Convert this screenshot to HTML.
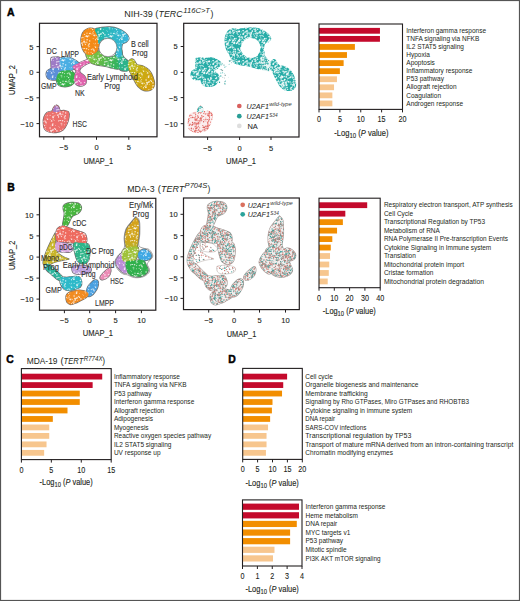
<!DOCTYPE html>
<html><head><meta charset="utf-8"><style>
html,body{margin:0;padding:0;background:#fff;width:520px;height:601px;overflow:hidden;font-family:"Liberation Sans",sans-serif;}
</style></head><body>
<svg width="520" height="601" viewBox="0 0 520 601" style="position:absolute;left:0;top:0" font-family='"Liberation Sans", sans-serif'>
<rect x="0" y="0" width="520" height="601" fill="#fff"/>
<text x="6.90" y="15.80" font-size="10.4" text-anchor="start" fill="#000" font-weight="bold" stroke="#000" stroke-width="0.45">A</text>
<text x="7.20" y="191.20" font-size="10.4" text-anchor="start" fill="#000" font-weight="bold" stroke="#000" stroke-width="0.45">B</text>
<text x="6.30" y="363.10" font-size="10.4" text-anchor="start" fill="#000" font-weight="bold" stroke="#000" stroke-width="0.45">C</text>
<text x="228.20" y="362.80" font-size="10.4" text-anchor="start" fill="#000" font-weight="bold" stroke="#000" stroke-width="0.45">D</text>
<text x="124.20" y="16.80" font-size="9.4" text-anchor="start" fill="#231f20" textLength="28.5" lengthAdjust="spacingAndGlyphs">NIH-39</text>
<text x="155.20" y="16.80" font-size="9.4" text-anchor="start" fill="#231f20" textLength="3.1" lengthAdjust="spacingAndGlyphs">(</text>
<text x="158.60" y="16.80" font-size="9.4" text-anchor="start" fill="#231f20" font-style="italic" textLength="23.9" lengthAdjust="spacingAndGlyphs">TERC</text>
<text x="183.30" y="12.80" font-size="6.8" text-anchor="start" fill="#231f20" font-style="italic" textLength="26.7" lengthAdjust="spacingAndGlyphs">116C&gt;T</text>
<text x="210.40" y="16.80" font-size="9.4" text-anchor="start" fill="#231f20" textLength="2.9" lengthAdjust="spacingAndGlyphs">)</text>
<text x="127.30" y="191.80" font-size="9.4" text-anchor="start" fill="#231f20" textLength="27.3" lengthAdjust="spacingAndGlyphs">MDA-3</text>
<text x="157.70" y="191.80" font-size="9.4" text-anchor="start" fill="#231f20" textLength="3.1" lengthAdjust="spacingAndGlyphs">(</text>
<text x="161.00" y="191.80" font-size="9.4" text-anchor="start" fill="#231f20" font-style="italic" textLength="23.2" lengthAdjust="spacingAndGlyphs">TERT</text>
<text x="184.60" y="188.40" font-size="6.7" text-anchor="start" fill="#231f20" font-style="italic" textLength="22.7" lengthAdjust="spacingAndGlyphs">P704S</text>
<text x="207.60" y="191.80" font-size="9.4" text-anchor="start" fill="#231f20" textLength="2.8" lengthAdjust="spacingAndGlyphs">)</text>
<text x="26.70" y="363.60" font-size="9.4" text-anchor="start" fill="#231f20" textLength="30.8" lengthAdjust="spacingAndGlyphs">MDA-19</text>
<text x="60.40" y="363.60" font-size="9.4" text-anchor="start" fill="#231f20" textLength="3.1" lengthAdjust="spacingAndGlyphs">(</text>
<text x="63.60" y="363.60" font-size="9.4" text-anchor="start" fill="#231f20" font-style="italic" textLength="19.7" lengthAdjust="spacingAndGlyphs">TERT</text>
<text x="83.70" y="360.60" font-size="6.5" text-anchor="start" fill="#231f20" font-style="italic" textLength="18.8" lengthAdjust="spacingAndGlyphs">R774X</text>
<text x="102.20" y="363.60" font-size="9.4" text-anchor="start" fill="#231f20" textLength="2.8" lengthAdjust="spacingAndGlyphs">)</text>
<rect x="319.00" y="27.90" width="60.95" height="5.8" fill="#c40a2c"/>
<rect x="319.00" y="35.97" width="60.95" height="5.8" fill="#c40a2c"/>
<rect x="319.00" y="44.04" width="35.90" height="5.8" fill="#f28e00"/>
<rect x="319.00" y="52.11" width="27.97" height="5.8" fill="#f28e00"/>
<rect x="319.00" y="60.18" width="24.63" height="5.8" fill="#f28e00"/>
<rect x="319.00" y="68.25" width="20.88" height="5.8" fill="#f28e00"/>
<rect x="319.00" y="76.32" width="17.95" height="5.8" fill="#f7c68e"/>
<rect x="319.00" y="84.39" width="15.03" height="5.8" fill="#f7c68e"/>
<rect x="319.00" y="92.46" width="13.36" height="5.8" fill="#f7c68e"/>
<rect x="319.00" y="100.53" width="13.36" height="5.8" fill="#f7c68e"/>
<rect x="319.00" y="24.00" width="83.50" height="85.40" fill="none" stroke="#231f20" stroke-width="1.1"/>
<line x1="319.00" y1="109.40" x2="319.00" y2="112.40" stroke="#231f20" stroke-width="1"/>
<text x="319.00" y="122.30" font-size="8.3" text-anchor="middle" fill="#231f20" textLength="4.0" lengthAdjust="spacingAndGlyphs" stroke="#231f20" stroke-width="0.1">0</text>
<line x1="339.88" y1="109.40" x2="339.88" y2="112.40" stroke="#231f20" stroke-width="1"/>
<text x="339.88" y="122.30" font-size="8.3" text-anchor="middle" fill="#231f20" textLength="4.0" lengthAdjust="spacingAndGlyphs" stroke="#231f20" stroke-width="0.1">5</text>
<line x1="360.75" y1="109.40" x2="360.75" y2="112.40" stroke="#231f20" stroke-width="1"/>
<text x="360.75" y="122.30" font-size="8.3" text-anchor="middle" fill="#231f20" textLength="8.0" lengthAdjust="spacingAndGlyphs" stroke="#231f20" stroke-width="0.1">10</text>
<line x1="381.62" y1="109.40" x2="381.62" y2="112.40" stroke="#231f20" stroke-width="1"/>
<text x="381.62" y="122.30" font-size="8.3" text-anchor="middle" fill="#231f20" textLength="8.0" lengthAdjust="spacingAndGlyphs" stroke="#231f20" stroke-width="0.1">15</text>
<line x1="402.50" y1="109.40" x2="402.50" y2="112.40" stroke="#231f20" stroke-width="1"/>
<text x="402.50" y="122.30" font-size="8.3" text-anchor="middle" fill="#231f20" textLength="8.0" lengthAdjust="spacingAndGlyphs" stroke="#231f20" stroke-width="0.1">20</text>
<text x="406.30" y="33.00" font-size="6.5" text-anchor="start" fill="#231f20" textLength="79.7" lengthAdjust="spacingAndGlyphs">Interferon gamma response</text>
<text x="406.30" y="41.07" font-size="6.5" text-anchor="start" fill="#231f20">TNFA signaling via NFKB</text>
<text x="406.30" y="49.14" font-size="6.5" text-anchor="start" fill="#231f20">IL2 STAT5 signaling</text>
<text x="406.30" y="57.21" font-size="6.5" text-anchor="start" fill="#231f20">Hypoxia</text>
<text x="406.30" y="65.28" font-size="6.5" text-anchor="start" fill="#231f20">Apoptosis</text>
<text x="406.30" y="73.35" font-size="6.5" text-anchor="start" fill="#231f20">Inflammatory response</text>
<text x="406.30" y="81.42" font-size="6.5" text-anchor="start" fill="#231f20">P53 pathway</text>
<text x="406.30" y="89.49" font-size="6.5" text-anchor="start" fill="#231f20">Allograft rejection</text>
<text x="406.30" y="97.56" font-size="6.5" text-anchor="start" fill="#231f20">Coagulation</text>
<text x="406.30" y="105.63" font-size="6.5" text-anchor="start" fill="#231f20">Androgen response</text>
<text x="334.30" y="135.80" font-size="9.6" fill="#231f20" stroke="#231f20" stroke-width="0.14" textLength="54.2" lengthAdjust="spacingAndGlyphs">-Log<tspan font-size="7.6" dy="2.4">10</tspan><tspan dy="-2.4"> (</tspan><tspan font-style="italic">P</tspan> value)</text>
<rect x="319.00" y="202.30" width="48.19" height="5.8" fill="#c40a2c"/>
<rect x="319.00" y="210.77" width="26.32" height="5.8" fill="#c40a2c"/>
<rect x="319.00" y="219.24" width="23.87" height="5.8" fill="#f28e00"/>
<rect x="319.00" y="227.71" width="18.05" height="5.8" fill="#f28e00"/>
<rect x="319.00" y="236.18" width="13.31" height="5.8" fill="#f28e00"/>
<rect x="319.00" y="244.65" width="11.78" height="5.8" fill="#f28e00"/>
<rect x="319.00" y="253.12" width="11.02" height="5.8" fill="#f7c68e"/>
<rect x="319.00" y="261.59" width="10.25" height="5.8" fill="#f7c68e"/>
<rect x="319.00" y="270.06" width="9.79" height="5.8" fill="#f7c68e"/>
<rect x="319.00" y="278.53" width="8.72" height="5.8" fill="#f7c68e"/>
<rect x="319.00" y="198.20" width="61.20" height="89.50" fill="none" stroke="#231f20" stroke-width="1.1"/>
<line x1="319.00" y1="287.70" x2="319.00" y2="290.70" stroke="#231f20" stroke-width="1"/>
<text x="319.00" y="300.80" font-size="8.3" text-anchor="middle" fill="#231f20" textLength="4.0" lengthAdjust="spacingAndGlyphs" stroke="#231f20" stroke-width="0.1">0</text>
<line x1="334.30" y1="287.70" x2="334.30" y2="290.70" stroke="#231f20" stroke-width="1"/>
<text x="334.30" y="300.80" font-size="8.3" text-anchor="middle" fill="#231f20" textLength="8.0" lengthAdjust="spacingAndGlyphs" stroke="#231f20" stroke-width="0.1">10</text>
<line x1="349.60" y1="287.70" x2="349.60" y2="290.70" stroke="#231f20" stroke-width="1"/>
<text x="349.60" y="300.80" font-size="8.3" text-anchor="middle" fill="#231f20" textLength="8.0" lengthAdjust="spacingAndGlyphs" stroke="#231f20" stroke-width="0.1">20</text>
<line x1="364.90" y1="287.70" x2="364.90" y2="290.70" stroke="#231f20" stroke-width="1"/>
<text x="364.90" y="300.80" font-size="8.3" text-anchor="middle" fill="#231f20" textLength="8.0" lengthAdjust="spacingAndGlyphs" stroke="#231f20" stroke-width="0.1">30</text>
<line x1="380.20" y1="287.70" x2="380.20" y2="290.70" stroke="#231f20" stroke-width="1"/>
<text x="380.20" y="300.80" font-size="8.3" text-anchor="middle" fill="#231f20" textLength="8.0" lengthAdjust="spacingAndGlyphs" stroke="#231f20" stroke-width="0.1">40</text>
<text x="383.90" y="207.40" font-size="6.5" text-anchor="start" fill="#231f20" textLength="128.9" lengthAdjust="spacingAndGlyphs">Respiratory electron transport, ATP synthesis</text>
<text x="383.90" y="215.87" font-size="6.5" text-anchor="start" fill="#231f20">Cell Cycle</text>
<text x="383.90" y="224.34" font-size="6.5" text-anchor="start" fill="#231f20">Transcriptional Regulation by TP53</text>
<text x="383.90" y="232.81" font-size="6.5" text-anchor="start" fill="#231f20">Metabolism of RNA</text>
<text x="383.90" y="241.28" font-size="6.5" text-anchor="start" fill="#231f20" textLength="124.1" lengthAdjust="spacingAndGlyphs">RNA Polymerase II Pre-transcription Events</text>
<text x="383.90" y="249.75" font-size="6.5" text-anchor="start" fill="#231f20" textLength="107.3" lengthAdjust="spacingAndGlyphs">Cytokine Signaling in Immune system</text>
<text x="383.90" y="258.22" font-size="6.5" text-anchor="start" fill="#231f20">Translation</text>
<text x="383.90" y="266.69" font-size="6.5" text-anchor="start" fill="#231f20">Mitochondrial protein import</text>
<text x="383.90" y="275.16" font-size="6.5" text-anchor="start" fill="#231f20">Cristae formation</text>
<text x="383.90" y="283.63" font-size="6.5" text-anchor="start" fill="#231f20" textLength="100.1" lengthAdjust="spacingAndGlyphs">Mitochondrial protein degradation</text>
<text x="322.80" y="313.80" font-size="9.6" fill="#231f20" stroke="#231f20" stroke-width="0.14" textLength="53.0" lengthAdjust="spacingAndGlyphs">-Log<tspan font-size="7.6" dy="2.4">10</tspan><tspan dy="-2.4"> (</tspan><tspan font-style="italic">P</tspan> value)</text>
<rect x="21.40" y="373.70" width="80.82" height="5.8" fill="#c40a2c"/>
<rect x="21.40" y="382.17" width="71.24" height="5.8" fill="#c40a2c"/>
<rect x="21.40" y="390.64" width="58.37" height="5.8" fill="#f28e00"/>
<rect x="21.40" y="399.11" width="58.37" height="5.8" fill="#f28e00"/>
<rect x="21.40" y="407.58" width="46.10" height="5.8" fill="#f28e00"/>
<rect x="21.40" y="416.05" width="31.43" height="5.8" fill="#f28e00"/>
<rect x="21.40" y="424.52" width="27.84" height="5.8" fill="#f7c68e"/>
<rect x="21.40" y="432.99" width="27.84" height="5.8" fill="#f7c68e"/>
<rect x="21.40" y="441.46" width="25.14" height="5.8" fill="#f7c68e"/>
<rect x="21.40" y="449.93" width="22.75" height="5.8" fill="#f7c68e"/>
<rect x="21.40" y="368.60" width="89.80" height="91.00" fill="none" stroke="#231f20" stroke-width="1.1"/>
<line x1="21.40" y1="459.60" x2="21.40" y2="462.60" stroke="#231f20" stroke-width="1"/>
<text x="21.40" y="472.60" font-size="8.3" text-anchor="middle" fill="#231f20" textLength="4.0" lengthAdjust="spacingAndGlyphs" stroke="#231f20" stroke-width="0.1">0</text>
<line x1="51.33" y1="459.60" x2="51.33" y2="462.60" stroke="#231f20" stroke-width="1"/>
<text x="51.33" y="472.60" font-size="8.3" text-anchor="middle" fill="#231f20" textLength="4.0" lengthAdjust="spacingAndGlyphs" stroke="#231f20" stroke-width="0.1">5</text>
<line x1="81.27" y1="459.60" x2="81.27" y2="462.60" stroke="#231f20" stroke-width="1"/>
<text x="81.27" y="472.60" font-size="8.3" text-anchor="middle" fill="#231f20" textLength="8.0" lengthAdjust="spacingAndGlyphs" stroke="#231f20" stroke-width="0.1">10</text>
<line x1="111.20" y1="459.60" x2="111.20" y2="462.60" stroke="#231f20" stroke-width="1"/>
<text x="111.20" y="472.60" font-size="8.3" text-anchor="middle" fill="#231f20" textLength="8.0" lengthAdjust="spacingAndGlyphs" stroke="#231f20" stroke-width="0.1">15</text>
<text x="113.90" y="378.80" font-size="6.5" text-anchor="start" fill="#231f20" textLength="66" lengthAdjust="spacingAndGlyphs">Inflammatory response</text>
<text x="113.90" y="387.27" font-size="6.5" text-anchor="start" fill="#231f20" textLength="72.7" lengthAdjust="spacingAndGlyphs">TNFA signaling via NFKB</text>
<text x="113.90" y="395.74" font-size="6.5" text-anchor="start" fill="#231f20">P53 pathway</text>
<text x="113.90" y="404.21" font-size="6.5" text-anchor="start" fill="#231f20" textLength="80.4" lengthAdjust="spacingAndGlyphs">Interferon gamma response</text>
<text x="113.90" y="412.68" font-size="6.5" text-anchor="start" fill="#231f20">Allograft rejection</text>
<text x="113.90" y="421.15" font-size="6.5" text-anchor="start" fill="#231f20">Adipogenesis</text>
<text x="113.90" y="429.62" font-size="6.5" text-anchor="start" fill="#231f20">Myogenesis</text>
<text x="113.90" y="438.09" font-size="6.5" text-anchor="start" fill="#231f20" textLength="97.3" lengthAdjust="spacingAndGlyphs">Reactive oxygen species pathway</text>
<text x="113.90" y="446.56" font-size="6.5" text-anchor="start" fill="#231f20">IL2 STAT5 signaling</text>
<text x="113.90" y="455.03" font-size="6.5" text-anchor="start" fill="#231f20">UV response up</text>
<text x="39.60" y="484.60" font-size="9.6" fill="#231f20" stroke="#231f20" stroke-width="0.14" textLength="53.1" lengthAdjust="spacingAndGlyphs">-Log<tspan font-size="7.6" dy="2.4">10</tspan><tspan dy="-2.4"> (</tspan><tspan font-style="italic">P</tspan> value)</text>
<rect x="242.70" y="373.70" width="44.40" height="5.8" fill="#c40a2c"/>
<rect x="242.70" y="382.17" width="40.53" height="5.8" fill="#c40a2c"/>
<rect x="242.70" y="390.64" width="39.34" height="5.8" fill="#f28e00"/>
<rect x="242.70" y="399.11" width="29.80" height="5.8" fill="#f28e00"/>
<rect x="242.70" y="407.58" width="29.20" height="5.8" fill="#f28e00"/>
<rect x="242.70" y="416.05" width="27.42" height="5.8" fill="#f28e00"/>
<rect x="242.70" y="424.52" width="25.33" height="5.8" fill="#f7c68e"/>
<rect x="242.70" y="432.99" width="23.84" height="5.8" fill="#f7c68e"/>
<rect x="242.70" y="441.46" width="23.84" height="5.8" fill="#f7c68e"/>
<rect x="242.70" y="449.93" width="23.24" height="5.8" fill="#f7c68e"/>
<rect x="242.70" y="368.40" width="59.60" height="91.00" fill="none" stroke="#231f20" stroke-width="1.1"/>
<line x1="242.70" y1="459.40" x2="242.70" y2="462.40" stroke="#231f20" stroke-width="1"/>
<text x="242.70" y="472.40" font-size="8.3" text-anchor="middle" fill="#231f20" textLength="4.0" lengthAdjust="spacingAndGlyphs" stroke="#231f20" stroke-width="0.1">0</text>
<line x1="257.60" y1="459.40" x2="257.60" y2="462.40" stroke="#231f20" stroke-width="1"/>
<text x="257.60" y="472.40" font-size="8.3" text-anchor="middle" fill="#231f20" textLength="4.0" lengthAdjust="spacingAndGlyphs" stroke="#231f20" stroke-width="0.1">5</text>
<line x1="272.50" y1="459.40" x2="272.50" y2="462.40" stroke="#231f20" stroke-width="1"/>
<text x="272.50" y="472.40" font-size="8.3" text-anchor="middle" fill="#231f20" textLength="8.0" lengthAdjust="spacingAndGlyphs" stroke="#231f20" stroke-width="0.1">10</text>
<line x1="287.40" y1="459.40" x2="287.40" y2="462.40" stroke="#231f20" stroke-width="1"/>
<text x="287.40" y="472.40" font-size="8.3" text-anchor="middle" fill="#231f20" textLength="8.0" lengthAdjust="spacingAndGlyphs" stroke="#231f20" stroke-width="0.1">15</text>
<line x1="302.30" y1="459.40" x2="302.30" y2="462.40" stroke="#231f20" stroke-width="1"/>
<text x="302.30" y="472.40" font-size="8.3" text-anchor="middle" fill="#231f20" textLength="8.0" lengthAdjust="spacingAndGlyphs" stroke="#231f20" stroke-width="0.1">20</text>
<text x="305.30" y="378.80" font-size="6.5" text-anchor="start" fill="#231f20" textLength="27.5" lengthAdjust="spacingAndGlyphs">Cell cycle</text>
<text x="305.30" y="387.27" font-size="6.5" text-anchor="start" fill="#231f20" textLength="113.2" lengthAdjust="spacingAndGlyphs">Organelle biogenesis and maintenance</text>
<text x="305.30" y="395.74" font-size="6.5" text-anchor="start" fill="#231f20" textLength="62.4" lengthAdjust="spacingAndGlyphs">Membrane trafficking</text>
<text x="305.30" y="404.21" font-size="6.5" text-anchor="start" fill="#231f20" textLength="163.7" lengthAdjust="spacingAndGlyphs">Signaling by Rho GTPases, Miro GTPases and RHOBTB3</text>
<text x="305.30" y="412.68" font-size="6.5" text-anchor="start" fill="#231f20" textLength="107" lengthAdjust="spacingAndGlyphs">Cytokine signaling in immune system</text>
<text x="305.30" y="421.15" font-size="6.5" text-anchor="start" fill="#231f20" textLength="29.8" lengthAdjust="spacingAndGlyphs">DNA repair</text>
<text x="305.30" y="429.62" font-size="6.5" text-anchor="start" fill="#231f20" textLength="61.1" lengthAdjust="spacingAndGlyphs">SARS-COV infections</text>
<text x="305.30" y="438.09" font-size="6.5" text-anchor="start" fill="#231f20" textLength="106" lengthAdjust="spacingAndGlyphs">Transcriptional regulation by TP53</text>
<text x="305.30" y="446.56" font-size="6.5" text-anchor="start" fill="#231f20" textLength="208" lengthAdjust="spacingAndGlyphs">Transport of mature mRNA derived from an intron-containing transcript</text>
<text x="305.30" y="455.03" font-size="6.5" text-anchor="start" fill="#231f20" textLength="87.7" lengthAdjust="spacingAndGlyphs">Chromatin modifying enzymes</text>
<text x="245.50" y="485.80" font-size="9.6" fill="#231f20" stroke="#231f20" stroke-width="0.14" textLength="53.3" lengthAdjust="spacingAndGlyphs">-Log<tspan font-size="7.6" dy="2.4">10</tspan><tspan dy="-2.4"> (</tspan><tspan font-style="italic">P</tspan> value)</text>
<rect x="242.50" y="503.60" width="56.52" height="6.2" fill="#c40a2c"/>
<rect x="242.50" y="512.22" width="56.52" height="6.2" fill="#c40a2c"/>
<rect x="242.50" y="520.84" width="54.29" height="6.2" fill="#f28e00"/>
<rect x="242.50" y="529.46" width="47.60" height="6.2" fill="#f28e00"/>
<rect x="242.50" y="538.08" width="47.60" height="6.2" fill="#f28e00"/>
<rect x="242.50" y="546.70" width="31.98" height="6.2" fill="#f7c68e"/>
<rect x="242.50" y="555.32" width="30.49" height="6.2" fill="#f7c68e"/>
<rect x="242.50" y="499.90" width="59.50" height="66.10" fill="none" stroke="#231f20" stroke-width="1.1"/>
<line x1="242.50" y1="566.00" x2="242.50" y2="569.00" stroke="#231f20" stroke-width="1"/>
<text x="242.50" y="578.50" font-size="8.3" text-anchor="middle" fill="#231f20" textLength="4.0" lengthAdjust="spacingAndGlyphs" stroke="#231f20" stroke-width="0.1">0</text>
<line x1="257.38" y1="566.00" x2="257.38" y2="569.00" stroke="#231f20" stroke-width="1"/>
<text x="257.38" y="578.50" font-size="8.3" text-anchor="middle" fill="#231f20" textLength="4.0" lengthAdjust="spacingAndGlyphs" stroke="#231f20" stroke-width="0.1">1</text>
<line x1="272.25" y1="566.00" x2="272.25" y2="569.00" stroke="#231f20" stroke-width="1"/>
<text x="272.25" y="578.50" font-size="8.3" text-anchor="middle" fill="#231f20" textLength="4.0" lengthAdjust="spacingAndGlyphs" stroke="#231f20" stroke-width="0.1">2</text>
<line x1="287.12" y1="566.00" x2="287.12" y2="569.00" stroke="#231f20" stroke-width="1"/>
<text x="287.12" y="578.50" font-size="8.3" text-anchor="middle" fill="#231f20" textLength="4.0" lengthAdjust="spacingAndGlyphs" stroke="#231f20" stroke-width="0.1">3</text>
<line x1="302.00" y1="566.00" x2="302.00" y2="569.00" stroke="#231f20" stroke-width="1"/>
<text x="302.00" y="578.50" font-size="8.3" text-anchor="middle" fill="#231f20" textLength="4.0" lengthAdjust="spacingAndGlyphs" stroke="#231f20" stroke-width="0.1">4</text>
<text x="305.50" y="508.90" font-size="6.5" text-anchor="start" fill="#231f20" textLength="79.9" lengthAdjust="spacingAndGlyphs">Interferon gamma response</text>
<text x="305.50" y="517.52" font-size="6.5" text-anchor="start" fill="#231f20">Heme metabolism</text>
<text x="305.50" y="526.14" font-size="6.5" text-anchor="start" fill="#231f20">DNA repair</text>
<text x="305.50" y="534.76" font-size="6.5" text-anchor="start" fill="#231f20">MYC targets v1</text>
<text x="305.50" y="543.38" font-size="6.5" text-anchor="start" fill="#231f20">P53 pathway</text>
<text x="305.50" y="552.00" font-size="6.5" text-anchor="start" fill="#231f20">Mitotic spindle</text>
<text x="305.50" y="560.62" font-size="6.5" text-anchor="start" fill="#231f20" textLength="75" lengthAdjust="spacingAndGlyphs">PI3K AKT mTOR signaling</text>
<text x="245.50" y="591.50" font-size="9.6" fill="#231f20" stroke="#231f20" stroke-width="0.14" textLength="53.3" lengthAdjust="spacingAndGlyphs">-Log<tspan font-size="7.6" dy="2.4">10</tspan><tspan dy="-2.4"> (</tspan><tspan font-style="italic">P</tspan> value)</text>
<rect x="39.5" y="23.3" width="117.50" height="113.50" fill="none" stroke="#231f20" stroke-width="1.2"/>
<line x1="63.8" y1="136.8" x2="63.8" y2="139.80" stroke="#231f20" stroke-width="1"/>
<text x="63.80" y="150.40" font-size="8.1" text-anchor="middle" fill="#231f20" textLength="8.6" lengthAdjust="spacingAndGlyphs" stroke="#231f20" stroke-width="0.12">&#8722;5</text>
<line x1="96.5" y1="136.8" x2="96.5" y2="139.80" stroke="#231f20" stroke-width="1"/>
<text x="96.50" y="150.40" font-size="8.1" text-anchor="middle" fill="#231f20" textLength="4.2" lengthAdjust="spacingAndGlyphs" stroke="#231f20" stroke-width="0.12">0</text>
<line x1="128.8" y1="136.8" x2="128.8" y2="139.80" stroke="#231f20" stroke-width="1"/>
<text x="128.80" y="150.40" font-size="8.1" text-anchor="middle" fill="#231f20" textLength="4.2" lengthAdjust="spacingAndGlyphs" stroke="#231f20" stroke-width="0.12">5</text>
<line x1="36.50" y1="46.6" x2="39.5" y2="46.6" stroke="#231f20" stroke-width="1"/>
<text x="33.40" y="49.50" font-size="8.1" text-anchor="end" fill="#231f20" textLength="4.2" lengthAdjust="spacingAndGlyphs" stroke="#231f20" stroke-width="0.12">5</text>
<line x1="36.50" y1="72.3" x2="39.5" y2="72.3" stroke="#231f20" stroke-width="1"/>
<text x="33.40" y="75.20" font-size="8.1" text-anchor="end" fill="#231f20" textLength="4.2" lengthAdjust="spacingAndGlyphs" stroke="#231f20" stroke-width="0.12">0</text>
<line x1="36.50" y1="97.8" x2="39.5" y2="97.8" stroke="#231f20" stroke-width="1"/>
<text x="33.40" y="100.70" font-size="8.1" text-anchor="end" fill="#231f20" textLength="8.6" lengthAdjust="spacingAndGlyphs" stroke="#231f20" stroke-width="0.12">&#8722;5</text>
<line x1="36.50" y1="123.6" x2="39.5" y2="123.6" stroke="#231f20" stroke-width="1"/>
<text x="33.40" y="126.50" font-size="8.1" text-anchor="end" fill="#231f20" textLength="12.8" lengthAdjust="spacingAndGlyphs" stroke="#231f20" stroke-width="0.12">&#8722;10</text>
<text x="83.40" y="163.50" font-size="8.8" text-anchor="start" fill="#231f20" textLength="29.6" lengthAdjust="spacingAndGlyphs" stroke="#231f20" stroke-width="0.12">UMAP_1</text>
<text x="0" y="0" font-size="8.8" fill="#231f20" stroke="#231f20" stroke-width="0.12" textLength="30.0" lengthAdjust="spacingAndGlyphs" transform="translate(15.0,95) rotate(-90)">UMAP_2</text>
<rect x="183.7" y="23.3" width="115.30" height="113.70" fill="none" stroke="#231f20" stroke-width="1.2"/>
<line x1="207.6" y1="137" x2="207.6" y2="140.00" stroke="#231f20" stroke-width="1"/>
<text x="207.60" y="150.60" font-size="8.1" text-anchor="middle" fill="#231f20" textLength="8.6" lengthAdjust="spacingAndGlyphs" stroke="#231f20" stroke-width="0.12">&#8722;5</text>
<line x1="239.6" y1="137" x2="239.6" y2="140.00" stroke="#231f20" stroke-width="1"/>
<text x="239.60" y="150.60" font-size="8.1" text-anchor="middle" fill="#231f20" textLength="4.2" lengthAdjust="spacingAndGlyphs" stroke="#231f20" stroke-width="0.12">0</text>
<line x1="271" y1="137" x2="271" y2="140.00" stroke="#231f20" stroke-width="1"/>
<text x="271.00" y="150.60" font-size="8.1" text-anchor="middle" fill="#231f20" textLength="4.2" lengthAdjust="spacingAndGlyphs" stroke="#231f20" stroke-width="0.12">5</text>
<line x1="180.70" y1="46.5" x2="183.7" y2="46.5" stroke="#231f20" stroke-width="1"/>
<text x="177.60" y="49.40" font-size="8.1" text-anchor="end" fill="#231f20" textLength="4.2" lengthAdjust="spacingAndGlyphs" stroke="#231f20" stroke-width="0.12">5</text>
<line x1="180.70" y1="72.4" x2="183.7" y2="72.4" stroke="#231f20" stroke-width="1"/>
<text x="177.60" y="75.30" font-size="8.1" text-anchor="end" fill="#231f20" textLength="4.2" lengthAdjust="spacingAndGlyphs" stroke="#231f20" stroke-width="0.12">0</text>
<line x1="180.70" y1="97.6" x2="183.7" y2="97.6" stroke="#231f20" stroke-width="1"/>
<text x="177.60" y="100.50" font-size="8.1" text-anchor="end" fill="#231f20" textLength="8.6" lengthAdjust="spacingAndGlyphs" stroke="#231f20" stroke-width="0.12">&#8722;5</text>
<line x1="180.70" y1="123.7" x2="183.7" y2="123.7" stroke="#231f20" stroke-width="1"/>
<text x="177.60" y="126.60" font-size="8.1" text-anchor="end" fill="#231f20" textLength="12.8" lengthAdjust="spacingAndGlyphs" stroke="#231f20" stroke-width="0.12">&#8722;10</text>
<text x="226.00" y="163.70" font-size="8.8" text-anchor="start" fill="#231f20" textLength="30.0" lengthAdjust="spacingAndGlyphs" stroke="#231f20" stroke-width="0.12">UMAP_1</text>
<rect x="39.5" y="198.3" width="116.30" height="111.90" fill="none" stroke="#231f20" stroke-width="1.2"/>
<line x1="64.4" y1="310.2" x2="64.4" y2="313.20" stroke="#231f20" stroke-width="1"/>
<text x="64.40" y="323.30" font-size="8.1" text-anchor="middle" fill="#231f20" textLength="8.6" lengthAdjust="spacingAndGlyphs" stroke="#231f20" stroke-width="0.12">&#8722;5</text>
<line x1="89.7" y1="310.2" x2="89.7" y2="313.20" stroke="#231f20" stroke-width="1"/>
<text x="89.70" y="323.30" font-size="8.1" text-anchor="middle" fill="#231f20" textLength="4.2" lengthAdjust="spacingAndGlyphs" stroke="#231f20" stroke-width="0.12">0</text>
<line x1="115.6" y1="310.2" x2="115.6" y2="313.20" stroke="#231f20" stroke-width="1"/>
<text x="115.60" y="323.30" font-size="8.1" text-anchor="middle" fill="#231f20" textLength="4.2" lengthAdjust="spacingAndGlyphs" stroke="#231f20" stroke-width="0.12">5</text>
<line x1="141.4" y1="310.2" x2="141.4" y2="313.20" stroke="#231f20" stroke-width="1"/>
<text x="141.40" y="323.30" font-size="8.1" text-anchor="middle" fill="#231f20" textLength="8.4" lengthAdjust="spacingAndGlyphs" stroke="#231f20" stroke-width="0.12">10</text>
<line x1="36.50" y1="214.8" x2="39.5" y2="214.8" stroke="#231f20" stroke-width="1"/>
<text x="33.40" y="217.70" font-size="8.1" text-anchor="end" fill="#231f20" textLength="8.4" lengthAdjust="spacingAndGlyphs" stroke="#231f20" stroke-width="0.12">10</text>
<line x1="36.50" y1="235.9" x2="39.5" y2="235.9" stroke="#231f20" stroke-width="1"/>
<text x="33.40" y="238.80" font-size="8.1" text-anchor="end" fill="#231f20" textLength="4.2" lengthAdjust="spacingAndGlyphs" stroke="#231f20" stroke-width="0.12">5</text>
<line x1="36.50" y1="257.1" x2="39.5" y2="257.1" stroke="#231f20" stroke-width="1"/>
<text x="33.40" y="260.00" font-size="8.1" text-anchor="end" fill="#231f20" textLength="4.2" lengthAdjust="spacingAndGlyphs" stroke="#231f20" stroke-width="0.12">0</text>
<line x1="36.50" y1="278.1" x2="39.5" y2="278.1" stroke="#231f20" stroke-width="1"/>
<text x="33.40" y="281.00" font-size="8.1" text-anchor="end" fill="#231f20" textLength="8.6" lengthAdjust="spacingAndGlyphs" stroke="#231f20" stroke-width="0.12">&#8722;5</text>
<line x1="36.50" y1="299.1" x2="39.5" y2="299.1" stroke="#231f20" stroke-width="1"/>
<text x="33.40" y="302.00" font-size="8.1" text-anchor="end" fill="#231f20" textLength="12.8" lengthAdjust="spacingAndGlyphs" stroke="#231f20" stroke-width="0.12">&#8722;10</text>
<text x="82.80" y="336.30" font-size="8.8" text-anchor="start" fill="#231f20" textLength="30.2" lengthAdjust="spacingAndGlyphs" stroke="#231f20" stroke-width="0.12">UMAP_1</text>
<text x="0" y="0" font-size="8.8" fill="#231f20" stroke="#231f20" stroke-width="0.12" textLength="29.2" lengthAdjust="spacingAndGlyphs" transform="translate(15.0,270) rotate(-90)">UMAP_2</text>
<rect x="183.5" y="198.0" width="115.80" height="111.60" fill="none" stroke="#231f20" stroke-width="1.2"/>
<line x1="208.7" y1="309.6" x2="208.7" y2="312.60" stroke="#231f20" stroke-width="1"/>
<text x="208.70" y="323.10" font-size="8.1" text-anchor="middle" fill="#231f20" textLength="8.6" lengthAdjust="spacingAndGlyphs" stroke="#231f20" stroke-width="0.12">&#8722;5</text>
<line x1="234.2" y1="309.6" x2="234.2" y2="312.60" stroke="#231f20" stroke-width="1"/>
<text x="234.20" y="323.10" font-size="8.1" text-anchor="middle" fill="#231f20" textLength="4.2" lengthAdjust="spacingAndGlyphs" stroke="#231f20" stroke-width="0.12">0</text>
<line x1="259.5" y1="309.6" x2="259.5" y2="312.60" stroke="#231f20" stroke-width="1"/>
<text x="259.50" y="323.10" font-size="8.1" text-anchor="middle" fill="#231f20" textLength="4.2" lengthAdjust="spacingAndGlyphs" stroke="#231f20" stroke-width="0.12">5</text>
<line x1="285.5" y1="309.6" x2="285.5" y2="312.60" stroke="#231f20" stroke-width="1"/>
<text x="285.50" y="323.10" font-size="8.1" text-anchor="middle" fill="#231f20" textLength="8.4" lengthAdjust="spacingAndGlyphs" stroke="#231f20" stroke-width="0.12">10</text>
<line x1="180.50" y1="214.3" x2="183.5" y2="214.3" stroke="#231f20" stroke-width="1"/>
<text x="177.60" y="217.20" font-size="8.1" text-anchor="end" fill="#231f20" textLength="8.4" lengthAdjust="spacingAndGlyphs" stroke="#231f20" stroke-width="0.12">10</text>
<line x1="180.50" y1="235.6" x2="183.5" y2="235.6" stroke="#231f20" stroke-width="1"/>
<text x="177.60" y="238.50" font-size="8.1" text-anchor="end" fill="#231f20" textLength="4.2" lengthAdjust="spacingAndGlyphs" stroke="#231f20" stroke-width="0.12">5</text>
<line x1="180.50" y1="256.8" x2="183.5" y2="256.8" stroke="#231f20" stroke-width="1"/>
<text x="177.60" y="259.70" font-size="8.1" text-anchor="end" fill="#231f20" textLength="4.2" lengthAdjust="spacingAndGlyphs" stroke="#231f20" stroke-width="0.12">0</text>
<line x1="180.50" y1="277.8" x2="183.5" y2="277.8" stroke="#231f20" stroke-width="1"/>
<text x="177.60" y="280.70" font-size="8.1" text-anchor="end" fill="#231f20" textLength="8.6" lengthAdjust="spacingAndGlyphs" stroke="#231f20" stroke-width="0.12">&#8722;5</text>
<line x1="180.50" y1="298.4" x2="183.5" y2="298.4" stroke="#231f20" stroke-width="1"/>
<text x="177.60" y="301.30" font-size="8.1" text-anchor="end" fill="#231f20" textLength="12.8" lengthAdjust="spacingAndGlyphs" stroke="#231f20" stroke-width="0.12">&#8722;10</text>
<text x="226.70" y="337.00" font-size="8.8" text-anchor="start" fill="#231f20" textLength="29.6" lengthAdjust="spacingAndGlyphs" stroke="#231f20" stroke-width="0.12">UMAP_1</text>
<defs>
<linearGradient id="gBcell" x1="0" y1="0" x2="1" y2="1"><stop offset="0" stop-color="#b5c21e"/><stop offset="0.45" stop-color="#c9ad12"/><stop offset="1" stop-color="#d89a0e"/></linearGradient>
<linearGradient id="gGrn" x1="0" y1="0" x2="1" y2="0.3"><stop offset="0" stop-color="#8cc63f"/><stop offset="0.55" stop-color="#62bb47"/><stop offset="1" stop-color="#35b45e"/></linearGradient>
<linearGradient id="gTeal" x1="0" y1="0" x2="1" y2="0.2"><stop offset="0" stop-color="#1fb59a"/><stop offset="0.45" stop-color="#2bb7bf"/><stop offset="1" stop-color="#3ab5dc"/></linearGradient>
<linearGradient id="gGold" x1="0" y1="0" x2="0" y2="1"><stop offset="0" stop-color="#d6a21a"/><stop offset="0.7" stop-color="#cfa51c"/><stop offset="1" stop-color="#b4b52a"/></linearGradient>
<pattern id="speck" width="24" height="24" patternUnits="userSpaceOnUse"><circle cx="10.86" cy="13.43" r="0.77" fill="#fff" fill-opacity="0.69"/><circle cx="12.19" cy="14.10" r="0.43" fill="#fff" fill-opacity="0.70"/><circle cx="15.12" cy="19.03" r="0.39" fill="#fff" fill-opacity="0.62"/><circle cx="2.18" cy="19.43" r="0.66" fill="#fff" fill-opacity="0.52"/><circle cx="23.57" cy="23.15" r="0.64" fill="#fff" fill-opacity="0.75"/><circle cx="3.78" cy="0.36" r="0.59" fill="#fff" fill-opacity="0.52"/><circle cx="4.56" cy="5.81" r="0.36" fill="#fff" fill-opacity="0.69"/><circle cx="10.57" cy="20.22" r="0.58" fill="#fff" fill-opacity="0.76"/><circle cx="11.99" cy="15.90" r="0.56" fill="#fff" fill-opacity="0.61"/><circle cx="23.94" cy="23.90" r="0.73" fill="#fff" fill-opacity="0.78"/><circle cx="7.57" cy="5.51" r="0.48" fill="#fff" fill-opacity="0.53"/><circle cx="18.39" cy="9.61" r="0.73" fill="#fff" fill-opacity="0.65"/><circle cx="22.99" cy="20.34" r="0.35" fill="#fff" fill-opacity="0.58"/><circle cx="21.85" cy="11.28" r="0.79" fill="#fff" fill-opacity="0.66"/><circle cx="1.75" cy="15.11" r="0.70" fill="#fff" fill-opacity="0.61"/><circle cx="2.09" cy="7.98" r="0.78" fill="#fff" fill-opacity="0.80"/><circle cx="2.83" cy="5.91" r="0.40" fill="#fff" fill-opacity="0.52"/><circle cx="19.13" cy="4.26" r="0.60" fill="#fff" fill-opacity="0.68"/><circle cx="4.58" cy="17.57" r="0.41" fill="#fff" fill-opacity="0.76"/><circle cx="2.80" cy="10.10" r="0.45" fill="#fff" fill-opacity="0.61"/><circle cx="23.30" cy="19.28" r="0.49" fill="#fff" fill-opacity="0.85"/><circle cx="5.06" cy="9.46" r="0.73" fill="#fff" fill-opacity="0.76"/><circle cx="2.41" cy="23.74" r="0.45" fill="#fff" fill-opacity="0.60"/><circle cx="18.54" cy="7.89" r="0.48" fill="#fff" fill-opacity="0.53"/><circle cx="2.16" cy="13.99" r="0.46" fill="#fff" fill-opacity="0.74"/><circle cx="8.92" cy="10.88" r="0.78" fill="#fff" fill-opacity="0.69"/><circle cx="13.79" cy="20.80" r="0.43" fill="#fff" fill-opacity="0.56"/><circle cx="21.80" cy="19.63" r="0.46" fill="#fff" fill-opacity="0.58"/><circle cx="17.75" cy="22.57" r="0.44" fill="#fff" fill-opacity="0.88"/><circle cx="21.17" cy="14.48" r="0.54" fill="#fff" fill-opacity="0.54"/><circle cx="0.93" cy="23.10" r="0.46" fill="#fff" fill-opacity="0.78"/><circle cx="6.17" cy="19.77" r="0.62" fill="#fff" fill-opacity="0.62"/><circle cx="4.21" cy="17.29" r="0.38" fill="#fff" fill-opacity="0.59"/><circle cx="13.42" cy="20.46" r="0.63" fill="#fff" fill-opacity="0.61"/><circle cx="22.02" cy="4.90" r="0.36" fill="#fff" fill-opacity="0.61"/><circle cx="10.70" cy="1.45" r="0.43" fill="#fff" fill-opacity="0.65"/><circle cx="13.73" cy="3.16" r="0.51" fill="#fff" fill-opacity="0.86"/><circle cx="23.53" cy="15.77" r="0.66" fill="#fff" fill-opacity="0.73"/><circle cx="3.37" cy="0.84" r="0.36" fill="#fff" fill-opacity="0.86"/><circle cx="16.82" cy="23.11" r="0.36" fill="#fff" fill-opacity="0.75"/><circle cx="11.57" cy="17.53" r="0.49" fill="#fff" fill-opacity="0.90"/><circle cx="1.81" cy="13.11" r="0.68" fill="#fff" fill-opacity="0.86"/><circle cx="17.69" cy="16.89" r="0.71" fill="#fff" fill-opacity="0.87"/><circle cx="8.44" cy="16.44" r="0.76" fill="#fff" fill-opacity="0.85"/><circle cx="10.01" cy="18.97" r="0.74" fill="#fff" fill-opacity="0.73"/><circle cx="15.00" cy="9.18" r="0.61" fill="#fff" fill-opacity="0.74"/><circle cx="1.92" cy="15.35" r="0.80" fill="#fff" fill-opacity="0.85"/><circle cx="17.48" cy="9.32" r="0.68" fill="#fff" fill-opacity="0.73"/><circle cx="10.57" cy="20.12" r="0.39" fill="#fff" fill-opacity="0.80"/><circle cx="0.71" cy="14.43" r="0.57" fill="#fff" fill-opacity="0.59"/><circle cx="16.76" cy="11.93" r="0.63" fill="#fff" fill-opacity="0.87"/><circle cx="6.14" cy="0.27" r="0.49" fill="#fff" fill-opacity="0.77"/><circle cx="4.86" cy="4.07" r="0.76" fill="#fff" fill-opacity="0.76"/><circle cx="10.61" cy="21.40" r="0.50" fill="#fff" fill-opacity="0.77"/><circle cx="4.76" cy="10.34" r="0.71" fill="#fff" fill-opacity="0.87"/><circle cx="21.13" cy="9.23" r="0.61" fill="#fff" fill-opacity="0.63"/><circle cx="3.27" cy="11.92" r="0.73" fill="#fff" fill-opacity="0.84"/><circle cx="17.07" cy="22.80" r="0.47" fill="#fff" fill-opacity="0.57"/><circle cx="10.82" cy="6.60" r="0.45" fill="#fff" fill-opacity="0.67"/><circle cx="15.02" cy="11.85" r="0.49" fill="#fff" fill-opacity="0.84"/><circle cx="23.57" cy="10.86" r="0.38" fill="#fff" fill-opacity="0.51"/><circle cx="20.95" cy="1.00" r="0.67" fill="#fff" fill-opacity="0.73"/><circle cx="7.42" cy="19.00" r="0.36" fill="#fff" fill-opacity="0.55"/><circle cx="10.92" cy="0.59" r="0.72" fill="#fff" fill-opacity="0.59"/><circle cx="3.38" cy="1.13" r="0.63" fill="#fff" fill-opacity="0.68"/><circle cx="15.12" cy="15.72" r="0.71" fill="#fff" fill-opacity="0.88"/><circle cx="16.43" cy="4.78" r="0.56" fill="#fff" fill-opacity="0.57"/><circle cx="0.26" cy="11.33" r="0.67" fill="#fff" fill-opacity="0.57"/><circle cx="6.54" cy="8.30" r="0.66" fill="#fff" fill-opacity="0.71"/><circle cx="14.75" cy="18.15" r="0.53" fill="#fff" fill-opacity="0.82"/><circle cx="21.75" cy="2.09" r="0.77" fill="#fff" fill-opacity="0.79"/><circle cx="3.12" cy="10.88" r="0.63" fill="#fff" fill-opacity="0.86"/><circle cx="9.04" cy="13.65" r="0.75" fill="#fff" fill-opacity="0.82"/><circle cx="22.66" cy="11.13" r="0.64" fill="#fff" fill-opacity="0.58"/><circle cx="17.33" cy="19.64" r="0.64" fill="#fff" fill-opacity="0.79"/><circle cx="5.12" cy="21.60" r="0.79" fill="#fff" fill-opacity="0.89"/><circle cx="12.89" cy="18.98" r="0.49" fill="#fff" fill-opacity="0.86"/><circle cx="20.54" cy="8.36" r="0.39" fill="#fff" fill-opacity="0.68"/><circle cx="13.21" cy="18.44" r="0.57" fill="#fff" fill-opacity="0.51"/><circle cx="19.42" cy="1.54" r="0.71" fill="#fff" fill-opacity="0.57"/><circle cx="8.04" cy="18.91" r="0.41" fill="#fff" fill-opacity="0.56"/><circle cx="12.40" cy="17.37" r="0.73" fill="#fff" fill-opacity="0.78"/><circle cx="22.70" cy="11.82" r="0.78" fill="#fff" fill-opacity="0.53"/><circle cx="5.31" cy="12.64" r="0.48" fill="#fff" fill-opacity="0.79"/><circle cx="15.33" cy="12.55" r="0.73" fill="#fff" fill-opacity="0.72"/><circle cx="7.48" cy="9.15" r="0.73" fill="#fff" fill-opacity="0.86"/><circle cx="5.00" cy="20.42" r="0.79" fill="#fff" fill-opacity="0.71"/><circle cx="13.75" cy="4.82" r="0.59" fill="#fff" fill-opacity="0.70"/><circle cx="14.53" cy="0.67" r="0.79" fill="#fff" fill-opacity="0.71"/><circle cx="9.61" cy="19.23" r="0.60" fill="#fff" fill-opacity="0.70"/><circle cx="16.58" cy="1.58" r="0.59" fill="#fff" fill-opacity="0.67"/><circle cx="22.96" cy="22.16" r="0.47" fill="#fff" fill-opacity="0.69"/><circle cx="3.05" cy="10.41" r="0.72" fill="#fff" fill-opacity="0.86"/><circle cx="11.44" cy="7.61" r="0.44" fill="#fff" fill-opacity="0.75"/><circle cx="22.21" cy="3.11" r="0.70" fill="#fff" fill-opacity="0.51"/><circle cx="4.66" cy="5.45" r="0.66" fill="#fff" fill-opacity="0.63"/><circle cx="8.53" cy="14.87" r="0.40" fill="#fff" fill-opacity="0.79"/><circle cx="2.95" cy="12.25" r="0.46" fill="#fff" fill-opacity="0.58"/><circle cx="12.73" cy="10.48" r="0.52" fill="#fff" fill-opacity="0.67"/><circle cx="12.70" cy="3.83" r="0.44" fill="#fff" fill-opacity="0.75"/><circle cx="15.32" cy="12.71" r="0.73" fill="#fff" fill-opacity="0.74"/><circle cx="20.56" cy="5.58" r="0.68" fill="#fff" fill-opacity="0.82"/><circle cx="21.66" cy="7.58" r="0.49" fill="#fff" fill-opacity="0.87"/><circle cx="5.24" cy="23.96" r="0.75" fill="#fff" fill-opacity="0.55"/><circle cx="5.74" cy="17.44" r="0.47" fill="#fff" fill-opacity="0.54"/><circle cx="19.97" cy="10.12" r="0.71" fill="#fff" fill-opacity="0.55"/><circle cx="9.67" cy="16.45" r="0.36" fill="#fff" fill-opacity="0.58"/><circle cx="16.38" cy="21.87" r="0.79" fill="#fff" fill-opacity="0.55"/><circle cx="12.14" cy="18.20" r="0.58" fill="#fff" fill-opacity="0.77"/><circle cx="4.54" cy="1.69" r="0.40" fill="#fff" fill-opacity="0.51"/><circle cx="13.24" cy="12.36" r="0.61" fill="#fff" fill-opacity="0.56"/><circle cx="4.43" cy="4.89" r="0.73" fill="#fff" fill-opacity="0.90"/><circle cx="22.25" cy="2.29" r="0.38" fill="#fff" fill-opacity="0.88"/><circle cx="11.09" cy="18.35" r="0.50" fill="#fff" fill-opacity="0.69"/><circle cx="12.37" cy="10.32" r="0.62" fill="#fff" fill-opacity="0.51"/><circle cx="16.82" cy="20.26" r="0.43" fill="#fff" fill-opacity="0.68"/><circle cx="17.74" cy="9.73" r="0.44" fill="#fff" fill-opacity="0.57"/><circle cx="12.30" cy="0.37" r="0.75" fill="#fff" fill-opacity="0.82"/><circle cx="16.91" cy="20.66" r="0.63" fill="#fff" fill-opacity="0.66"/><circle cx="14.39" cy="12.10" r="0.79" fill="#fff" fill-opacity="0.82"/></pattern>
<pattern id="tealdots" width="30" height="30" patternUnits="userSpaceOnUse"><rect width="30" height="30" fill="#26aca7"/><circle cx="7.75" cy="27.34" r="0.78" fill="#ffffff" fill-opacity="0.94"/><circle cx="12.17" cy="26.90" r="0.85" fill="#e8f7f6" fill-opacity="0.93"/><circle cx="22.96" cy="12.17" r="0.78" fill="#ffffff" fill-opacity="0.94"/><circle cx="9.05" cy="3.03" r="0.85" fill="#ffffff" fill-opacity="0.77"/><circle cx="28.34" cy="19.98" r="0.60" fill="#c9ecea" fill-opacity="0.87"/><circle cx="15.99" cy="11.69" r="0.90" fill="#ffffff" fill-opacity="0.91"/><circle cx="22.85" cy="29.40" r="0.46" fill="#ffffff" fill-opacity="0.92"/><circle cx="7.70" cy="12.05" r="0.47" fill="#ffffff" fill-opacity="0.89"/><circle cx="0.32" cy="7.76" r="0.57" fill="#e8f7f6" fill-opacity="0.87"/><circle cx="15.23" cy="29.01" r="0.71" fill="#ffffff" fill-opacity="0.89"/><circle cx="24.29" cy="2.29" r="0.72" fill="#ffffff" fill-opacity="0.82"/><circle cx="28.16" cy="11.58" r="0.89" fill="#c9ecea" fill-opacity="0.86"/><circle cx="17.90" cy="12.89" r="0.67" fill="#e8f7f6" fill-opacity="0.86"/><circle cx="17.93" cy="10.97" r="0.58" fill="#e8f7f6" fill-opacity="0.87"/><circle cx="8.51" cy="21.50" r="0.58" fill="#ffffff" fill-opacity="0.93"/><circle cx="17.57" cy="18.99" r="0.63" fill="#c9ecea" fill-opacity="0.72"/><circle cx="9.45" cy="11.93" r="0.71" fill="#e8f7f6" fill-opacity="0.72"/><circle cx="27.17" cy="12.89" r="0.66" fill="#ffffff" fill-opacity="0.71"/><circle cx="2.95" cy="24.31" r="0.86" fill="#ffffff" fill-opacity="0.99"/><circle cx="24.50" cy="18.11" r="0.50" fill="#c9ecea" fill-opacity="0.84"/><circle cx="6.11" cy="1.56" r="0.69" fill="#ffffff" fill-opacity="0.81"/><circle cx="4.19" cy="12.51" r="0.72" fill="#c9ecea" fill-opacity="0.81"/><circle cx="22.32" cy="24.45" r="0.51" fill="#e8f7f6" fill-opacity="0.92"/><circle cx="7.15" cy="3.42" r="0.85" fill="#e8f7f6" fill-opacity="0.78"/><circle cx="18.29" cy="21.75" r="0.76" fill="#ffffff" fill-opacity="0.89"/><circle cx="22.60" cy="5.69" r="0.56" fill="#ffffff" fill-opacity="0.96"/><circle cx="1.19" cy="1.82" r="0.57" fill="#c9ecea" fill-opacity="0.71"/><circle cx="1.14" cy="6.68" r="0.58" fill="#ffffff" fill-opacity="0.97"/><circle cx="4.83" cy="7.04" r="0.89" fill="#c9ecea" fill-opacity="0.84"/><circle cx="6.32" cy="10.31" r="0.79" fill="#ffffff" fill-opacity="0.94"/><circle cx="13.42" cy="24.66" r="0.83" fill="#ffffff" fill-opacity="0.83"/><circle cx="22.42" cy="11.70" r="0.52" fill="#ffffff" fill-opacity="0.90"/><circle cx="29.68" cy="9.76" r="0.70" fill="#ffffff" fill-opacity="0.83"/><circle cx="11.08" cy="2.91" r="0.84" fill="#ffffff" fill-opacity="0.86"/><circle cx="12.96" cy="17.04" r="0.82" fill="#c9ecea" fill-opacity="0.79"/><circle cx="23.27" cy="2.28" r="0.55" fill="#ffffff" fill-opacity="0.91"/><circle cx="14.84" cy="22.92" r="0.60" fill="#ffffff" fill-opacity="0.77"/><circle cx="19.72" cy="9.81" r="0.86" fill="#e8f7f6" fill-opacity="0.91"/><circle cx="17.08" cy="27.56" r="0.87" fill="#e8f7f6" fill-opacity="0.83"/><circle cx="24.09" cy="9.14" r="0.59" fill="#c9ecea" fill-opacity="0.99"/><circle cx="21.89" cy="15.48" r="0.49" fill="#e8f7f6" fill-opacity="0.71"/><circle cx="20.31" cy="17.54" r="0.81" fill="#e8f7f6" fill-opacity="0.94"/><circle cx="16.22" cy="25.09" r="0.70" fill="#ffffff" fill-opacity="0.73"/><circle cx="13.63" cy="25.64" r="0.82" fill="#ffffff" fill-opacity="0.85"/><circle cx="16.32" cy="17.02" r="0.88" fill="#c9ecea" fill-opacity="0.72"/><circle cx="16.40" cy="23.64" r="0.49" fill="#ffffff" fill-opacity="0.78"/><circle cx="3.16" cy="9.41" r="0.46" fill="#ffffff" fill-opacity="0.73"/><circle cx="24.49" cy="12.66" r="0.77" fill="#c9ecea" fill-opacity="0.93"/><circle cx="15.65" cy="22.94" r="0.63" fill="#e8f7f6" fill-opacity="0.94"/><circle cx="9.99" cy="4.10" r="0.67" fill="#ffffff" fill-opacity="0.91"/><circle cx="27.45" cy="12.32" r="0.82" fill="#e8f7f6" fill-opacity="0.96"/><circle cx="24.18" cy="25.01" r="0.85" fill="#ffffff" fill-opacity="0.86"/><circle cx="21.30" cy="24.07" r="0.64" fill="#c9ecea" fill-opacity="0.97"/><circle cx="7.37" cy="4.87" r="0.74" fill="#ffffff" fill-opacity="0.80"/><circle cx="11.68" cy="15.87" r="0.57" fill="#ffffff" fill-opacity="0.84"/><circle cx="21.92" cy="9.10" r="0.52" fill="#ffffff" fill-opacity="0.97"/><circle cx="22.59" cy="0.52" r="0.67" fill="#ffffff" fill-opacity="0.79"/><circle cx="5.93" cy="10.78" r="0.71" fill="#c9ecea" fill-opacity="0.88"/><circle cx="6.72" cy="5.55" r="0.58" fill="#ffffff" fill-opacity="0.97"/><circle cx="28.12" cy="18.80" r="0.87" fill="#c9ecea" fill-opacity="0.96"/><circle cx="14.54" cy="12.08" r="0.88" fill="#ffffff" fill-opacity="0.84"/><circle cx="6.63" cy="1.49" r="0.88" fill="#c9ecea" fill-opacity="0.99"/><circle cx="23.84" cy="23.23" r="0.80" fill="#ffffff" fill-opacity="0.90"/><circle cx="7.13" cy="0.33" r="0.66" fill="#e8f7f6" fill-opacity="0.84"/><circle cx="7.40" cy="12.64" r="0.84" fill="#c9ecea" fill-opacity="0.75"/><circle cx="9.65" cy="7.78" r="0.84" fill="#ffffff" fill-opacity="0.89"/><circle cx="29.79" cy="8.00" r="0.69" fill="#ffffff" fill-opacity="0.87"/><circle cx="5.35" cy="6.13" r="0.86" fill="#ffffff" fill-opacity="0.95"/><circle cx="2.47" cy="8.10" r="0.77" fill="#ffffff" fill-opacity="0.97"/><circle cx="20.81" cy="2.49" r="0.79" fill="#e8f7f6" fill-opacity="0.71"/><circle cx="5.63" cy="5.79" r="0.76" fill="#c9ecea" fill-opacity="0.76"/><circle cx="16.30" cy="15.77" r="0.52" fill="#e8f7f6" fill-opacity="0.79"/><circle cx="12.16" cy="16.69" r="0.90" fill="#ffffff" fill-opacity="0.81"/><circle cx="20.61" cy="3.17" r="0.63" fill="#c9ecea" fill-opacity="0.92"/><circle cx="23.53" cy="3.66" r="0.65" fill="#c9ecea" fill-opacity="0.91"/><circle cx="14.26" cy="8.80" r="0.50" fill="#ffffff" fill-opacity="0.96"/><circle cx="25.34" cy="21.58" r="0.86" fill="#ffffff" fill-opacity="0.79"/><circle cx="11.28" cy="16.19" r="0.58" fill="#e8f7f6" fill-opacity="0.93"/><circle cx="16.67" cy="2.61" r="0.53" fill="#c9ecea" fill-opacity="0.92"/><circle cx="9.88" cy="28.35" r="0.70" fill="#e8f7f6" fill-opacity="0.83"/><circle cx="11.47" cy="3.06" r="0.73" fill="#ffffff" fill-opacity="0.90"/><circle cx="21.25" cy="5.40" r="0.63" fill="#c9ecea" fill-opacity="0.88"/><circle cx="2.70" cy="6.80" r="0.52" fill="#ffffff" fill-opacity="0.83"/><circle cx="23.14" cy="10.25" r="0.82" fill="#ffffff" fill-opacity="0.89"/><circle cx="23.01" cy="24.63" r="0.62" fill="#e8f7f6" fill-opacity="0.98"/><circle cx="18.69" cy="21.81" r="0.73" fill="#e8f7f6" fill-opacity="0.99"/><circle cx="23.69" cy="19.81" r="0.72" fill="#ffffff" fill-opacity="0.78"/><circle cx="5.66" cy="9.20" r="0.65" fill="#c9ecea" fill-opacity="0.76"/><circle cx="9.98" cy="8.80" r="0.50" fill="#ffffff" fill-opacity="0.78"/><circle cx="16.17" cy="8.95" r="0.56" fill="#ffffff" fill-opacity="0.87"/><circle cx="5.95" cy="28.01" r="0.90" fill="#ffffff" fill-opacity="0.87"/><circle cx="0.80" cy="19.78" r="0.80" fill="#ffffff" fill-opacity="0.77"/><circle cx="17.29" cy="20.91" r="0.60" fill="#e8f7f6" fill-opacity="0.78"/><circle cx="26.49" cy="13.57" r="0.78" fill="#ffffff" fill-opacity="0.97"/><circle cx="16.30" cy="16.82" r="0.70" fill="#e8f7f6" fill-opacity="0.75"/><circle cx="22.37" cy="26.91" r="0.60" fill="#ffffff" fill-opacity="0.74"/><circle cx="24.74" cy="8.66" r="0.85" fill="#ffffff" fill-opacity="0.93"/><circle cx="10.89" cy="4.98" r="0.72" fill="#ffffff" fill-opacity="0.84"/><circle cx="12.10" cy="23.48" r="0.87" fill="#ffffff" fill-opacity="0.79"/><circle cx="20.14" cy="22.13" r="0.62" fill="#ffffff" fill-opacity="0.75"/><circle cx="12.36" cy="0.99" r="0.69" fill="#ffffff" fill-opacity="0.87"/><circle cx="5.21" cy="15.59" r="0.57" fill="#e8f7f6" fill-opacity="0.72"/><circle cx="23.52" cy="21.65" r="0.80" fill="#c9ecea" fill-opacity="0.99"/><circle cx="18.00" cy="14.10" r="0.64" fill="#c9ecea" fill-opacity="0.93"/><circle cx="14.57" cy="29.84" r="0.83" fill="#c9ecea" fill-opacity="0.95"/><circle cx="3.52" cy="3.44" r="0.87" fill="#e8f7f6" fill-opacity="0.86"/><circle cx="12.97" cy="27.13" r="0.59" fill="#ffffff" fill-opacity="0.79"/><circle cx="18.49" cy="13.00" r="0.62" fill="#e8f7f6" fill-opacity="0.93"/><circle cx="9.14" cy="17.80" r="0.48" fill="#ffffff" fill-opacity="0.95"/><circle cx="7.27" cy="26.19" r="0.89" fill="#c9ecea" fill-opacity="0.91"/><circle cx="15.79" cy="7.17" r="0.59" fill="#c9ecea" fill-opacity="0.98"/><circle cx="26.39" cy="29.98" r="0.78" fill="#e8f7f6" fill-opacity="0.96"/><circle cx="12.64" cy="24.16" r="0.55" fill="#c9ecea" fill-opacity="0.87"/><circle cx="27.10" cy="2.96" r="0.81" fill="#ffffff" fill-opacity="0.96"/><circle cx="17.28" cy="13.60" r="0.58" fill="#e8f7f6" fill-opacity="0.71"/><circle cx="5.16" cy="13.22" r="0.65" fill="#c9ecea" fill-opacity="0.74"/><circle cx="20.77" cy="6.92" r="0.59" fill="#c9ecea" fill-opacity="0.97"/><circle cx="9.24" cy="14.95" r="0.87" fill="#c9ecea" fill-opacity="0.96"/><circle cx="6.08" cy="25.77" r="0.76" fill="#ffffff" fill-opacity="0.76"/><circle cx="25.14" cy="10.62" r="0.66" fill="#ffffff" fill-opacity="0.89"/><circle cx="20.94" cy="16.79" r="0.69" fill="#ffffff" fill-opacity="0.76"/><circle cx="26.41" cy="1.50" r="0.50" fill="#e8f7f6" fill-opacity="0.99"/><circle cx="8.22" cy="12.61" r="0.85" fill="#e8f7f6" fill-opacity="0.91"/><circle cx="28.13" cy="13.35" r="0.49" fill="#ffffff" fill-opacity="0.96"/><circle cx="3.62" cy="20.73" r="0.57" fill="#ffffff" fill-opacity="0.85"/><circle cx="8.86" cy="8.20" r="0.81" fill="#ffffff" fill-opacity="0.88"/><circle cx="6.87" cy="9.03" r="0.87" fill="#ffffff" fill-opacity="0.78"/><circle cx="19.20" cy="2.70" r="0.89" fill="#c9ecea" fill-opacity="0.98"/><circle cx="2.21" cy="27.22" r="0.45" fill="#e8f7f6" fill-opacity="0.86"/><circle cx="12.70" cy="17.06" r="0.52" fill="#ffffff" fill-opacity="0.77"/><circle cx="8.37" cy="16.44" r="0.53" fill="#ffffff" fill-opacity="1.00"/><circle cx="1.01" cy="13.85" r="0.79" fill="#c9ecea" fill-opacity="0.70"/><circle cx="26.75" cy="1.81" r="0.48" fill="#e8f7f6" fill-opacity="0.80"/><circle cx="14.50" cy="0.96" r="0.58" fill="#ffffff" fill-opacity="0.88"/><circle cx="23.14" cy="3.36" r="0.65" fill="#c9ecea" fill-opacity="0.86"/><circle cx="7.68" cy="21.48" r="0.77" fill="#e8f7f6" fill-opacity="0.85"/><circle cx="6.64" cy="17.40" r="0.67" fill="#ffffff" fill-opacity="0.76"/><circle cx="29.12" cy="1.58" r="0.65" fill="#ffffff" fill-opacity="0.80"/><circle cx="18.25" cy="18.26" r="0.81" fill="#c9ecea" fill-opacity="0.92"/><circle cx="25.70" cy="0.93" r="0.50" fill="#ffffff" fill-opacity="0.87"/><circle cx="16.30" cy="23.75" r="0.56" fill="#ffffff" fill-opacity="0.72"/><circle cx="12.76" cy="20.87" r="0.82" fill="#e8f7f6" fill-opacity="0.93"/><circle cx="14.95" cy="19.50" r="0.68" fill="#c9ecea" fill-opacity="0.78"/><circle cx="4.79" cy="20.72" r="0.82" fill="#c9ecea" fill-opacity="0.72"/><circle cx="12.32" cy="10.93" r="0.55" fill="#ffffff" fill-opacity="0.74"/><circle cx="22.66" cy="18.02" r="0.51" fill="#c9ecea" fill-opacity="0.86"/><circle cx="29.57" cy="0.10" r="0.63" fill="#ffffff" fill-opacity="0.73"/><circle cx="16.68" cy="14.16" r="0.87" fill="#ffffff" fill-opacity="0.90"/><circle cx="21.51" cy="29.28" r="0.73" fill="#e8f7f6" fill-opacity="0.78"/><circle cx="16.56" cy="7.25" r="0.66" fill="#ffffff" fill-opacity="0.81"/><circle cx="10.11" cy="29.44" r="0.72" fill="#ffffff" fill-opacity="0.75"/><circle cx="17.56" cy="29.84" r="0.78" fill="#ffffff" fill-opacity="0.84"/><circle cx="11.79" cy="25.29" r="0.62" fill="#ffffff" fill-opacity="0.76"/><circle cx="10.42" cy="5.51" r="0.70" fill="#ffffff" fill-opacity="0.84"/><circle cx="12.01" cy="17.82" r="0.79" fill="#c9ecea" fill-opacity="0.83"/><circle cx="29.80" cy="20.38" r="0.84" fill="#ffffff" fill-opacity="0.86"/><circle cx="12.58" cy="1.41" r="0.57" fill="#e8f7f6" fill-opacity="0.89"/><circle cx="15.57" cy="22.25" r="0.68" fill="#ffffff" fill-opacity="0.78"/><circle cx="10.83" cy="4.61" r="0.87" fill="#e8f7f6" fill-opacity="0.74"/><circle cx="7.23" cy="25.18" r="0.50" fill="#e8f7f6" fill-opacity="0.95"/><circle cx="13.50" cy="25.64" r="0.62" fill="#e8f7f6" fill-opacity="0.93"/><circle cx="15.58" cy="1.65" r="0.63" fill="#ffffff" fill-opacity="0.85"/><circle cx="5.63" cy="15.42" r="0.51" fill="#ffffff" fill-opacity="0.79"/><circle cx="12.72" cy="16.32" r="0.51" fill="#e8f7f6" fill-opacity="0.79"/><circle cx="13.55" cy="11.31" r="0.85" fill="#e8f7f6" fill-opacity="0.86"/><circle cx="13.48" cy="4.10" r="0.68" fill="#e8f7f6" fill-opacity="0.77"/><circle cx="8.76" cy="10.35" r="0.55" fill="#ffffff" fill-opacity="0.95"/><circle cx="22.41" cy="14.48" r="0.46" fill="#e8f7f6" fill-opacity="0.90"/><circle cx="2.01" cy="25.59" r="0.70" fill="#e8f7f6" fill-opacity="0.90"/><circle cx="28.65" cy="26.05" r="0.56" fill="#e8f7f6" fill-opacity="0.73"/><circle cx="12.83" cy="11.77" r="0.48" fill="#c9ecea" fill-opacity="0.98"/><circle cx="8.54" cy="21.10" r="0.55" fill="#c9ecea" fill-opacity="0.76"/><circle cx="23.05" cy="10.52" r="0.77" fill="#ffffff" fill-opacity="0.92"/><circle cx="27.23" cy="24.13" r="0.67" fill="#e8f7f6" fill-opacity="0.91"/><circle cx="16.60" cy="21.01" r="0.46" fill="#c9ecea" fill-opacity="0.74"/><circle cx="27.29" cy="27.37" r="0.57" fill="#c9ecea" fill-opacity="0.85"/><circle cx="17.58" cy="14.07" r="0.60" fill="#e8f7f6" fill-opacity="0.72"/><circle cx="1.06" cy="9.71" r="0.62" fill="#e8f7f6" fill-opacity="0.78"/><circle cx="20.04" cy="5.58" r="0.66" fill="#e8f7f6" fill-opacity="0.99"/><circle cx="10.88" cy="17.29" r="0.87" fill="#ffffff" fill-opacity="0.89"/><circle cx="18.62" cy="12.33" r="0.64" fill="#e8f7f6" fill-opacity="0.72"/><circle cx="13.92" cy="13.49" r="0.88" fill="#c9ecea" fill-opacity="0.71"/><circle cx="4.08" cy="15.21" r="0.59" fill="#e8f7f6" fill-opacity="0.84"/><circle cx="0.63" cy="18.16" r="0.57" fill="#e8f7f6" fill-opacity="0.90"/><circle cx="7.04" cy="0.03" r="0.69" fill="#c9ecea" fill-opacity="0.70"/><circle cx="16.41" cy="25.47" r="0.79" fill="#ffffff" fill-opacity="0.89"/><circle cx="16.82" cy="24.93" r="0.89" fill="#e8f7f6" fill-opacity="0.78"/><circle cx="3.12" cy="0.58" r="0.81" fill="#ffffff" fill-opacity="0.91"/><circle cx="20.60" cy="28.92" r="0.82" fill="#ffffff" fill-opacity="0.80"/><circle cx="20.68" cy="24.15" r="0.58" fill="#c9ecea" fill-opacity="0.79"/><circle cx="22.47" cy="16.02" r="0.56" fill="#ffffff" fill-opacity="0.81"/><circle cx="21.19" cy="27.52" r="0.78" fill="#ffffff" fill-opacity="1.00"/><circle cx="24.54" cy="26.57" r="0.59" fill="#c9ecea" fill-opacity="0.85"/><circle cx="20.38" cy="1.21" r="0.73" fill="#c9ecea" fill-opacity="0.96"/><circle cx="1.60" cy="7.62" r="0.68" fill="#c9ecea" fill-opacity="0.78"/><circle cx="19.04" cy="11.03" r="0.76" fill="#ffffff" fill-opacity="0.80"/><circle cx="22.78" cy="25.28" r="0.82" fill="#c9ecea" fill-opacity="0.89"/><circle cx="3.77" cy="22.21" r="0.57" fill="#ffffff" fill-opacity="0.74"/><circle cx="11.31" cy="20.08" r="0.55" fill="#ffffff" fill-opacity="0.99"/><circle cx="14.16" cy="20.81" r="0.81" fill="#ffffff" fill-opacity="0.78"/><circle cx="8.13" cy="7.56" r="0.75" fill="#c9ecea" fill-opacity="0.98"/><circle cx="29.66" cy="1.46" r="0.77" fill="#ffffff" fill-opacity="0.96"/><circle cx="5.81" cy="10.69" r="0.69" fill="#ffffff" fill-opacity="0.82"/><circle cx="27.14" cy="24.98" r="0.84" fill="#ffffff" fill-opacity="0.81"/><circle cx="9.28" cy="24.01" r="0.83" fill="#e8f7f6" fill-opacity="0.77"/><circle cx="21.66" cy="12.25" r="0.51" fill="#c9ecea" fill-opacity="0.90"/><circle cx="6.50" cy="8.48" r="0.84" fill="#c9ecea" fill-opacity="0.75"/><circle cx="3.21" cy="28.01" r="0.56" fill="#c9ecea" fill-opacity="0.83"/><circle cx="4.56" cy="26.53" r="0.57" fill="#ffffff" fill-opacity="0.78"/><circle cx="12.00" cy="9.66" r="0.49" fill="#ffffff" fill-opacity="0.81"/><circle cx="7.79" cy="1.54" r="0.48" fill="#e8f7f6" fill-opacity="0.90"/><circle cx="0.12" cy="10.09" r="0.51" fill="#ffffff" fill-opacity="1.00"/><circle cx="12.26" cy="0.96" r="0.61" fill="#c9ecea" fill-opacity="0.87"/><circle cx="6.45" cy="18.50" r="0.82" fill="#e8f7f6" fill-opacity="0.78"/><circle cx="28.17" cy="25.94" r="0.90" fill="#c9ecea" fill-opacity="0.87"/><circle cx="28.22" cy="1.41" r="0.84" fill="#ffffff" fill-opacity="0.86"/><circle cx="20.25" cy="8.13" r="0.46" fill="#e8f7f6" fill-opacity="0.72"/><circle cx="13.98" cy="26.59" r="0.48" fill="#e8f7f6" fill-opacity="0.70"/><circle cx="15.82" cy="24.30" r="0.81" fill="#c9ecea" fill-opacity="0.82"/><circle cx="24.09" cy="24.83" r="0.80" fill="#ffffff" fill-opacity="0.98"/><circle cx="14.46" cy="25.20" r="0.63" fill="#ffffff" fill-opacity="0.70"/><circle cx="4.22" cy="9.71" r="0.78" fill="#e8f7f6" fill-opacity="0.94"/><circle cx="10.94" cy="19.14" r="0.61" fill="#e8f7f6" fill-opacity="0.72"/><circle cx="19.60" cy="17.83" r="0.57" fill="#ffffff" fill-opacity="0.92"/><circle cx="6.34" cy="22.30" r="0.70" fill="#ffffff" fill-opacity="0.75"/><circle cx="3.17" cy="4.29" r="0.61" fill="#c9ecea" fill-opacity="0.71"/><circle cx="11.99" cy="1.57" r="0.49" fill="#ffffff" fill-opacity="0.71"/><circle cx="5.24" cy="2.00" r="0.72" fill="#e8f7f6" fill-opacity="0.83"/><circle cx="28.88" cy="6.59" r="0.63" fill="#ffffff" fill-opacity="0.94"/><circle cx="2.10" cy="11.70" r="0.86" fill="#ffffff" fill-opacity="0.93"/><circle cx="15.75" cy="0.30" r="0.78" fill="#c9ecea" fill-opacity="0.97"/><circle cx="1.66" cy="18.49" r="0.61" fill="#c9ecea" fill-opacity="0.96"/><circle cx="18.86" cy="15.15" r="0.71" fill="#ffffff" fill-opacity="0.74"/><circle cx="22.16" cy="22.32" r="0.65" fill="#c9ecea" fill-opacity="0.83"/><circle cx="11.54" cy="6.90" r="0.72" fill="#ffffff" fill-opacity="0.85"/><circle cx="0.97" cy="18.82" r="0.65" fill="#ffffff" fill-opacity="0.88"/><circle cx="27.95" cy="4.56" r="0.66" fill="#e8f7f6" fill-opacity="0.92"/><circle cx="9.39" cy="22.10" r="0.90" fill="#c9ecea" fill-opacity="0.72"/><circle cx="29.04" cy="22.59" r="0.85" fill="#ffffff" fill-opacity="0.77"/><circle cx="25.21" cy="19.48" r="0.87" fill="#ffffff" fill-opacity="0.94"/><circle cx="15.35" cy="29.81" r="0.48" fill="#ffffff" fill-opacity="0.91"/><circle cx="7.52" cy="24.22" r="0.65" fill="#ffffff" fill-opacity="0.96"/><circle cx="5.88" cy="8.39" r="0.74" fill="#ffffff" fill-opacity="0.73"/><circle cx="13.21" cy="22.71" r="0.84" fill="#ffffff" fill-opacity="0.94"/><circle cx="25.65" cy="23.12" r="0.70" fill="#ffffff" fill-opacity="0.94"/><circle cx="4.55" cy="10.98" r="0.50" fill="#ffffff" fill-opacity="0.98"/><circle cx="28.66" cy="6.59" r="0.58" fill="#c9ecea" fill-opacity="0.75"/><circle cx="11.66" cy="25.48" r="0.73" fill="#c9ecea" fill-opacity="0.72"/><circle cx="29.64" cy="6.20" r="0.73" fill="#ffffff" fill-opacity="0.87"/><circle cx="29.83" cy="11.35" r="0.82" fill="#e8f7f6" fill-opacity="0.95"/><circle cx="28.38" cy="19.75" r="0.54" fill="#ffffff" fill-opacity="0.75"/><circle cx="3.84" cy="20.81" r="0.66" fill="#ffffff" fill-opacity="0.78"/><circle cx="7.76" cy="10.32" r="0.73" fill="#e8f7f6" fill-opacity="0.76"/><circle cx="29.85" cy="20.75" r="0.78" fill="#e8f7f6" fill-opacity="0.96"/><circle cx="23.09" cy="6.01" r="0.48" fill="#e8f7f6" fill-opacity="0.83"/><circle cx="24.60" cy="12.27" r="0.66" fill="#ffffff" fill-opacity="0.98"/><circle cx="10.39" cy="21.11" r="0.56" fill="#ffffff" fill-opacity="0.79"/><circle cx="26.18" cy="8.59" r="0.83" fill="#c9ecea" fill-opacity="0.77"/><circle cx="14.32" cy="5.96" r="0.64" fill="#ffffff" fill-opacity="0.83"/><circle cx="1.93" cy="12.57" r="0.58" fill="#c9ecea" fill-opacity="0.90"/><circle cx="8.03" cy="19.85" r="0.46" fill="#ffffff" fill-opacity="0.70"/><circle cx="11.24" cy="17.80" r="0.84" fill="#c9ecea" fill-opacity="0.83"/><circle cx="10.25" cy="24.62" r="0.83" fill="#ffffff" fill-opacity="0.86"/><circle cx="2.98" cy="26.90" r="0.49" fill="#e8f7f6" fill-opacity="0.70"/><circle cx="0.91" cy="17.71" r="0.76" fill="#ffffff" fill-opacity="0.90"/><circle cx="4.67" cy="2.18" r="0.53" fill="#e8f7f6" fill-opacity="0.84"/><circle cx="19.56" cy="1.83" r="0.55" fill="#ffffff" fill-opacity="1.00"/><circle cx="11.85" cy="24.86" r="0.74" fill="#ffffff" fill-opacity="1.00"/><circle cx="2.00" cy="13.87" r="0.63" fill="#ffffff" fill-opacity="0.86"/><circle cx="17.53" cy="14.92" r="0.82" fill="#c9ecea" fill-opacity="0.73"/><circle cx="23.84" cy="0.11" r="0.88" fill="#e8f7f6" fill-opacity="0.90"/><circle cx="29.10" cy="14.21" r="0.85" fill="#c9ecea" fill-opacity="0.84"/><circle cx="0.47" cy="25.79" r="0.88" fill="#ffffff" fill-opacity="0.73"/><circle cx="12.39" cy="16.83" r="0.89" fill="#ffffff" fill-opacity="0.79"/><circle cx="15.22" cy="3.74" r="0.71" fill="#ffffff" fill-opacity="0.90"/><circle cx="15.29" cy="9.25" r="0.61" fill="#ffffff" fill-opacity="0.77"/><circle cx="12.42" cy="1.63" r="0.55" fill="#c9ecea" fill-opacity="0.75"/><circle cx="3.14" cy="4.13" r="0.85" fill="#ffffff" fill-opacity="0.74"/><circle cx="16.93" cy="5.21" r="0.73" fill="#ffffff" fill-opacity="0.82"/><circle cx="0.32" cy="4.61" r="0.82" fill="#c9ecea" fill-opacity="0.75"/><circle cx="15.93" cy="0.86" r="0.50" fill="#e8f7f6" fill-opacity="0.97"/><circle cx="16.30" cy="22.88" r="0.80" fill="#c9ecea" fill-opacity="0.82"/><circle cx="2.35" cy="7.82" r="0.50" fill="#c9ecea" fill-opacity="0.80"/><circle cx="14.67" cy="19.62" r="0.85" fill="#ffffff" fill-opacity="0.87"/><circle cx="15.03" cy="27.12" r="0.63" fill="#e8f7f6" fill-opacity="0.78"/><circle cx="17.99" cy="6.60" r="0.49" fill="#c9ecea" fill-opacity="0.82"/><circle cx="19.46" cy="10.02" r="0.50" fill="#e8f7f6" fill-opacity="0.95"/><circle cx="1.85" cy="15.84" r="0.70" fill="#c9ecea" fill-opacity="0.95"/><circle cx="20.25" cy="21.39" r="0.46" fill="#e8f7f6" fill-opacity="0.85"/><circle cx="6.91" cy="22.48" r="0.67" fill="#ffffff" fill-opacity="0.81"/><circle cx="17.80" cy="3.15" r="0.76" fill="#e8f7f6" fill-opacity="0.99"/><circle cx="10.97" cy="17.94" r="0.62" fill="#e8f7f6" fill-opacity="0.76"/><circle cx="22.88" cy="1.68" r="0.53" fill="#ffffff" fill-opacity="0.85"/><circle cx="22.61" cy="1.59" r="0.49" fill="#e8f7f6" fill-opacity="0.88"/><circle cx="24.23" cy="28.31" r="0.74" fill="#e8f7f6" fill-opacity="0.82"/><circle cx="8.57" cy="20.40" r="0.49" fill="#ffffff" fill-opacity="0.95"/><circle cx="9.85" cy="9.52" r="0.82" fill="#e8f7f6" fill-opacity="0.89"/><circle cx="1.70" cy="22.91" r="0.47" fill="#ffffff" fill-opacity="0.87"/><circle cx="27.82" cy="19.16" r="0.46" fill="#ffffff" fill-opacity="0.87"/><circle cx="0.17" cy="22.11" r="0.64" fill="#ffffff" fill-opacity="0.75"/><circle cx="2.50" cy="20.56" r="0.51" fill="#c9ecea" fill-opacity="0.90"/><circle cx="24.03" cy="13.35" r="0.85" fill="#ffffff" fill-opacity="0.95"/><circle cx="28.70" cy="10.68" r="0.82" fill="#ffffff" fill-opacity="0.91"/><circle cx="11.92" cy="20.73" r="0.74" fill="#ffffff" fill-opacity="0.98"/><circle cx="6.33" cy="12.44" r="0.69" fill="#ffffff" fill-opacity="0.75"/><circle cx="8.22" cy="12.23" r="0.85" fill="#c9ecea" fill-opacity="0.76"/><circle cx="21.09" cy="14.83" r="0.65" fill="#c9ecea" fill-opacity="0.85"/><circle cx="14.45" cy="16.49" r="0.83" fill="#e8f7f6" fill-opacity="0.76"/><circle cx="10.39" cy="4.92" r="0.61" fill="#c9ecea" fill-opacity="0.84"/><circle cx="17.66" cy="13.87" r="0.80" fill="#ffffff" fill-opacity="0.84"/><circle cx="29.42" cy="9.84" r="0.76" fill="#ffffff" fill-opacity="0.89"/><circle cx="10.53" cy="12.32" r="0.47" fill="#ffffff" fill-opacity="0.94"/><circle cx="7.64" cy="7.30" r="0.55" fill="#ffffff" fill-opacity="0.87"/><circle cx="29.27" cy="27.29" r="0.66" fill="#c9ecea" fill-opacity="0.74"/><circle cx="5.59" cy="18.60" r="0.76" fill="#ffffff" fill-opacity="0.71"/><circle cx="20.95" cy="17.04" r="0.70" fill="#e8f7f6" fill-opacity="0.85"/><circle cx="13.40" cy="29.12" r="0.61" fill="#e8f7f6" fill-opacity="0.73"/><circle cx="23.52" cy="6.55" r="0.54" fill="#e8f7f6" fill-opacity="0.74"/><circle cx="22.95" cy="17.47" r="0.85" fill="#e8f7f6" fill-opacity="0.91"/><circle cx="10.92" cy="28.53" r="0.77" fill="#e8f7f6" fill-opacity="0.88"/><circle cx="24.92" cy="29.46" r="0.50" fill="#e8f7f6" fill-opacity="0.71"/><circle cx="16.12" cy="7.61" r="0.58" fill="#e8f7f6" fill-opacity="0.87"/><circle cx="7.88" cy="2.27" r="0.46" fill="#e8f7f6" fill-opacity="0.98"/><circle cx="4.57" cy="11.69" r="0.82" fill="#ffffff" fill-opacity="0.88"/><circle cx="16.31" cy="22.02" r="0.69" fill="#e8f7f6" fill-opacity="0.79"/><circle cx="12.81" cy="23.40" r="0.74" fill="#ffffff" fill-opacity="0.84"/><circle cx="20.59" cy="10.37" r="0.55" fill="#e8f7f6" fill-opacity="0.87"/><circle cx="10.46" cy="6.97" r="0.88" fill="#ffffff" fill-opacity="0.87"/><circle cx="27.80" cy="22.28" r="0.59" fill="#ffffff" fill-opacity="0.73"/><circle cx="16.96" cy="3.59" r="0.89" fill="#e8f7f6" fill-opacity="0.81"/></pattern>
<pattern id="reddots" width="30" height="30" patternUnits="userSpaceOnUse"><rect width="30" height="30" fill="#fbeeee"/><circle cx="4.2" cy="28.5" r="0.68" fill="#e2645f"/><circle cx="0.9" cy="17.1" r="0.79" fill="#d9605b"/><circle cx="29.2" cy="29.2" r="0.77" fill="#d9605b"/><circle cx="2.3" cy="15.8" r="0.51" fill="#d9605b"/><circle cx="20.8" cy="18.4" r="0.77" fill="#d9605b"/><circle cx="3.1" cy="4.2" r="0.52" fill="#d9605b"/><circle cx="14.6" cy="16.7" r="0.79" fill="#d9605b"/><circle cx="2.7" cy="27.0" r="0.54" fill="#e2645f"/><circle cx="21.1" cy="28.2" r="0.79" fill="#e2645f"/><circle cx="25.8" cy="28.0" r="0.46" fill="#e97a74"/><circle cx="23.9" cy="29.9" r="0.65" fill="#d9605b"/><circle cx="9.5" cy="5.1" r="0.72" fill="#e2645f"/><circle cx="28.8" cy="1.0" r="0.49" fill="#e97a74"/><circle cx="28.7" cy="0.7" r="0.46" fill="#e2645f"/><circle cx="20.7" cy="15.6" r="0.65" fill="#d9605b"/><circle cx="24.2" cy="0.0" r="0.47" fill="#e2645f"/><circle cx="29.3" cy="25.0" r="0.59" fill="#e97a74"/><circle cx="6.6" cy="11.8" r="0.76" fill="#e2645f"/><circle cx="7.9" cy="17.6" r="0.63" fill="#e97a74"/><circle cx="15.6" cy="10.6" r="0.68" fill="#e97a74"/><circle cx="5.3" cy="4.5" r="0.54" fill="#e97a74"/><circle cx="6.6" cy="27.6" r="0.51" fill="#d9605b"/><circle cx="19.6" cy="7.8" r="0.63" fill="#e97a74"/><circle cx="17.2" cy="0.7" r="0.56" fill="#e2645f"/><circle cx="9.0" cy="9.9" r="0.70" fill="#d9605b"/><circle cx="1.0" cy="7.4" r="0.48" fill="#d9605b"/><circle cx="22.9" cy="7.3" r="0.53" fill="#e97a74"/><circle cx="16.7" cy="4.1" r="0.68" fill="#e2645f"/><circle cx="27.3" cy="29.7" r="0.59" fill="#e2645f"/><circle cx="12.6" cy="20.1" r="0.53" fill="#e2645f"/><circle cx="11.4" cy="8.6" r="0.66" fill="#d9605b"/><circle cx="2.0" cy="29.2" r="0.77" fill="#e2645f"/><circle cx="15.0" cy="11.4" r="0.47" fill="#e2645f"/><circle cx="4.3" cy="6.2" r="0.76" fill="#e2645f"/><circle cx="27.9" cy="10.3" r="0.78" fill="#e2645f"/><circle cx="24.1" cy="9.6" r="0.46" fill="#e2645f"/><circle cx="4.1" cy="20.3" r="0.76" fill="#d9605b"/><circle cx="26.6" cy="20.0" r="0.58" fill="#d9605b"/><circle cx="3.6" cy="8.2" r="0.78" fill="#e2645f"/><circle cx="29.5" cy="21.8" r="0.69" fill="#e2645f"/><circle cx="9.2" cy="5.5" r="0.49" fill="#d9605b"/><circle cx="15.7" cy="24.5" r="0.60" fill="#d9605b"/><circle cx="7.9" cy="2.8" r="0.68" fill="#e2645f"/><circle cx="2.3" cy="9.3" r="0.72" fill="#d9605b"/><circle cx="15.1" cy="4.8" r="0.57" fill="#d9605b"/><circle cx="3.1" cy="14.5" r="0.76" fill="#d9605b"/><circle cx="13.8" cy="18.1" r="0.75" fill="#e97a74"/><circle cx="1.2" cy="4.4" r="0.61" fill="#d9605b"/><circle cx="0.7" cy="22.9" r="0.59" fill="#e2645f"/><circle cx="8.5" cy="1.4" r="0.59" fill="#e2645f"/><circle cx="28.8" cy="0.7" r="0.60" fill="#e97a74"/><circle cx="18.4" cy="1.9" r="0.46" fill="#e97a74"/><circle cx="0.5" cy="9.1" r="0.46" fill="#e97a74"/><circle cx="25.4" cy="16.9" r="0.69" fill="#e97a74"/><circle cx="18.7" cy="9.5" r="0.57" fill="#d9605b"/><circle cx="17.4" cy="12.5" r="0.64" fill="#e97a74"/><circle cx="7.7" cy="28.5" r="0.62" fill="#d9605b"/><circle cx="28.1" cy="25.6" r="0.76" fill="#e2645f"/><circle cx="14.1" cy="16.8" r="0.77" fill="#e2645f"/><circle cx="28.0" cy="9.4" r="0.64" fill="#e97a74"/><circle cx="4.7" cy="28.4" r="0.55" fill="#e2645f"/><circle cx="19.0" cy="0.1" r="0.62" fill="#e2645f"/><circle cx="14.9" cy="27.7" r="0.63" fill="#e97a74"/><circle cx="20.6" cy="19.9" r="0.59" fill="#e97a74"/><circle cx="17.2" cy="19.0" r="0.61" fill="#e2645f"/><circle cx="9.6" cy="19.2" r="0.47" fill="#e2645f"/><circle cx="29.1" cy="8.4" r="0.60" fill="#e2645f"/><circle cx="8.4" cy="1.5" r="0.65" fill="#e97a74"/><circle cx="23.9" cy="7.6" r="0.77" fill="#d9605b"/><circle cx="3.1" cy="10.6" r="0.47" fill="#e2645f"/><circle cx="14.7" cy="14.5" r="0.55" fill="#d9605b"/><circle cx="15.1" cy="10.3" r="0.52" fill="#e2645f"/><circle cx="20.7" cy="13.4" r="0.55" fill="#d9605b"/><circle cx="27.5" cy="20.6" r="0.73" fill="#d9605b"/><circle cx="8.2" cy="8.9" r="0.76" fill="#e2645f"/><circle cx="24.4" cy="9.1" r="0.54" fill="#e2645f"/><circle cx="28.7" cy="19.7" r="0.61" fill="#d9605b"/><circle cx="18.3" cy="27.3" r="0.78" fill="#d9605b"/><circle cx="26.0" cy="29.3" r="0.51" fill="#e97a74"/><circle cx="29.5" cy="26.1" r="0.56" fill="#e2645f"/><circle cx="18.3" cy="23.2" r="0.54" fill="#d9605b"/><circle cx="18.7" cy="3.8" r="0.70" fill="#e2645f"/><circle cx="13.1" cy="12.2" r="0.59" fill="#e2645f"/><circle cx="17.1" cy="28.3" r="0.67" fill="#e97a74"/><circle cx="6.7" cy="21.3" r="0.46" fill="#e2645f"/><circle cx="15.0" cy="29.4" r="0.53" fill="#d9605b"/><circle cx="23.3" cy="20.8" r="0.63" fill="#e97a74"/><circle cx="14.0" cy="20.7" r="0.46" fill="#e97a74"/><circle cx="20.6" cy="28.3" r="0.57" fill="#e2645f"/><circle cx="27.3" cy="8.7" r="0.78" fill="#d9605b"/><circle cx="9.1" cy="13.9" r="0.47" fill="#e2645f"/><circle cx="8.4" cy="15.7" r="0.62" fill="#e2645f"/><circle cx="2.9" cy="21.2" r="0.47" fill="#d9605b"/><circle cx="15.8" cy="8.6" r="0.78" fill="#e97a74"/><circle cx="7.2" cy="9.8" r="0.47" fill="#e2645f"/><circle cx="28.8" cy="8.9" r="0.75" fill="#d9605b"/><circle cx="15.9" cy="6.5" r="0.77" fill="#e97a74"/><circle cx="27.5" cy="2.4" r="0.60" fill="#e97a74"/><circle cx="20.6" cy="22.9" r="0.64" fill="#d9605b"/><circle cx="27.7" cy="15.0" r="0.78" fill="#d9605b"/><circle cx="16.2" cy="29.9" r="0.63" fill="#e2645f"/><circle cx="5.5" cy="29.6" r="0.67" fill="#e2645f"/><circle cx="16.5" cy="8.2" r="0.70" fill="#d9605b"/><circle cx="28.0" cy="8.0" r="0.73" fill="#e2645f"/><circle cx="21.2" cy="13.7" r="0.60" fill="#e2645f"/><circle cx="28.6" cy="5.8" r="0.54" fill="#e2645f"/><circle cx="16.5" cy="0.1" r="0.61" fill="#d9605b"/><circle cx="13.1" cy="3.8" r="0.60" fill="#d9605b"/><circle cx="23.5" cy="7.3" r="0.74" fill="#e2645f"/><circle cx="20.4" cy="18.5" r="0.47" fill="#d9605b"/><circle cx="16.9" cy="7.4" r="0.65" fill="#e97a74"/><circle cx="0.5" cy="2.2" r="0.59" fill="#e97a74"/><circle cx="18.6" cy="6.2" r="0.54" fill="#d9605b"/><circle cx="14.6" cy="17.6" r="0.56" fill="#d9605b"/><circle cx="3.6" cy="9.1" r="0.53" fill="#d9605b"/><circle cx="15.3" cy="12.3" r="0.59" fill="#e2645f"/><circle cx="7.7" cy="23.7" r="0.70" fill="#e97a74"/><circle cx="6.2" cy="19.9" r="0.52" fill="#e97a74"/><circle cx="9.5" cy="18.7" r="0.59" fill="#e97a74"/><circle cx="18.7" cy="2.7" r="0.71" fill="#d9605b"/><circle cx="26.4" cy="13.6" r="0.58" fill="#d9605b"/><circle cx="29.3" cy="23.6" r="0.59" fill="#d9605b"/><circle cx="2.2" cy="6.8" r="0.53" fill="#d9605b"/><circle cx="28.5" cy="19.7" r="0.68" fill="#e97a74"/><circle cx="6.4" cy="9.0" r="0.66" fill="#e2645f"/><circle cx="16.2" cy="29.4" r="0.57" fill="#d9605b"/><circle cx="11.7" cy="25.2" r="0.57" fill="#e97a74"/><circle cx="7.8" cy="18.4" r="0.53" fill="#e97a74"/><circle cx="9.0" cy="28.7" r="0.71" fill="#e97a74"/><circle cx="1.8" cy="17.5" r="0.74" fill="#d9605b"/><circle cx="11.7" cy="17.7" r="0.70" fill="#e97a74"/><circle cx="22.4" cy="17.4" r="0.54" fill="#d9605b"/><circle cx="20.4" cy="12.2" r="0.50" fill="#e2645f"/><circle cx="4.1" cy="23.4" r="0.56" fill="#d9605b"/><circle cx="15.3" cy="0.6" r="0.71" fill="#e97a74"/><circle cx="15.8" cy="14.9" r="0.51" fill="#d9605b"/><circle cx="23.8" cy="14.8" r="0.62" fill="#e97a74"/><circle cx="20.3" cy="2.9" r="0.47" fill="#e97a74"/><circle cx="15.9" cy="29.7" r="0.65" fill="#e97a74"/><circle cx="10.6" cy="22.8" r="0.48" fill="#e97a74"/><circle cx="16.4" cy="5.0" r="0.58" fill="#e2645f"/><circle cx="11.4" cy="8.2" r="0.58" fill="#d9605b"/><circle cx="15.4" cy="16.2" r="0.59" fill="#e97a74"/><circle cx="4.5" cy="9.3" r="0.76" fill="#d9605b"/><circle cx="7.5" cy="5.3" r="0.49" fill="#e2645f"/><circle cx="19.1" cy="0.8" r="0.52" fill="#e2645f"/><circle cx="14.7" cy="20.9" r="0.46" fill="#e97a74"/><circle cx="25.8" cy="6.3" r="0.70" fill="#d9605b"/><circle cx="9.6" cy="24.3" r="0.77" fill="#e97a74"/><circle cx="21.0" cy="0.8" r="0.77" fill="#d9605b"/><circle cx="8.4" cy="15.2" r="0.58" fill="#d9605b"/><circle cx="6.7" cy="18.6" r="0.50" fill="#e97a74"/><circle cx="23.6" cy="26.6" r="0.51" fill="#e2645f"/><circle cx="27.5" cy="20.3" r="0.51" fill="#e97a74"/><circle cx="18.1" cy="10.4" r="0.72" fill="#e97a74"/><circle cx="26.2" cy="6.8" r="0.58" fill="#e2645f"/><circle cx="14.8" cy="20.1" r="0.75" fill="#d9605b"/><circle cx="1.9" cy="25.2" r="0.64" fill="#d9605b"/><circle cx="0.7" cy="9.7" r="0.66" fill="#e97a74"/><circle cx="18.0" cy="25.9" r="0.47" fill="#e2645f"/><circle cx="12.5" cy="27.3" r="0.67" fill="#d9605b"/><circle cx="8.2" cy="20.0" r="0.69" fill="#e97a74"/><circle cx="1.6" cy="23.4" r="0.53" fill="#e2645f"/><circle cx="10.7" cy="10.8" r="0.54" fill="#e97a74"/><circle cx="9.0" cy="0.4" r="0.58" fill="#e97a74"/><circle cx="17.8" cy="8.1" r="0.49" fill="#e2645f"/><circle cx="14.1" cy="15.4" r="0.56" fill="#d9605b"/><circle cx="24.0" cy="13.3" r="0.70" fill="#e2645f"/><circle cx="12.4" cy="11.7" r="0.63" fill="#e97a74"/><circle cx="13.3" cy="17.3" r="0.80" fill="#e2645f"/><circle cx="8.6" cy="8.9" r="0.59" fill="#d9605b"/><circle cx="23.9" cy="18.6" r="0.55" fill="#e2645f"/><circle cx="11.0" cy="27.7" r="0.64" fill="#e97a74"/><circle cx="20.8" cy="22.3" r="0.61" fill="#e97a74"/><circle cx="15.0" cy="6.8" r="0.65" fill="#d9605b"/><circle cx="27.5" cy="25.1" r="0.48" fill="#e2645f"/><circle cx="16.0" cy="10.1" r="0.60" fill="#d9605b"/><circle cx="9.3" cy="25.9" r="0.63" fill="#e2645f"/><circle cx="16.0" cy="3.4" r="0.75" fill="#e97a74"/><circle cx="21.4" cy="22.5" r="0.61" fill="#e97a74"/><circle cx="17.7" cy="16.4" r="0.47" fill="#d9605b"/><circle cx="5.2" cy="13.9" r="0.77" fill="#d9605b"/><circle cx="15.0" cy="28.1" r="0.68" fill="#e97a74"/><circle cx="29.7" cy="27.7" r="0.67" fill="#e2645f"/><circle cx="6.6" cy="19.7" r="0.53" fill="#e2645f"/><circle cx="7.3" cy="9.3" r="0.51" fill="#d9605b"/><circle cx="15.7" cy="29.3" r="0.51" fill="#e2645f"/><circle cx="24.4" cy="21.7" r="0.72" fill="#e2645f"/><circle cx="10.3" cy="21.8" r="0.70" fill="#e2645f"/><circle cx="19.0" cy="22.2" r="0.76" fill="#d9605b"/><circle cx="28.7" cy="9.6" r="0.54" fill="#d9605b"/><circle cx="5.5" cy="19.1" r="0.67" fill="#d9605b"/><circle cx="1.3" cy="16.9" r="0.58" fill="#d9605b"/><circle cx="7.6" cy="21.4" r="0.51" fill="#e97a74"/><circle cx="19.6" cy="1.1" r="0.66" fill="#e97a74"/><circle cx="27.5" cy="20.2" r="0.47" fill="#e2645f"/><circle cx="20.9" cy="11.4" r="0.78" fill="#d9605b"/><circle cx="21.0" cy="29.4" r="0.68" fill="#d9605b"/><circle cx="20.7" cy="28.1" r="0.56" fill="#e2645f"/><circle cx="1.8" cy="14.8" r="0.58" fill="#d9605b"/><circle cx="7.6" cy="3.5" r="0.58" fill="#d9605b"/><circle cx="11.1" cy="9.9" r="0.50" fill="#d9605b"/><circle cx="19.3" cy="18.2" r="0.52" fill="#e2645f"/><circle cx="15.0" cy="23.0" r="0.65" fill="#e2645f"/><circle cx="13.5" cy="14.5" r="0.47" fill="#d9605b"/><circle cx="25.9" cy="1.0" r="0.52" fill="#e97a74"/><circle cx="6.8" cy="13.1" r="0.58" fill="#e2645f"/><circle cx="22.8" cy="21.7" r="0.47" fill="#e2645f"/><circle cx="4.4" cy="4.9" r="0.46" fill="#e2645f"/><circle cx="7.2" cy="19.4" r="0.50" fill="#d9605b"/><circle cx="1.4" cy="25.4" r="0.66" fill="#e2645f"/><circle cx="17.8" cy="6.9" r="0.51" fill="#e97a74"/><circle cx="3.4" cy="6.0" r="0.67" fill="#e2645f"/><circle cx="2.1" cy="24.8" r="0.73" fill="#e97a74"/><circle cx="4.5" cy="17.0" r="0.63" fill="#e97a74"/><circle cx="0.2" cy="9.2" r="0.80" fill="#e2645f"/><circle cx="5.8" cy="10.1" r="0.45" fill="#d9605b"/><circle cx="25.6" cy="8.7" r="0.55" fill="#d9605b"/><circle cx="4.0" cy="11.5" r="0.70" fill="#e97a74"/><circle cx="27.7" cy="3.2" r="0.68" fill="#e97a74"/><circle cx="8.5" cy="8.8" r="0.71" fill="#e2645f"/><circle cx="21.0" cy="27.7" r="0.51" fill="#e97a74"/><circle cx="26.0" cy="10.3" r="0.54" fill="#d9605b"/><circle cx="29.4" cy="22.2" r="0.75" fill="#e97a74"/><circle cx="17.7" cy="20.3" r="0.65" fill="#d9605b"/><circle cx="26.7" cy="8.3" r="0.53" fill="#e97a74"/><circle cx="19.7" cy="28.8" r="0.50" fill="#e97a74"/><circle cx="14.9" cy="2.7" r="0.72" fill="#d9605b"/><circle cx="1.9" cy="18.9" r="0.55" fill="#e97a74"/><circle cx="28.7" cy="11.7" r="0.54" fill="#d9605b"/><circle cx="25.7" cy="29.6" r="0.54" fill="#e97a74"/><circle cx="15.2" cy="18.2" r="0.64" fill="#e97a74"/><circle cx="6.0" cy="16.7" r="0.57" fill="#e2645f"/><circle cx="3.5" cy="20.6" r="0.67" fill="#d9605b"/><circle cx="8.3" cy="29.7" r="0.67" fill="#e2645f"/><circle cx="12.9" cy="27.6" r="0.73" fill="#e2645f"/><circle cx="21.7" cy="25.7" r="0.78" fill="#e97a74"/><circle cx="8.0" cy="16.9" r="0.53" fill="#d9605b"/><circle cx="22.2" cy="13.9" r="0.69" fill="#e2645f"/><circle cx="27.4" cy="19.7" r="0.79" fill="#e2645f"/><circle cx="18.5" cy="4.9" r="0.46" fill="#e97a74"/><circle cx="25.3" cy="16.4" r="0.52" fill="#d9605b"/><circle cx="20.2" cy="29.0" r="0.47" fill="#e2645f"/><circle cx="28.0" cy="4.2" r="0.69" fill="#e97a74"/><circle cx="20.5" cy="16.4" r="0.75" fill="#e97a74"/><circle cx="28.2" cy="1.7" r="0.68" fill="#e97a74"/><circle cx="6.9" cy="0.9" r="0.51" fill="#e2645f"/><circle cx="4.8" cy="10.4" r="0.48" fill="#d9605b"/><circle cx="24.7" cy="10.3" r="0.49" fill="#d9605b"/><circle cx="19.5" cy="11.1" r="0.60" fill="#d9605b"/><circle cx="17.5" cy="25.9" r="0.69" fill="#e97a74"/><circle cx="8.6" cy="23.2" r="0.67" fill="#e97a74"/><circle cx="6.3" cy="13.2" r="0.75" fill="#e97a74"/><circle cx="18.0" cy="15.3" r="0.63" fill="#e2645f"/><circle cx="16.2" cy="10.8" r="0.58" fill="#e2645f"/><circle cx="29.7" cy="23.8" r="0.55" fill="#e97a74"/><circle cx="18.3" cy="12.6" r="0.55" fill="#d9605b"/><circle cx="14.5" cy="11.9" r="0.62" fill="#e97a74"/><circle cx="2.4" cy="3.5" r="0.70" fill="#d9605b"/><circle cx="2.4" cy="20.3" r="0.50" fill="#e2645f"/><circle cx="17.1" cy="2.9" r="0.53" fill="#e2645f"/><circle cx="13.3" cy="8.9" r="0.58" fill="#e2645f"/><circle cx="21.9" cy="0.1" r="0.51" fill="#e2645f"/><circle cx="4.0" cy="4.1" r="0.76" fill="#d9605b"/><circle cx="22.0" cy="17.0" r="0.50" fill="#e97a74"/><circle cx="13.4" cy="18.2" r="0.47" fill="#e2645f"/><circle cx="10.1" cy="4.3" r="0.72" fill="#e2645f"/><circle cx="16.6" cy="29.3" r="0.57" fill="#e97a74"/><circle cx="27.0" cy="23.7" r="0.52" fill="#e2645f"/><circle cx="27.3" cy="5.4" r="0.62" fill="#e97a74"/><circle cx="27.5" cy="6.3" r="0.68" fill="#e2645f"/><circle cx="12.6" cy="4.7" r="0.61" fill="#e2645f"/><circle cx="9.6" cy="21.7" r="0.77" fill="#e2645f"/><circle cx="24.5" cy="7.2" r="0.75" fill="#d9605b"/><circle cx="28.5" cy="25.9" r="0.54" fill="#d9605b"/><circle cx="15.5" cy="26.2" r="0.66" fill="#e97a74"/><circle cx="22.8" cy="10.1" r="0.60" fill="#d9605b"/><circle cx="28.1" cy="6.7" r="0.47" fill="#d9605b"/><circle cx="2.9" cy="5.1" r="0.74" fill="#e97a74"/><circle cx="25.4" cy="14.6" r="0.52" fill="#e2645f"/><circle cx="5.3" cy="29.2" r="0.66" fill="#e2645f"/><circle cx="2.7" cy="15.2" r="0.63" fill="#d9605b"/><circle cx="23.8" cy="23.5" r="0.60" fill="#e2645f"/><circle cx="19.5" cy="11.2" r="0.59" fill="#e97a74"/><circle cx="3.7" cy="7.5" r="0.61" fill="#d9605b"/><circle cx="25.4" cy="24.0" r="0.69" fill="#e97a74"/><circle cx="11.6" cy="19.3" r="0.54" fill="#e97a74"/><circle cx="17.1" cy="29.1" r="0.51" fill="#e97a74"/><circle cx="17.7" cy="19.1" r="0.69" fill="#d9605b"/><circle cx="15.9" cy="18.9" r="0.64" fill="#e97a74"/><circle cx="6.8" cy="26.3" r="0.57" fill="#e97a74"/><circle cx="28.3" cy="24.0" r="0.78" fill="#e97a74"/><circle cx="9.2" cy="14.4" r="0.52" fill="#d9605b"/><circle cx="24.1" cy="9.8" r="0.52" fill="#e2645f"/><circle cx="12.6" cy="2.5" r="0.71" fill="#d9605b"/><circle cx="0.5" cy="13.6" r="0.66" fill="#e97a74"/><circle cx="9.6" cy="15.5" r="0.60" fill="#e97a74"/><circle cx="29.2" cy="10.8" r="0.77" fill="#d9605b"/><circle cx="17.2" cy="3.8" r="0.73" fill="#e2645f"/><circle cx="5.3" cy="19.7" r="0.63" fill="#e2645f"/><circle cx="12.3" cy="4.7" r="0.80" fill="#d9605b"/><circle cx="8.9" cy="8.8" r="0.48" fill="#e97a74"/><circle cx="19.4" cy="14.2" r="0.72" fill="#d9605b"/><circle cx="3.6" cy="15.6" r="0.75" fill="#d9605b"/><circle cx="22.3" cy="26.9" r="0.66" fill="#e97a74"/><circle cx="2.8" cy="4.4" r="0.47" fill="#e2645f"/><circle cx="28.9" cy="23.3" r="0.49" fill="#e2645f"/><circle cx="14.0" cy="16.9" r="0.55" fill="#d9605b"/><circle cx="10.0" cy="25.4" r="0.73" fill="#e2645f"/><circle cx="14.8" cy="11.3" r="0.77" fill="#e2645f"/><circle cx="2.1" cy="8.0" r="0.72" fill="#d9605b"/><circle cx="22.8" cy="5.5" r="0.56" fill="#d9605b"/><circle cx="6.1" cy="13.9" r="0.54" fill="#d9605b"/><circle cx="14.0" cy="16.4" r="0.66" fill="#d9605b"/><circle cx="16.0" cy="17.5" r="0.45" fill="#e2645f"/><circle cx="25.1" cy="11.4" r="0.51" fill="#d9605b"/><circle cx="29.3" cy="5.3" r="0.71" fill="#e97a74"/><circle cx="28.1" cy="6.3" r="0.49" fill="#e2645f"/><circle cx="12.8" cy="27.3" r="0.48" fill="#e2645f"/><circle cx="14.2" cy="3.8" r="0.57" fill="#e2645f"/><circle cx="8.5" cy="25.4" r="0.64" fill="#e97a74"/><circle cx="13.1" cy="13.7" r="0.61" fill="#e97a74"/><circle cx="23.8" cy="15.2" r="0.78" fill="#e97a74"/><circle cx="29.2" cy="20.9" r="0.50" fill="#d9605b"/><circle cx="11.6" cy="10.8" r="0.46" fill="#e2645f"/><circle cx="26.8" cy="20.1" r="0.53" fill="#e97a74"/><circle cx="0.9" cy="9.5" r="0.58" fill="#e97a74"/><circle cx="23.6" cy="1.8" r="0.69" fill="#d9605b"/><circle cx="11.5" cy="5.3" r="0.49" fill="#e2645f"/><circle cx="13.3" cy="23.0" r="0.52" fill="#e2645f"/></pattern>
<pattern id="tealmed" width="30" height="30" patternUnits="userSpaceOnUse"><rect width="30" height="30" fill="#e9f6f5"/><circle cx="6.0" cy="11.4" r="0.61" fill="#26aca7"/><circle cx="22.1" cy="9.1" r="0.61" fill="#2fb3ad"/><circle cx="2.7" cy="3.0" r="0.79" fill="#26aca7"/><circle cx="27.6" cy="18.0" r="0.79" fill="#26aca7"/><circle cx="5.1" cy="29.7" r="0.52" fill="#26aca7"/><circle cx="3.6" cy="9.1" r="0.60" fill="#3fa9a4"/><circle cx="20.4" cy="6.1" r="0.76" fill="#3fa9a4"/><circle cx="1.0" cy="8.9" r="0.77" fill="#2fb3ad"/><circle cx="12.0" cy="2.3" r="0.75" fill="#2fb3ad"/><circle cx="2.1" cy="7.4" r="0.71" fill="#2fb3ad"/><circle cx="13.1" cy="15.0" r="0.72" fill="#2fb3ad"/><circle cx="12.4" cy="16.4" r="0.59" fill="#3fa9a4"/><circle cx="16.2" cy="11.1" r="0.61" fill="#26aca7"/><circle cx="10.1" cy="14.7" r="0.58" fill="#2fb3ad"/><circle cx="18.7" cy="0.2" r="0.72" fill="#26aca7"/><circle cx="3.4" cy="0.9" r="0.62" fill="#26aca7"/><circle cx="22.0" cy="0.9" r="0.45" fill="#3fa9a4"/><circle cx="15.8" cy="0.7" r="0.49" fill="#3fa9a4"/><circle cx="19.6" cy="2.9" r="0.59" fill="#2fb3ad"/><circle cx="15.1" cy="23.8" r="0.74" fill="#3fa9a4"/><circle cx="4.3" cy="9.0" r="0.79" fill="#3fa9a4"/><circle cx="25.1" cy="15.5" r="0.80" fill="#26aca7"/><circle cx="25.0" cy="24.8" r="0.64" fill="#3fa9a4"/><circle cx="27.2" cy="1.5" r="0.62" fill="#2fb3ad"/><circle cx="0.2" cy="17.4" r="0.76" fill="#2fb3ad"/><circle cx="4.3" cy="22.6" r="0.62" fill="#3fa9a4"/><circle cx="19.0" cy="24.6" r="0.60" fill="#2fb3ad"/><circle cx="6.7" cy="22.0" r="0.76" fill="#2fb3ad"/><circle cx="28.8" cy="12.3" r="0.61" fill="#26aca7"/><circle cx="17.7" cy="21.0" r="0.48" fill="#2fb3ad"/><circle cx="14.4" cy="10.1" r="0.49" fill="#2fb3ad"/><circle cx="28.0" cy="3.7" r="0.61" fill="#2fb3ad"/><circle cx="16.6" cy="15.0" r="0.51" fill="#2fb3ad"/><circle cx="12.3" cy="14.2" r="0.60" fill="#3fa9a4"/><circle cx="9.3" cy="0.6" r="0.71" fill="#3fa9a4"/><circle cx="6.9" cy="7.3" r="0.61" fill="#3fa9a4"/><circle cx="14.5" cy="21.1" r="0.68" fill="#2fb3ad"/><circle cx="9.4" cy="0.6" r="0.48" fill="#26aca7"/><circle cx="29.7" cy="28.5" r="0.78" fill="#3fa9a4"/><circle cx="7.1" cy="7.3" r="0.73" fill="#2fb3ad"/><circle cx="16.4" cy="13.3" r="0.55" fill="#3fa9a4"/><circle cx="17.4" cy="3.8" r="0.57" fill="#3fa9a4"/><circle cx="22.9" cy="28.7" r="0.66" fill="#3fa9a4"/><circle cx="9.7" cy="19.2" r="0.50" fill="#26aca7"/><circle cx="5.2" cy="22.3" r="0.49" fill="#26aca7"/><circle cx="27.8" cy="25.2" r="0.75" fill="#2fb3ad"/><circle cx="17.0" cy="2.2" r="0.71" fill="#3fa9a4"/><circle cx="25.1" cy="1.3" r="0.47" fill="#3fa9a4"/><circle cx="22.5" cy="1.4" r="0.65" fill="#3fa9a4"/><circle cx="13.4" cy="20.3" r="0.68" fill="#3fa9a4"/><circle cx="13.1" cy="1.8" r="0.79" fill="#2fb3ad"/><circle cx="21.7" cy="24.1" r="0.61" fill="#26aca7"/><circle cx="4.5" cy="13.3" r="0.74" fill="#3fa9a4"/><circle cx="3.3" cy="0.1" r="0.59" fill="#26aca7"/><circle cx="25.1" cy="4.1" r="0.79" fill="#3fa9a4"/><circle cx="17.7" cy="4.0" r="0.73" fill="#3fa9a4"/><circle cx="26.0" cy="18.3" r="0.71" fill="#3fa9a4"/><circle cx="5.3" cy="2.5" r="0.67" fill="#2fb3ad"/><circle cx="19.9" cy="1.6" r="0.69" fill="#26aca7"/><circle cx="20.0" cy="18.2" r="0.73" fill="#2fb3ad"/><circle cx="13.8" cy="0.4" r="0.67" fill="#3fa9a4"/><circle cx="5.1" cy="25.1" r="0.58" fill="#26aca7"/><circle cx="0.1" cy="24.9" r="0.67" fill="#2fb3ad"/><circle cx="17.8" cy="25.6" r="0.72" fill="#26aca7"/><circle cx="13.9" cy="26.9" r="0.59" fill="#26aca7"/><circle cx="16.6" cy="27.5" r="0.47" fill="#3fa9a4"/><circle cx="11.8" cy="8.2" r="0.69" fill="#26aca7"/><circle cx="17.3" cy="22.3" r="0.71" fill="#26aca7"/><circle cx="17.9" cy="12.7" r="0.73" fill="#2fb3ad"/><circle cx="18.6" cy="20.5" r="0.65" fill="#2fb3ad"/><circle cx="6.8" cy="0.4" r="0.56" fill="#3fa9a4"/><circle cx="8.7" cy="14.7" r="0.63" fill="#2fb3ad"/><circle cx="20.9" cy="10.7" r="0.59" fill="#2fb3ad"/><circle cx="28.6" cy="23.3" r="0.73" fill="#3fa9a4"/><circle cx="4.0" cy="9.3" r="0.58" fill="#2fb3ad"/><circle cx="3.9" cy="22.4" r="0.74" fill="#3fa9a4"/><circle cx="23.3" cy="4.7" r="0.65" fill="#3fa9a4"/><circle cx="13.1" cy="13.9" r="0.58" fill="#2fb3ad"/><circle cx="15.3" cy="8.1" r="0.79" fill="#2fb3ad"/><circle cx="24.7" cy="22.0" r="0.46" fill="#26aca7"/><circle cx="6.5" cy="9.1" r="0.66" fill="#2fb3ad"/><circle cx="25.4" cy="29.3" r="0.65" fill="#26aca7"/><circle cx="26.7" cy="27.6" r="0.54" fill="#2fb3ad"/><circle cx="2.7" cy="17.5" r="0.48" fill="#26aca7"/><circle cx="15.4" cy="20.7" r="0.53" fill="#3fa9a4"/><circle cx="15.8" cy="0.0" r="0.73" fill="#26aca7"/><circle cx="25.4" cy="23.1" r="0.71" fill="#2fb3ad"/><circle cx="14.9" cy="13.5" r="0.54" fill="#3fa9a4"/><circle cx="15.8" cy="27.8" r="0.69" fill="#26aca7"/><circle cx="9.8" cy="5.3" r="0.60" fill="#3fa9a4"/><circle cx="23.1" cy="17.4" r="0.59" fill="#3fa9a4"/><circle cx="25.0" cy="25.9" r="0.69" fill="#2fb3ad"/><circle cx="10.5" cy="23.1" r="0.58" fill="#26aca7"/><circle cx="27.6" cy="3.0" r="0.48" fill="#3fa9a4"/><circle cx="14.6" cy="14.2" r="0.77" fill="#3fa9a4"/><circle cx="18.4" cy="18.7" r="0.78" fill="#2fb3ad"/><circle cx="8.2" cy="2.5" r="0.46" fill="#26aca7"/><circle cx="4.8" cy="17.4" r="0.59" fill="#3fa9a4"/><circle cx="28.5" cy="9.4" r="0.74" fill="#3fa9a4"/><circle cx="12.9" cy="13.9" r="0.57" fill="#3fa9a4"/><circle cx="26.2" cy="1.5" r="0.70" fill="#26aca7"/><circle cx="9.7" cy="25.5" r="0.73" fill="#26aca7"/><circle cx="7.3" cy="4.7" r="0.79" fill="#26aca7"/><circle cx="27.7" cy="16.2" r="0.47" fill="#2fb3ad"/><circle cx="25.5" cy="6.5" r="0.51" fill="#3fa9a4"/><circle cx="1.3" cy="26.4" r="0.57" fill="#26aca7"/><circle cx="26.0" cy="1.4" r="0.78" fill="#26aca7"/><circle cx="18.5" cy="19.7" r="0.48" fill="#3fa9a4"/><circle cx="9.0" cy="3.8" r="0.48" fill="#3fa9a4"/><circle cx="7.9" cy="24.7" r="0.54" fill="#2fb3ad"/><circle cx="24.7" cy="8.0" r="0.64" fill="#2fb3ad"/><circle cx="16.1" cy="21.4" r="0.78" fill="#3fa9a4"/><circle cx="14.6" cy="29.4" r="0.49" fill="#2fb3ad"/><circle cx="6.7" cy="29.6" r="0.63" fill="#2fb3ad"/><circle cx="12.5" cy="1.5" r="0.49" fill="#3fa9a4"/><circle cx="25.5" cy="26.4" r="0.59" fill="#26aca7"/><circle cx="5.1" cy="21.8" r="0.78" fill="#26aca7"/><circle cx="29.9" cy="7.3" r="0.61" fill="#2fb3ad"/><circle cx="24.1" cy="18.2" r="0.62" fill="#26aca7"/><circle cx="28.7" cy="0.4" r="0.55" fill="#26aca7"/><circle cx="17.8" cy="19.3" r="0.73" fill="#3fa9a4"/><circle cx="4.1" cy="9.1" r="0.50" fill="#2fb3ad"/><circle cx="15.6" cy="19.0" r="0.51" fill="#3fa9a4"/><circle cx="14.7" cy="27.4" r="0.74" fill="#3fa9a4"/><circle cx="24.2" cy="6.5" r="0.57" fill="#26aca7"/><circle cx="13.4" cy="13.8" r="0.60" fill="#26aca7"/><circle cx="8.7" cy="12.9" r="0.75" fill="#2fb3ad"/><circle cx="22.7" cy="26.5" r="0.77" fill="#2fb3ad"/><circle cx="9.1" cy="16.5" r="0.80" fill="#3fa9a4"/><circle cx="15.2" cy="4.4" r="0.65" fill="#26aca7"/><circle cx="11.0" cy="29.8" r="0.71" fill="#2fb3ad"/><circle cx="24.5" cy="22.2" r="0.75" fill="#2fb3ad"/><circle cx="15.1" cy="23.9" r="0.78" fill="#26aca7"/><circle cx="17.1" cy="12.2" r="0.50" fill="#2fb3ad"/><circle cx="21.6" cy="4.1" r="0.63" fill="#3fa9a4"/><circle cx="12.7" cy="4.1" r="0.74" fill="#3fa9a4"/><circle cx="2.2" cy="13.4" r="0.69" fill="#2fb3ad"/><circle cx="27.5" cy="18.5" r="0.78" fill="#3fa9a4"/><circle cx="19.0" cy="1.4" r="0.52" fill="#2fb3ad"/><circle cx="2.9" cy="22.5" r="0.50" fill="#26aca7"/><circle cx="7.8" cy="1.4" r="0.65" fill="#2fb3ad"/><circle cx="25.3" cy="15.4" r="0.61" fill="#26aca7"/><circle cx="0.5" cy="0.9" r="0.73" fill="#2fb3ad"/><circle cx="4.6" cy="0.5" r="0.65" fill="#26aca7"/><circle cx="5.6" cy="6.0" r="0.79" fill="#3fa9a4"/><circle cx="8.4" cy="18.2" r="0.55" fill="#26aca7"/><circle cx="7.7" cy="26.1" r="0.69" fill="#3fa9a4"/><circle cx="10.4" cy="28.6" r="0.65" fill="#2fb3ad"/><circle cx="23.9" cy="1.1" r="0.71" fill="#26aca7"/><circle cx="17.5" cy="7.4" r="0.47" fill="#26aca7"/><circle cx="23.3" cy="4.3" r="0.71" fill="#2fb3ad"/><circle cx="5.7" cy="26.6" r="0.45" fill="#3fa9a4"/><circle cx="25.0" cy="29.4" r="0.66" fill="#26aca7"/><circle cx="18.7" cy="17.5" r="0.56" fill="#2fb3ad"/><circle cx="18.1" cy="8.5" r="0.80" fill="#2fb3ad"/><circle cx="25.9" cy="21.6" r="0.53" fill="#26aca7"/><circle cx="7.3" cy="3.5" r="0.50" fill="#3fa9a4"/><circle cx="8.9" cy="26.7" r="0.74" fill="#26aca7"/><circle cx="20.3" cy="16.7" r="0.64" fill="#26aca7"/><circle cx="8.8" cy="17.3" r="0.56" fill="#26aca7"/><circle cx="28.4" cy="8.8" r="0.65" fill="#3fa9a4"/><circle cx="27.8" cy="14.1" r="0.78" fill="#3fa9a4"/><circle cx="2.6" cy="6.8" r="0.55" fill="#26aca7"/><circle cx="0.2" cy="19.8" r="0.51" fill="#3fa9a4"/><circle cx="5.2" cy="19.3" r="0.66" fill="#3fa9a4"/><circle cx="23.5" cy="14.1" r="0.50" fill="#3fa9a4"/><circle cx="13.9" cy="20.7" r="0.53" fill="#3fa9a4"/><circle cx="3.0" cy="28.0" r="0.55" fill="#2fb3ad"/><circle cx="16.5" cy="23.0" r="0.55" fill="#2fb3ad"/><circle cx="22.9" cy="14.8" r="0.76" fill="#3fa9a4"/><circle cx="5.6" cy="28.6" r="0.79" fill="#2fb3ad"/><circle cx="15.6" cy="10.2" r="0.50" fill="#2fb3ad"/><circle cx="2.6" cy="0.5" r="0.66" fill="#3fa9a4"/><circle cx="25.6" cy="6.9" r="0.72" fill="#3fa9a4"/><circle cx="14.6" cy="25.1" r="0.69" fill="#2fb3ad"/><circle cx="20.0" cy="16.8" r="0.48" fill="#3fa9a4"/><circle cx="16.4" cy="1.5" r="0.62" fill="#3fa9a4"/><circle cx="14.4" cy="5.0" r="0.63" fill="#2fb3ad"/><circle cx="8.9" cy="0.8" r="0.50" fill="#3fa9a4"/><circle cx="5.5" cy="17.0" r="0.53" fill="#2fb3ad"/><circle cx="2.7" cy="25.8" r="0.45" fill="#26aca7"/><circle cx="27.3" cy="13.5" r="0.67" fill="#2fb3ad"/><circle cx="29.2" cy="25.7" r="0.58" fill="#2fb3ad"/><circle cx="26.1" cy="3.4" r="0.64" fill="#2fb3ad"/><circle cx="24.5" cy="0.1" r="0.65" fill="#2fb3ad"/><circle cx="9.7" cy="28.6" r="0.66" fill="#2fb3ad"/><circle cx="10.2" cy="15.4" r="0.66" fill="#3fa9a4"/><circle cx="7.1" cy="10.3" r="0.62" fill="#2fb3ad"/><circle cx="7.0" cy="13.1" r="0.60" fill="#3fa9a4"/><circle cx="26.6" cy="14.0" r="0.67" fill="#3fa9a4"/><circle cx="23.9" cy="24.1" r="0.53" fill="#3fa9a4"/><circle cx="16.4" cy="10.0" r="0.54" fill="#3fa9a4"/><circle cx="29.6" cy="14.9" r="0.80" fill="#3fa9a4"/><circle cx="25.8" cy="7.9" r="0.75" fill="#2fb3ad"/><circle cx="11.8" cy="12.7" r="0.50" fill="#3fa9a4"/><circle cx="13.0" cy="7.0" r="0.50" fill="#26aca7"/><circle cx="2.8" cy="29.6" r="0.46" fill="#26aca7"/><circle cx="26.2" cy="27.2" r="0.79" fill="#26aca7"/><circle cx="27.8" cy="3.2" r="0.61" fill="#26aca7"/><circle cx="9.8" cy="20.5" r="0.59" fill="#2fb3ad"/><circle cx="14.7" cy="29.1" r="0.68" fill="#26aca7"/><circle cx="17.7" cy="27.3" r="0.69" fill="#26aca7"/><circle cx="14.3" cy="10.8" r="0.70" fill="#2fb3ad"/><circle cx="27.7" cy="14.5" r="0.52" fill="#2fb3ad"/><circle cx="22.6" cy="14.6" r="0.53" fill="#26aca7"/><circle cx="2.7" cy="7.2" r="0.52" fill="#3fa9a4"/><circle cx="11.9" cy="3.1" r="0.45" fill="#3fa9a4"/><circle cx="7.9" cy="26.4" r="0.46" fill="#26aca7"/><circle cx="29.9" cy="13.7" r="0.63" fill="#26aca7"/><circle cx="7.5" cy="22.3" r="0.80" fill="#26aca7"/><circle cx="3.3" cy="1.3" r="0.46" fill="#2fb3ad"/><circle cx="23.8" cy="17.7" r="0.56" fill="#2fb3ad"/><circle cx="20.4" cy="29.8" r="0.67" fill="#2fb3ad"/><circle cx="21.5" cy="6.0" r="0.71" fill="#2fb3ad"/><circle cx="23.6" cy="7.4" r="0.72" fill="#26aca7"/><circle cx="25.8" cy="2.5" r="0.53" fill="#3fa9a4"/><circle cx="16.8" cy="8.5" r="0.78" fill="#2fb3ad"/><circle cx="27.6" cy="22.0" r="0.69" fill="#2fb3ad"/><circle cx="23.1" cy="14.8" r="0.59" fill="#26aca7"/><circle cx="12.2" cy="23.2" r="0.56" fill="#2fb3ad"/><circle cx="9.5" cy="15.8" r="0.57" fill="#2fb3ad"/><circle cx="6.6" cy="10.6" r="0.73" fill="#2fb3ad"/><circle cx="15.4" cy="4.4" r="0.71" fill="#2fb3ad"/><circle cx="26.4" cy="0.5" r="0.56" fill="#3fa9a4"/><circle cx="12.9" cy="20.5" r="0.60" fill="#2fb3ad"/><circle cx="16.5" cy="3.2" r="0.62" fill="#2fb3ad"/><circle cx="22.7" cy="12.9" r="0.66" fill="#26aca7"/><circle cx="22.2" cy="4.7" r="0.67" fill="#26aca7"/><circle cx="11.9" cy="25.4" r="0.71" fill="#26aca7"/><circle cx="27.2" cy="28.9" r="0.58" fill="#26aca7"/><circle cx="22.9" cy="14.9" r="0.51" fill="#3fa9a4"/><circle cx="23.0" cy="2.0" r="0.53" fill="#3fa9a4"/><circle cx="23.0" cy="7.0" r="0.63" fill="#3fa9a4"/><circle cx="18.1" cy="15.8" r="0.51" fill="#26aca7"/><circle cx="23.1" cy="8.6" r="0.73" fill="#2fb3ad"/><circle cx="13.8" cy="19.1" r="0.65" fill="#3fa9a4"/><circle cx="14.4" cy="13.8" r="0.74" fill="#2fb3ad"/><circle cx="26.4" cy="29.6" r="0.74" fill="#3fa9a4"/><circle cx="27.2" cy="15.8" r="0.65" fill="#26aca7"/><circle cx="19.8" cy="7.4" r="0.66" fill="#3fa9a4"/><circle cx="13.1" cy="10.6" r="0.77" fill="#26aca7"/><circle cx="9.1" cy="20.9" r="0.76" fill="#2fb3ad"/><circle cx="14.0" cy="15.2" r="0.47" fill="#3fa9a4"/><circle cx="19.0" cy="22.7" r="0.72" fill="#3fa9a4"/><circle cx="17.5" cy="12.2" r="0.69" fill="#3fa9a4"/><circle cx="19.5" cy="9.4" r="0.74" fill="#2fb3ad"/><circle cx="7.0" cy="24.1" r="0.60" fill="#2fb3ad"/><circle cx="0.3" cy="8.3" r="0.62" fill="#26aca7"/><circle cx="2.3" cy="29.9" r="0.48" fill="#3fa9a4"/><circle cx="8.4" cy="0.6" r="0.76" fill="#26aca7"/><circle cx="28.3" cy="10.4" r="0.67" fill="#3fa9a4"/><circle cx="24.7" cy="25.0" r="0.51" fill="#3fa9a4"/><circle cx="27.1" cy="22.7" r="0.53" fill="#2fb3ad"/><circle cx="24.5" cy="8.7" r="0.68" fill="#26aca7"/><circle cx="13.6" cy="23.0" r="0.79" fill="#3fa9a4"/><circle cx="17.6" cy="21.4" r="0.60" fill="#2fb3ad"/><circle cx="21.7" cy="17.1" r="0.76" fill="#26aca7"/><circle cx="15.7" cy="22.5" r="0.47" fill="#2fb3ad"/><circle cx="20.4" cy="1.4" r="0.78" fill="#2fb3ad"/><circle cx="6.9" cy="26.1" r="0.63" fill="#26aca7"/><circle cx="25.6" cy="16.5" r="0.54" fill="#2fb3ad"/><circle cx="7.3" cy="1.3" r="0.64" fill="#2fb3ad"/><circle cx="4.5" cy="7.6" r="0.49" fill="#26aca7"/><circle cx="19.2" cy="13.6" r="0.70" fill="#26aca7"/><circle cx="18.3" cy="19.8" r="0.55" fill="#2fb3ad"/><circle cx="22.3" cy="21.3" r="0.52" fill="#2fb3ad"/><circle cx="20.5" cy="5.4" r="0.71" fill="#26aca7"/><circle cx="9.0" cy="11.1" r="0.54" fill="#2fb3ad"/><circle cx="10.9" cy="4.8" r="0.59" fill="#26aca7"/><circle cx="8.7" cy="23.6" r="0.54" fill="#26aca7"/><circle cx="12.8" cy="29.2" r="0.76" fill="#3fa9a4"/><circle cx="14.9" cy="8.1" r="0.58" fill="#2fb3ad"/><circle cx="12.4" cy="17.8" r="0.47" fill="#2fb3ad"/><circle cx="17.0" cy="12.0" r="0.58" fill="#2fb3ad"/><circle cx="2.2" cy="12.7" r="0.62" fill="#26aca7"/><circle cx="19.0" cy="4.4" r="0.68" fill="#26aca7"/><circle cx="20.6" cy="4.7" r="0.65" fill="#3fa9a4"/><circle cx="13.5" cy="8.2" r="0.56" fill="#2fb3ad"/><circle cx="10.5" cy="7.3" r="0.64" fill="#3fa9a4"/><circle cx="19.7" cy="27.3" r="0.74" fill="#3fa9a4"/><circle cx="21.7" cy="14.9" r="0.69" fill="#3fa9a4"/><circle cx="25.4" cy="18.7" r="0.67" fill="#2fb3ad"/><circle cx="9.1" cy="5.5" r="0.55" fill="#26aca7"/><circle cx="11.2" cy="20.3" r="0.71" fill="#26aca7"/><circle cx="20.2" cy="27.7" r="0.62" fill="#3fa9a4"/><circle cx="4.2" cy="14.7" r="0.55" fill="#3fa9a4"/><circle cx="15.2" cy="15.7" r="0.58" fill="#26aca7"/><circle cx="20.7" cy="1.1" r="0.52" fill="#26aca7"/><circle cx="19.6" cy="15.8" r="0.76" fill="#3fa9a4"/><circle cx="2.2" cy="28.1" r="0.78" fill="#2fb3ad"/><circle cx="16.3" cy="22.0" r="0.66" fill="#2fb3ad"/><circle cx="3.1" cy="28.2" r="0.61" fill="#3fa9a4"/><circle cx="16.0" cy="0.2" r="0.65" fill="#2fb3ad"/><circle cx="14.4" cy="8.6" r="0.72" fill="#3fa9a4"/><circle cx="22.5" cy="10.2" r="0.61" fill="#2fb3ad"/><circle cx="1.8" cy="1.1" r="0.79" fill="#2fb3ad"/><circle cx="16.3" cy="28.2" r="0.64" fill="#3fa9a4"/><circle cx="26.3" cy="17.3" r="0.73" fill="#3fa9a4"/><circle cx="12.3" cy="19.6" r="0.57" fill="#3fa9a4"/><circle cx="20.3" cy="24.7" r="0.62" fill="#26aca7"/><circle cx="15.8" cy="1.7" r="0.53" fill="#3fa9a4"/><circle cx="18.7" cy="29.3" r="0.79" fill="#3fa9a4"/><circle cx="9.9" cy="15.4" r="0.63" fill="#3fa9a4"/><circle cx="11.6" cy="11.9" r="0.71" fill="#26aca7"/><circle cx="20.7" cy="5.1" r="0.76" fill="#3fa9a4"/><circle cx="22.0" cy="25.8" r="0.63" fill="#3fa9a4"/><circle cx="13.7" cy="26.4" r="0.47" fill="#3fa9a4"/><circle cx="23.5" cy="8.6" r="0.47" fill="#26aca7"/><circle cx="9.5" cy="27.4" r="0.62" fill="#26aca7"/><circle cx="25.3" cy="21.3" r="0.59" fill="#26aca7"/><circle cx="14.2" cy="3.3" r="0.75" fill="#26aca7"/><circle cx="13.8" cy="5.0" r="0.54" fill="#26aca7"/><circle cx="26.1" cy="9.5" r="0.77" fill="#26aca7"/><circle cx="20.0" cy="7.5" r="0.78" fill="#2fb3ad"/><circle cx="27.8" cy="4.3" r="0.49" fill="#3fa9a4"/><circle cx="14.0" cy="22.4" r="0.71" fill="#2fb3ad"/><circle cx="28.7" cy="8.5" r="0.48" fill="#3fa9a4"/><circle cx="18.0" cy="3.5" r="0.71" fill="#26aca7"/><circle cx="1.0" cy="20.5" r="0.51" fill="#26aca7"/><circle cx="29.6" cy="21.9" r="0.65" fill="#3fa9a4"/><circle cx="1.2" cy="12.4" r="0.75" fill="#3fa9a4"/><circle cx="21.0" cy="7.7" r="0.72" fill="#2fb3ad"/><circle cx="21.0" cy="6.2" r="0.71" fill="#26aca7"/><circle cx="25.0" cy="28.1" r="0.79" fill="#26aca7"/><circle cx="22.2" cy="11.3" r="0.53" fill="#2fb3ad"/><circle cx="8.0" cy="2.3" r="0.75" fill="#2fb3ad"/><circle cx="27.3" cy="17.0" r="0.48" fill="#3fa9a4"/><circle cx="22.5" cy="17.0" r="0.75" fill="#2fb3ad"/><circle cx="15.1" cy="29.3" r="0.61" fill="#2fb3ad"/><circle cx="5.4" cy="29.3" r="0.57" fill="#2fb3ad"/></pattern>
<pattern id="tealsparse" width="30" height="30" patternUnits="userSpaceOnUse"><circle cx="28.2" cy="8.1" r="0.72" fill="#5aa7a3"/><circle cx="23.2" cy="8.9" r="0.59" fill="#2fb3ad"/><circle cx="5.1" cy="20.0" r="0.58" fill="#2fb3ad"/><circle cx="25.6" cy="29.1" r="0.72" fill="#5aa7a3"/><circle cx="16.6" cy="9.6" r="0.47" fill="#2fb3ad"/><circle cx="23.6" cy="1.9" r="0.53" fill="#8aa7a5"/><circle cx="0.7" cy="14.3" r="0.71" fill="#26aca7"/><circle cx="10.8" cy="13.1" r="0.51" fill="#26aca7"/><circle cx="14.7" cy="13.2" r="0.48" fill="#2fb3ad"/><circle cx="6.7" cy="4.7" r="0.59" fill="#5aa7a3"/><circle cx="14.4" cy="29.7" r="0.74" fill="#2fb3ad"/><circle cx="18.2" cy="7.8" r="0.67" fill="#2fb3ad"/><circle cx="28.2" cy="15.2" r="0.56" fill="#5aa7a3"/><circle cx="23.8" cy="10.8" r="0.53" fill="#2fb3ad"/><circle cx="3.9" cy="5.3" r="0.48" fill="#8aa7a5"/><circle cx="22.8" cy="15.9" r="0.70" fill="#8aa7a5"/><circle cx="10.2" cy="9.6" r="0.47" fill="#26aca7"/><circle cx="11.4" cy="9.7" r="0.62" fill="#8aa7a5"/><circle cx="29.4" cy="11.4" r="0.68" fill="#8aa7a5"/><circle cx="25.4" cy="27.1" r="0.54" fill="#26aca7"/><circle cx="19.4" cy="0.7" r="0.73" fill="#5aa7a3"/><circle cx="2.9" cy="18.5" r="0.64" fill="#26aca7"/><circle cx="14.0" cy="5.1" r="0.64" fill="#5aa7a3"/><circle cx="2.7" cy="23.3" r="0.60" fill="#2fb3ad"/><circle cx="19.0" cy="17.0" r="0.50" fill="#2fb3ad"/><circle cx="17.6" cy="11.8" r="0.57" fill="#26aca7"/><circle cx="12.0" cy="3.5" r="0.47" fill="#8aa7a5"/><circle cx="27.7" cy="6.6" r="0.63" fill="#2fb3ad"/><circle cx="12.0" cy="10.5" r="0.49" fill="#5aa7a3"/><circle cx="0.4" cy="14.4" r="0.67" fill="#26aca7"/><circle cx="12.7" cy="10.6" r="0.73" fill="#8aa7a5"/><circle cx="5.9" cy="13.8" r="0.45" fill="#5aa7a3"/><circle cx="2.1" cy="4.1" r="0.60" fill="#2fb3ad"/><circle cx="14.8" cy="23.3" r="0.57" fill="#26aca7"/><circle cx="14.4" cy="17.9" r="0.49" fill="#8aa7a5"/><circle cx="8.7" cy="18.8" r="0.48" fill="#8aa7a5"/><circle cx="6.6" cy="12.3" r="0.47" fill="#8aa7a5"/><circle cx="5.5" cy="18.3" r="0.60" fill="#5aa7a3"/><circle cx="19.2" cy="4.3" r="0.52" fill="#2fb3ad"/><circle cx="7.2" cy="0.8" r="0.66" fill="#5aa7a3"/><circle cx="24.2" cy="25.7" r="0.51" fill="#5aa7a3"/><circle cx="20.4" cy="16.8" r="0.60" fill="#5aa7a3"/><circle cx="16.6" cy="7.0" r="0.52" fill="#26aca7"/><circle cx="7.6" cy="8.5" r="0.59" fill="#2fb3ad"/><circle cx="28.8" cy="4.4" r="0.74" fill="#26aca7"/><circle cx="12.7" cy="12.8" r="0.50" fill="#26aca7"/><circle cx="25.1" cy="14.4" r="0.45" fill="#8aa7a5"/><circle cx="9.6" cy="22.0" r="0.59" fill="#2fb3ad"/><circle cx="15.0" cy="24.1" r="0.56" fill="#5aa7a3"/><circle cx="23.3" cy="10.6" r="0.67" fill="#5aa7a3"/><circle cx="24.2" cy="24.4" r="0.58" fill="#5aa7a3"/><circle cx="21.5" cy="7.6" r="0.60" fill="#26aca7"/><circle cx="18.0" cy="27.3" r="0.67" fill="#8aa7a5"/><circle cx="22.2" cy="20.7" r="0.73" fill="#8aa7a5"/><circle cx="16.0" cy="28.2" r="0.54" fill="#2fb3ad"/><circle cx="1.9" cy="17.3" r="0.52" fill="#5aa7a3"/><circle cx="19.1" cy="0.1" r="0.51" fill="#8aa7a5"/><circle cx="14.9" cy="21.6" r="0.55" fill="#8aa7a5"/><circle cx="29.2" cy="2.8" r="0.63" fill="#2fb3ad"/><circle cx="15.2" cy="15.2" r="0.75" fill="#8aa7a5"/><circle cx="7.8" cy="25.5" r="0.59" fill="#26aca7"/><circle cx="29.6" cy="1.1" r="0.56" fill="#2fb3ad"/><circle cx="17.8" cy="26.9" r="0.50" fill="#2fb3ad"/><circle cx="17.6" cy="26.8" r="0.73" fill="#26aca7"/><circle cx="2.0" cy="1.7" r="0.49" fill="#26aca7"/><circle cx="22.6" cy="8.8" r="0.54" fill="#2fb3ad"/><circle cx="23.7" cy="29.3" r="0.48" fill="#5aa7a3"/><circle cx="22.2" cy="28.7" r="0.67" fill="#5aa7a3"/><circle cx="9.0" cy="28.6" r="0.54" fill="#5aa7a3"/><circle cx="11.1" cy="1.8" r="0.57" fill="#8aa7a5"/><circle cx="24.4" cy="3.7" r="0.60" fill="#5aa7a3"/><circle cx="10.8" cy="16.0" r="0.69" fill="#26aca7"/><circle cx="22.4" cy="16.0" r="0.63" fill="#5aa7a3"/><circle cx="4.4" cy="27.3" r="0.60" fill="#26aca7"/><circle cx="23.9" cy="28.1" r="0.71" fill="#2fb3ad"/><circle cx="29.8" cy="1.1" r="0.52" fill="#5aa7a3"/><circle cx="19.8" cy="1.6" r="0.51" fill="#5aa7a3"/><circle cx="21.7" cy="2.7" r="0.48" fill="#5aa7a3"/><circle cx="5.5" cy="27.8" r="0.62" fill="#26aca7"/><circle cx="0.3" cy="2.0" r="0.70" fill="#2fb3ad"/><circle cx="15.4" cy="21.0" r="0.51" fill="#2fb3ad"/><circle cx="28.7" cy="4.1" r="0.58" fill="#26aca7"/><circle cx="29.8" cy="28.7" r="0.45" fill="#5aa7a3"/><circle cx="19.4" cy="12.6" r="0.62" fill="#26aca7"/><circle cx="8.1" cy="15.6" r="0.47" fill="#26aca7"/><circle cx="29.8" cy="12.1" r="0.47" fill="#26aca7"/><circle cx="1.7" cy="27.0" r="0.61" fill="#8aa7a5"/><circle cx="19.6" cy="27.8" r="0.55" fill="#5aa7a3"/><circle cx="15.1" cy="7.2" r="0.69" fill="#26aca7"/><circle cx="6.4" cy="5.8" r="0.58" fill="#8aa7a5"/><circle cx="18.5" cy="6.6" r="0.51" fill="#5aa7a3"/><circle cx="24.9" cy="13.4" r="0.53" fill="#8aa7a5"/><circle cx="6.3" cy="3.3" r="0.46" fill="#26aca7"/><circle cx="5.9" cy="17.3" r="0.46" fill="#2fb3ad"/><circle cx="25.7" cy="20.4" r="0.68" fill="#2fb3ad"/><circle cx="20.6" cy="26.6" r="0.49" fill="#2fb3ad"/><circle cx="0.2" cy="17.0" r="0.56" fill="#2fb3ad"/><circle cx="25.0" cy="25.8" r="0.46" fill="#26aca7"/><circle cx="28.1" cy="5.5" r="0.55" fill="#5aa7a3"/><circle cx="10.5" cy="3.8" r="0.71" fill="#2fb3ad"/><circle cx="12.3" cy="1.8" r="0.63" fill="#5aa7a3"/><circle cx="3.4" cy="13.2" r="0.52" fill="#2fb3ad"/><circle cx="2.9" cy="3.8" r="0.55" fill="#5aa7a3"/><circle cx="2.0" cy="28.9" r="0.62" fill="#2fb3ad"/><circle cx="15.8" cy="12.1" r="0.48" fill="#5aa7a3"/><circle cx="25.9" cy="30.0" r="0.70" fill="#2fb3ad"/><circle cx="1.2" cy="0.5" r="0.48" fill="#2fb3ad"/><circle cx="19.7" cy="29.4" r="0.66" fill="#5aa7a3"/><circle cx="19.9" cy="0.7" r="0.73" fill="#5aa7a3"/><circle cx="9.5" cy="22.4" r="0.60" fill="#26aca7"/><circle cx="15.8" cy="27.6" r="0.70" fill="#8aa7a5"/><circle cx="18.4" cy="7.4" r="0.73" fill="#5aa7a3"/><circle cx="21.9" cy="23.6" r="0.64" fill="#8aa7a5"/><circle cx="24.5" cy="14.4" r="0.47" fill="#5aa7a3"/><circle cx="23.0" cy="26.1" r="0.72" fill="#8aa7a5"/><circle cx="12.8" cy="17.3" r="0.49" fill="#8aa7a5"/><circle cx="24.8" cy="10.1" r="0.69" fill="#8aa7a5"/><circle cx="29.7" cy="7.7" r="0.68" fill="#26aca7"/><circle cx="23.9" cy="7.9" r="0.75" fill="#5aa7a3"/><circle cx="24.4" cy="26.5" r="0.49" fill="#5aa7a3"/></pattern>
<pattern id="mixsparse" width="30" height="30" patternUnits="userSpaceOnUse"><circle cx="14.9" cy="13.4" r="0.68" fill="#8f8381"/><circle cx="20.6" cy="11.1" r="0.52" fill="#3a9f98"/><circle cx="28.4" cy="2.0" r="0.58" fill="#cf786f"/><circle cx="6.5" cy="0.6" r="0.67" fill="#cf786f"/><circle cx="21.4" cy="10.0" r="0.54" fill="#cf786f"/><circle cx="3.6" cy="13.1" r="0.53" fill="#cf786f"/><circle cx="18.9" cy="26.5" r="0.47" fill="#8f8381"/><circle cx="1.6" cy="19.3" r="0.62" fill="#3a9f98"/><circle cx="25.6" cy="29.3" r="0.63" fill="#cf786f"/><circle cx="21.7" cy="1.8" r="0.63" fill="#3a9f98"/><circle cx="11.2" cy="7.3" r="0.44" fill="#3a9f98"/><circle cx="10.1" cy="28.4" r="0.60" fill="#8f8381"/><circle cx="27.4" cy="13.3" r="0.44" fill="#cf786f"/><circle cx="18.4" cy="14.8" r="0.56" fill="#8f8381"/><circle cx="7.9" cy="17.4" r="0.62" fill="#8f8381"/><circle cx="23.8" cy="9.5" r="0.51" fill="#8f8381"/><circle cx="21.4" cy="15.2" r="0.66" fill="#cf786f"/><circle cx="16.7" cy="21.4" r="0.52" fill="#3a9f98"/><circle cx="10.6" cy="18.7" r="0.45" fill="#cf786f"/><circle cx="5.0" cy="11.4" r="0.63" fill="#cf786f"/><circle cx="11.7" cy="29.4" r="0.67" fill="#3a9f98"/><circle cx="16.6" cy="29.6" r="0.70" fill="#cf786f"/><circle cx="2.2" cy="18.7" r="0.67" fill="#cf786f"/><circle cx="17.7" cy="26.2" r="0.66" fill="#cf786f"/><circle cx="18.5" cy="2.5" r="0.53" fill="#cf786f"/><circle cx="18.9" cy="10.3" r="0.45" fill="#cf786f"/><circle cx="1.9" cy="18.0" r="0.68" fill="#cf786f"/><circle cx="18.9" cy="27.3" r="0.42" fill="#3a9f98"/><circle cx="15.8" cy="4.9" r="0.46" fill="#8f8381"/><circle cx="19.5" cy="20.5" r="0.68" fill="#3a9f98"/><circle cx="24.0" cy="8.8" r="0.62" fill="#cf786f"/><circle cx="0.9" cy="10.8" r="0.70" fill="#8f8381"/><circle cx="28.5" cy="16.7" r="0.62" fill="#cf786f"/><circle cx="14.5" cy="18.7" r="0.53" fill="#cf786f"/><circle cx="25.2" cy="27.5" r="0.66" fill="#cf786f"/><circle cx="2.6" cy="3.5" r="0.56" fill="#3a9f98"/><circle cx="22.2" cy="6.2" r="0.56" fill="#cf786f"/><circle cx="23.9" cy="24.2" r="0.65" fill="#8f8381"/><circle cx="3.6" cy="10.4" r="0.55" fill="#3a9f98"/><circle cx="16.1" cy="0.9" r="0.42" fill="#3a9f98"/><circle cx="29.5" cy="27.4" r="0.46" fill="#3a9f98"/><circle cx="0.1" cy="7.3" r="0.63" fill="#8f8381"/><circle cx="19.5" cy="28.9" r="0.68" fill="#cf786f"/><circle cx="2.4" cy="16.8" r="0.51" fill="#cf786f"/><circle cx="29.1" cy="22.9" r="0.64" fill="#cf786f"/><circle cx="12.7" cy="17.2" r="0.68" fill="#cf786f"/><circle cx="0.8" cy="13.4" r="0.66" fill="#cf786f"/><circle cx="14.5" cy="28.0" r="0.63" fill="#3a9f98"/><circle cx="22.9" cy="28.6" r="0.67" fill="#8f8381"/><circle cx="28.1" cy="13.0" r="0.66" fill="#cf786f"/><circle cx="3.4" cy="19.2" r="0.48" fill="#3a9f98"/><circle cx="23.9" cy="19.5" r="0.67" fill="#cf786f"/><circle cx="23.9" cy="25.9" r="0.57" fill="#8f8381"/><circle cx="29.7" cy="26.2" r="0.57" fill="#cf786f"/><circle cx="25.6" cy="25.0" r="0.46" fill="#cf786f"/><circle cx="28.3" cy="22.4" r="0.49" fill="#3a9f98"/><circle cx="25.5" cy="22.7" r="0.47" fill="#3a9f98"/><circle cx="29.8" cy="11.2" r="0.69" fill="#8f8381"/><circle cx="27.2" cy="6.5" r="0.65" fill="#cf786f"/><circle cx="3.6" cy="21.0" r="0.57" fill="#cf786f"/><circle cx="13.3" cy="12.4" r="0.49" fill="#cf786f"/><circle cx="9.6" cy="27.3" r="0.43" fill="#cf786f"/><circle cx="0.6" cy="21.7" r="0.69" fill="#cf786f"/><circle cx="12.0" cy="19.6" r="0.67" fill="#8f8381"/><circle cx="14.8" cy="24.1" r="0.43" fill="#3a9f98"/><circle cx="2.0" cy="0.9" r="0.46" fill="#cf786f"/><circle cx="0.7" cy="11.3" r="0.53" fill="#cf786f"/><circle cx="25.8" cy="7.2" r="0.63" fill="#cf786f"/><circle cx="12.2" cy="12.9" r="0.60" fill="#cf786f"/><circle cx="14.1" cy="12.7" r="0.55" fill="#8f8381"/><circle cx="20.7" cy="12.1" r="0.57" fill="#cf786f"/><circle cx="20.4" cy="5.8" r="0.46" fill="#cf786f"/><circle cx="6.0" cy="26.1" r="0.59" fill="#8f8381"/><circle cx="28.9" cy="21.0" r="0.52" fill="#8f8381"/><circle cx="15.1" cy="28.6" r="0.56" fill="#3a9f98"/><circle cx="25.8" cy="6.2" r="0.57" fill="#3a9f98"/><circle cx="23.6" cy="0.8" r="0.58" fill="#8f8381"/><circle cx="7.8" cy="8.8" r="0.67" fill="#3a9f98"/><circle cx="25.8" cy="15.1" r="0.46" fill="#cf786f"/><circle cx="13.7" cy="14.7" r="0.43" fill="#8f8381"/><circle cx="12.0" cy="10.1" r="0.45" fill="#cf786f"/><circle cx="5.4" cy="20.4" r="0.56" fill="#8f8381"/><circle cx="25.0" cy="27.8" r="0.56" fill="#cf786f"/><circle cx="17.8" cy="1.5" r="0.56" fill="#cf786f"/><circle cx="25.1" cy="3.8" r="0.63" fill="#cf786f"/><circle cx="15.2" cy="3.4" r="0.62" fill="#3a9f98"/><circle cx="21.2" cy="12.4" r="0.42" fill="#cf786f"/><circle cx="25.9" cy="16.4" r="0.69" fill="#cf786f"/><circle cx="8.5" cy="14.8" r="0.57" fill="#3a9f98"/><circle cx="19.4" cy="17.7" r="0.68" fill="#8f8381"/><circle cx="0.6" cy="16.5" r="0.60" fill="#cf786f"/><circle cx="19.9" cy="29.6" r="0.52" fill="#8f8381"/><circle cx="16.1" cy="27.3" r="0.66" fill="#8f8381"/><circle cx="18.3" cy="15.3" r="0.50" fill="#3a9f98"/><circle cx="2.3" cy="9.8" r="0.51" fill="#3a9f98"/><circle cx="29.4" cy="24.0" r="0.57" fill="#8f8381"/><circle cx="10.4" cy="23.1" r="0.63" fill="#8f8381"/><circle cx="10.8" cy="22.3" r="0.54" fill="#8f8381"/><circle cx="27.6" cy="26.7" r="0.55" fill="#8f8381"/><circle cx="2.1" cy="23.2" r="0.45" fill="#cf786f"/><circle cx="12.5" cy="3.0" r="0.57" fill="#cf786f"/><circle cx="4.4" cy="13.6" r="0.63" fill="#cf786f"/><circle cx="19.2" cy="19.4" r="0.63" fill="#8f8381"/><circle cx="11.9" cy="23.5" r="0.44" fill="#cf786f"/><circle cx="22.6" cy="27.6" r="0.67" fill="#cf786f"/><circle cx="19.4" cy="15.7" r="0.62" fill="#8f8381"/><circle cx="10.4" cy="5.4" r="0.59" fill="#cf786f"/><circle cx="16.1" cy="15.3" r="0.59" fill="#8f8381"/><circle cx="21.2" cy="24.8" r="0.55" fill="#cf786f"/><circle cx="3.4" cy="2.4" r="0.55" fill="#cf786f"/><circle cx="7.0" cy="28.8" r="0.50" fill="#8f8381"/><circle cx="29.4" cy="15.1" r="0.48" fill="#cf786f"/><circle cx="7.5" cy="19.0" r="0.52" fill="#cf786f"/><circle cx="14.1" cy="24.7" r="0.61" fill="#cf786f"/><circle cx="17.4" cy="7.4" r="0.68" fill="#cf786f"/><circle cx="21.4" cy="17.1" r="0.44" fill="#3a9f98"/><circle cx="9.8" cy="28.5" r="0.54" fill="#cf786f"/><circle cx="25.3" cy="14.6" r="0.53" fill="#3a9f98"/><circle cx="1.1" cy="7.8" r="0.52" fill="#8f8381"/><circle cx="6.1" cy="0.4" r="0.67" fill="#cf786f"/><circle cx="5.5" cy="15.5" r="0.58" fill="#3a9f98"/><circle cx="22.2" cy="13.6" r="0.48" fill="#cf786f"/><circle cx="11.5" cy="24.8" r="0.68" fill="#3a9f98"/><circle cx="6.3" cy="25.8" r="0.50" fill="#cf786f"/><circle cx="18.3" cy="3.9" r="0.54" fill="#3a9f98"/><circle cx="29.0" cy="17.7" r="0.56" fill="#cf786f"/><circle cx="28.3" cy="0.9" r="0.50" fill="#8f8381"/><circle cx="14.8" cy="26.1" r="0.44" fill="#8f8381"/><circle cx="25.9" cy="6.0" r="0.43" fill="#cf786f"/><circle cx="22.8" cy="12.4" r="0.62" fill="#cf786f"/><circle cx="10.8" cy="13.4" r="0.42" fill="#3a9f98"/><circle cx="7.2" cy="16.3" r="0.50" fill="#cf786f"/><circle cx="28.4" cy="27.5" r="0.54" fill="#cf786f"/><circle cx="13.0" cy="22.8" r="0.60" fill="#cf786f"/><circle cx="9.9" cy="13.9" r="0.62" fill="#8f8381"/><circle cx="8.0" cy="3.5" r="0.57" fill="#cf786f"/><circle cx="9.7" cy="11.7" r="0.63" fill="#cf786f"/><circle cx="14.3" cy="13.7" r="0.46" fill="#8f8381"/><circle cx="29.7" cy="9.4" r="0.42" fill="#cf786f"/><circle cx="1.7" cy="11.1" r="0.69" fill="#cf786f"/><circle cx="10.6" cy="26.5" r="0.47" fill="#3a9f98"/><circle cx="25.9" cy="22.0" r="0.50" fill="#cf786f"/><circle cx="16.7" cy="19.7" r="0.56" fill="#3a9f98"/><circle cx="14.2" cy="8.4" r="0.66" fill="#cf786f"/><circle cx="8.2" cy="22.6" r="0.70" fill="#3a9f98"/><circle cx="4.0" cy="21.1" r="0.67" fill="#cf786f"/><circle cx="4.1" cy="22.0" r="0.67" fill="#3a9f98"/><circle cx="16.5" cy="15.2" r="0.53" fill="#8f8381"/><circle cx="17.9" cy="22.4" r="0.55" fill="#cf786f"/><circle cx="23.1" cy="15.3" r="0.50" fill="#cf786f"/><circle cx="23.3" cy="19.6" r="0.61" fill="#3a9f98"/><circle cx="15.6" cy="12.8" r="0.59" fill="#cf786f"/><circle cx="3.6" cy="10.3" r="0.66" fill="#3a9f98"/><circle cx="7.8" cy="26.6" r="0.57" fill="#cf786f"/><circle cx="13.0" cy="28.3" r="0.58" fill="#cf786f"/><circle cx="14.6" cy="0.5" r="0.67" fill="#cf786f"/><circle cx="22.9" cy="7.9" r="0.61" fill="#8f8381"/><circle cx="2.8" cy="27.2" r="0.51" fill="#cf786f"/><circle cx="19.3" cy="22.9" r="0.50" fill="#cf786f"/><circle cx="9.1" cy="27.6" r="0.43" fill="#cf786f"/><circle cx="24.3" cy="5.5" r="0.49" fill="#cf786f"/><circle cx="15.4" cy="3.6" r="0.57" fill="#cf786f"/><circle cx="19.5" cy="25.4" r="0.49" fill="#cf786f"/><circle cx="17.0" cy="26.2" r="0.55" fill="#8f8381"/><circle cx="3.0" cy="19.5" r="0.57" fill="#8f8381"/><circle cx="15.5" cy="19.7" r="0.49" fill="#8f8381"/><circle cx="22.0" cy="30.0" r="0.47" fill="#cf786f"/><circle cx="22.8" cy="4.5" r="0.65" fill="#8f8381"/><circle cx="26.3" cy="23.9" r="0.46" fill="#3a9f98"/><circle cx="21.7" cy="22.5" r="0.54" fill="#3a9f98"/></pattern>
<pattern id="mixdots" width="40" height="40" patternUnits="userSpaceOnUse"><rect width="40" height="40" fill="#f1eeed"/><circle cx="7.5" cy="34.3" r="0.57" fill="#cf786f"/><circle cx="38.1" cy="39.5" r="0.63" fill="#8f8381"/><circle cx="35.5" cy="28.7" r="0.42" fill="#8f8381"/><circle cx="10.6" cy="26.0" r="0.63" fill="#8f8381"/><circle cx="37.9" cy="28.6" r="0.61" fill="#c98f88"/><circle cx="4.9" cy="15.1" r="0.68" fill="#3a9f98"/><circle cx="35.4" cy="23.5" r="0.59" fill="#8f8381"/><circle cx="31.6" cy="14.6" r="0.65" fill="#c98f88"/><circle cx="19.2" cy="17.9" r="0.43" fill="#8f8381"/><circle cx="4.9" cy="36.5" r="0.52" fill="#8f8381"/><circle cx="23.7" cy="10.1" r="0.46" fill="#c98f88"/><circle cx="27.4" cy="5.2" r="0.61" fill="#3a9f98"/><circle cx="20.3" cy="18.5" r="0.48" fill="#3a9f98"/><circle cx="33.8" cy="24.2" r="0.63" fill="#5aa29c"/><circle cx="30.0" cy="22.1" r="0.63" fill="#c98f88"/><circle cx="26.2" cy="17.2" r="0.64" fill="#cf786f"/><circle cx="16.9" cy="10.7" r="0.67" fill="#8f8381"/><circle cx="8.6" cy="0.7" r="0.54" fill="#3a9f98"/><circle cx="2.2" cy="25.7" r="0.65" fill="#3a9f98"/><circle cx="3.8" cy="33.2" r="0.52" fill="#3a9f98"/><circle cx="6.1" cy="14.6" r="0.63" fill="#5aa29c"/><circle cx="5.2" cy="27.2" r="0.62" fill="#cf786f"/><circle cx="10.1" cy="30.8" r="0.52" fill="#8f8381"/><circle cx="31.4" cy="38.8" r="0.63" fill="#c98f88"/><circle cx="10.1" cy="17.0" r="0.67" fill="#3a9f98"/><circle cx="11.3" cy="35.9" r="0.56" fill="#3a9f98"/><circle cx="28.8" cy="26.1" r="0.53" fill="#3a9f98"/><circle cx="3.7" cy="34.0" r="0.62" fill="#5aa29c"/><circle cx="12.3" cy="16.3" r="0.67" fill="#c98f88"/><circle cx="26.8" cy="34.6" r="0.53" fill="#5aa29c"/><circle cx="20.3" cy="8.4" r="0.43" fill="#cf786f"/><circle cx="19.4" cy="4.8" r="0.57" fill="#c98f88"/><circle cx="23.4" cy="36.4" r="0.45" fill="#5aa29c"/><circle cx="0.5" cy="34.5" r="0.52" fill="#cf786f"/><circle cx="23.0" cy="23.2" r="0.60" fill="#5aa29c"/><circle cx="6.2" cy="16.8" r="0.67" fill="#cf786f"/><circle cx="28.7" cy="27.8" r="0.61" fill="#3a9f98"/><circle cx="6.4" cy="5.8" r="0.66" fill="#cf786f"/><circle cx="32.4" cy="37.2" r="0.68" fill="#5aa29c"/><circle cx="25.0" cy="9.0" r="0.44" fill="#3a9f98"/><circle cx="25.7" cy="27.7" r="0.49" fill="#cf786f"/><circle cx="2.5" cy="14.4" r="0.65" fill="#cf786f"/><circle cx="15.1" cy="1.8" r="0.52" fill="#3a9f98"/><circle cx="34.8" cy="16.2" r="0.51" fill="#cf786f"/><circle cx="0.7" cy="31.4" r="0.67" fill="#c98f88"/><circle cx="34.3" cy="27.2" r="0.45" fill="#3a9f98"/><circle cx="6.7" cy="29.6" r="0.52" fill="#cf786f"/><circle cx="32.2" cy="26.0" r="0.45" fill="#cf786f"/><circle cx="7.2" cy="26.7" r="0.54" fill="#cf786f"/><circle cx="36.0" cy="29.5" r="0.43" fill="#c98f88"/><circle cx="30.9" cy="37.4" r="0.47" fill="#3a9f98"/><circle cx="39.1" cy="24.8" r="0.63" fill="#c98f88"/><circle cx="20.8" cy="8.5" r="0.58" fill="#c98f88"/><circle cx="12.5" cy="11.7" r="0.55" fill="#5aa29c"/><circle cx="29.5" cy="17.2" r="0.70" fill="#cf786f"/><circle cx="14.5" cy="6.4" r="0.60" fill="#cf786f"/><circle cx="29.0" cy="20.3" r="0.62" fill="#cf786f"/><circle cx="21.0" cy="26.6" r="0.63" fill="#c98f88"/><circle cx="21.6" cy="36.7" r="0.55" fill="#3a9f98"/><circle cx="17.7" cy="38.0" r="0.51" fill="#8f8381"/><circle cx="38.8" cy="20.3" r="0.52" fill="#c98f88"/><circle cx="33.9" cy="7.3" r="0.62" fill="#8f8381"/><circle cx="21.5" cy="35.5" r="0.66" fill="#c98f88"/><circle cx="39.6" cy="29.0" r="0.58" fill="#cf786f"/><circle cx="13.3" cy="11.9" r="0.53" fill="#cf786f"/><circle cx="15.0" cy="14.7" r="0.54" fill="#cf786f"/><circle cx="6.0" cy="1.6" r="0.61" fill="#cf786f"/><circle cx="9.3" cy="18.0" r="0.52" fill="#3a9f98"/><circle cx="2.1" cy="32.1" r="0.48" fill="#3a9f98"/><circle cx="25.1" cy="38.4" r="0.65" fill="#8f8381"/><circle cx="1.9" cy="33.9" r="0.42" fill="#8f8381"/><circle cx="3.1" cy="18.1" r="0.65" fill="#5aa29c"/><circle cx="6.5" cy="5.9" r="0.62" fill="#3a9f98"/><circle cx="20.7" cy="7.1" r="0.50" fill="#3a9f98"/><circle cx="40.0" cy="14.7" r="0.48" fill="#cf786f"/><circle cx="20.2" cy="2.4" r="0.43" fill="#cf786f"/><circle cx="5.7" cy="4.2" r="0.51" fill="#5aa29c"/><circle cx="6.0" cy="34.0" r="0.52" fill="#3a9f98"/><circle cx="2.9" cy="6.2" r="0.59" fill="#8f8381"/><circle cx="1.6" cy="19.4" r="0.68" fill="#8f8381"/><circle cx="15.4" cy="20.4" r="0.49" fill="#c98f88"/><circle cx="19.9" cy="25.5" r="0.62" fill="#3a9f98"/><circle cx="39.1" cy="38.5" r="0.65" fill="#5aa29c"/><circle cx="38.1" cy="7.9" r="0.47" fill="#cf786f"/><circle cx="33.7" cy="17.4" r="0.43" fill="#5aa29c"/><circle cx="12.5" cy="8.8" r="0.60" fill="#5aa29c"/><circle cx="7.6" cy="33.1" r="0.49" fill="#c98f88"/><circle cx="13.3" cy="13.6" r="0.52" fill="#3a9f98"/><circle cx="28.7" cy="8.3" r="0.61" fill="#3a9f98"/><circle cx="6.0" cy="27.9" r="0.55" fill="#5aa29c"/><circle cx="16.6" cy="4.6" r="0.58" fill="#3a9f98"/><circle cx="37.1" cy="8.0" r="0.60" fill="#3a9f98"/><circle cx="20.0" cy="1.3" r="0.49" fill="#cf786f"/><circle cx="18.7" cy="28.8" r="0.43" fill="#cf786f"/><circle cx="5.7" cy="29.6" r="0.60" fill="#cf786f"/><circle cx="23.7" cy="35.7" r="0.53" fill="#8f8381"/><circle cx="22.8" cy="5.3" r="0.46" fill="#5aa29c"/><circle cx="16.0" cy="10.2" r="0.68" fill="#c98f88"/><circle cx="3.9" cy="2.8" r="0.66" fill="#8f8381"/><circle cx="7.9" cy="13.9" r="0.45" fill="#3a9f98"/><circle cx="1.2" cy="7.1" r="0.66" fill="#c98f88"/><circle cx="23.0" cy="7.5" r="0.70" fill="#8f8381"/><circle cx="35.7" cy="4.3" r="0.44" fill="#5aa29c"/><circle cx="37.2" cy="17.3" r="0.64" fill="#cf786f"/><circle cx="2.6" cy="33.2" r="0.66" fill="#cf786f"/><circle cx="27.1" cy="29.1" r="0.48" fill="#cf786f"/><circle cx="35.4" cy="0.6" r="0.51" fill="#3a9f98"/><circle cx="36.8" cy="32.4" r="0.47" fill="#3a9f98"/><circle cx="38.6" cy="8.4" r="0.61" fill="#cf786f"/><circle cx="29.4" cy="3.9" r="0.45" fill="#c98f88"/><circle cx="3.5" cy="28.2" r="0.61" fill="#cf786f"/><circle cx="32.0" cy="25.1" r="0.55" fill="#8f8381"/><circle cx="18.6" cy="29.7" r="0.47" fill="#cf786f"/><circle cx="32.4" cy="31.0" r="0.55" fill="#8f8381"/><circle cx="39.6" cy="25.8" r="0.62" fill="#cf786f"/><circle cx="19.8" cy="36.8" r="0.63" fill="#5aa29c"/><circle cx="22.6" cy="26.2" r="0.49" fill="#cf786f"/><circle cx="12.3" cy="33.8" r="0.42" fill="#5aa29c"/><circle cx="34.2" cy="10.7" r="0.47" fill="#3a9f98"/><circle cx="15.3" cy="39.5" r="0.61" fill="#3a9f98"/><circle cx="27.4" cy="4.2" r="0.47" fill="#3a9f98"/><circle cx="8.5" cy="34.8" r="0.44" fill="#8f8381"/><circle cx="22.6" cy="38.5" r="0.69" fill="#5aa29c"/><circle cx="33.7" cy="31.0" r="0.70" fill="#c98f88"/><circle cx="11.2" cy="3.0" r="0.61" fill="#5aa29c"/><circle cx="7.1" cy="28.3" r="0.44" fill="#8f8381"/><circle cx="27.5" cy="38.7" r="0.50" fill="#cf786f"/><circle cx="28.7" cy="20.4" r="0.45" fill="#3a9f98"/><circle cx="17.3" cy="23.7" r="0.68" fill="#3a9f98"/><circle cx="4.4" cy="8.2" r="0.52" fill="#8f8381"/><circle cx="6.6" cy="16.6" r="0.57" fill="#cf786f"/><circle cx="20.2" cy="37.2" r="0.54" fill="#3a9f98"/><circle cx="12.9" cy="39.9" r="0.54" fill="#cf786f"/><circle cx="10.4" cy="5.7" r="0.54" fill="#3a9f98"/><circle cx="12.6" cy="27.7" r="0.52" fill="#3a9f98"/><circle cx="30.8" cy="9.2" r="0.57" fill="#8f8381"/><circle cx="10.8" cy="33.9" r="0.69" fill="#8f8381"/><circle cx="9.9" cy="25.8" r="0.58" fill="#cf786f"/><circle cx="0.7" cy="11.5" r="0.65" fill="#3a9f98"/><circle cx="38.5" cy="9.4" r="0.59" fill="#5aa29c"/><circle cx="7.2" cy="27.8" r="0.70" fill="#5aa29c"/><circle cx="28.1" cy="11.7" r="0.54" fill="#5aa29c"/><circle cx="26.6" cy="38.4" r="0.45" fill="#5aa29c"/><circle cx="26.3" cy="11.5" r="0.65" fill="#5aa29c"/><circle cx="12.5" cy="15.0" r="0.64" fill="#8f8381"/><circle cx="27.4" cy="26.0" r="0.70" fill="#5aa29c"/><circle cx="6.0" cy="33.0" r="0.64" fill="#5aa29c"/><circle cx="5.2" cy="28.8" r="0.42" fill="#3a9f98"/><circle cx="28.6" cy="14.4" r="0.42" fill="#cf786f"/><circle cx="2.6" cy="1.7" r="0.59" fill="#3a9f98"/><circle cx="17.8" cy="8.4" r="0.43" fill="#3a9f98"/><circle cx="2.6" cy="10.3" r="0.44" fill="#c98f88"/><circle cx="35.2" cy="40.0" r="0.69" fill="#3a9f98"/><circle cx="29.5" cy="5.8" r="0.45" fill="#cf786f"/><circle cx="20.0" cy="12.6" r="0.64" fill="#3a9f98"/><circle cx="18.6" cy="27.3" r="0.66" fill="#3a9f98"/><circle cx="3.0" cy="4.9" r="0.65" fill="#c98f88"/><circle cx="9.6" cy="26.7" r="0.63" fill="#c98f88"/><circle cx="15.6" cy="20.1" r="0.55" fill="#5aa29c"/><circle cx="35.9" cy="13.8" r="0.48" fill="#3a9f98"/><circle cx="25.5" cy="10.9" r="0.54" fill="#8f8381"/><circle cx="33.8" cy="7.3" r="0.54" fill="#c98f88"/><circle cx="2.0" cy="7.1" r="0.62" fill="#cf786f"/><circle cx="33.8" cy="19.0" r="0.49" fill="#8f8381"/><circle cx="28.3" cy="26.0" r="0.69" fill="#3a9f98"/><circle cx="35.9" cy="9.4" r="0.59" fill="#cf786f"/><circle cx="36.5" cy="14.5" r="0.53" fill="#c98f88"/><circle cx="40.0" cy="9.3" r="0.64" fill="#cf786f"/><circle cx="39.5" cy="16.0" r="0.58" fill="#5aa29c"/><circle cx="18.0" cy="33.9" r="0.57" fill="#5aa29c"/><circle cx="7.1" cy="25.0" r="0.51" fill="#c98f88"/><circle cx="9.3" cy="0.8" r="0.65" fill="#cf786f"/><circle cx="34.7" cy="32.9" r="0.52" fill="#cf786f"/><circle cx="7.2" cy="35.2" r="0.53" fill="#cf786f"/><circle cx="32.3" cy="1.0" r="0.42" fill="#8f8381"/><circle cx="24.0" cy="19.6" r="0.69" fill="#c98f88"/><circle cx="33.5" cy="5.4" r="0.69" fill="#3a9f98"/><circle cx="32.3" cy="36.1" r="0.62" fill="#8f8381"/><circle cx="7.4" cy="11.2" r="0.57" fill="#cf786f"/><circle cx="33.8" cy="21.1" r="0.47" fill="#5aa29c"/><circle cx="36.4" cy="17.5" r="0.55" fill="#3a9f98"/><circle cx="17.3" cy="28.2" r="0.53" fill="#cf786f"/><circle cx="1.7" cy="11.5" r="0.56" fill="#3a9f98"/><circle cx="4.7" cy="21.6" r="0.50" fill="#c98f88"/><circle cx="2.7" cy="11.7" r="0.50" fill="#3a9f98"/><circle cx="7.9" cy="35.9" r="0.56" fill="#cf786f"/><circle cx="21.6" cy="25.7" r="0.54" fill="#5aa29c"/><circle cx="23.7" cy="7.9" r="0.59" fill="#3a9f98"/><circle cx="11.6" cy="19.7" r="0.54" fill="#c98f88"/><circle cx="12.2" cy="1.8" r="0.49" fill="#8f8381"/><circle cx="19.2" cy="29.2" r="0.56" fill="#cf786f"/><circle cx="5.3" cy="0.4" r="0.67" fill="#8f8381"/><circle cx="20.6" cy="1.0" r="0.53" fill="#cf786f"/><circle cx="4.4" cy="14.8" r="0.45" fill="#8f8381"/><circle cx="34.9" cy="35.7" r="0.54" fill="#cf786f"/><circle cx="32.5" cy="20.4" r="0.46" fill="#3a9f98"/><circle cx="2.5" cy="32.5" r="0.63" fill="#cf786f"/><circle cx="7.4" cy="33.5" r="0.62" fill="#8f8381"/><circle cx="3.4" cy="4.2" r="0.68" fill="#3a9f98"/><circle cx="37.8" cy="37.0" r="0.52" fill="#8f8381"/><circle cx="34.1" cy="6.9" r="0.61" fill="#5aa29c"/><circle cx="16.0" cy="14.7" r="0.51" fill="#5aa29c"/><circle cx="4.6" cy="31.8" r="0.60" fill="#3a9f98"/><circle cx="26.9" cy="0.2" r="0.55" fill="#5aa29c"/><circle cx="15.4" cy="13.7" r="0.64" fill="#8f8381"/><circle cx="37.1" cy="38.8" r="0.59" fill="#c98f88"/><circle cx="38.5" cy="9.7" r="0.51" fill="#cf786f"/><circle cx="21.3" cy="35.7" r="0.52" fill="#cf786f"/><circle cx="33.2" cy="1.8" r="0.43" fill="#5aa29c"/><circle cx="20.0" cy="31.2" r="0.66" fill="#cf786f"/><circle cx="21.9" cy="35.5" r="0.67" fill="#3a9f98"/><circle cx="2.2" cy="2.5" r="0.56" fill="#5aa29c"/><circle cx="24.5" cy="39.1" r="0.61" fill="#cf786f"/><circle cx="2.8" cy="16.5" r="0.51" fill="#8f8381"/><circle cx="21.4" cy="21.6" r="0.48" fill="#3a9f98"/><circle cx="14.0" cy="14.6" r="0.59" fill="#8f8381"/><circle cx="37.7" cy="10.9" r="0.48" fill="#5aa29c"/><circle cx="11.9" cy="22.2" r="0.51" fill="#3a9f98"/><circle cx="16.6" cy="2.4" r="0.45" fill="#8f8381"/><circle cx="1.8" cy="0.1" r="0.57" fill="#3a9f98"/><circle cx="19.3" cy="22.6" r="0.60" fill="#5aa29c"/><circle cx="31.2" cy="11.1" r="0.62" fill="#3a9f98"/><circle cx="29.6" cy="1.0" r="0.45" fill="#cf786f"/><circle cx="22.2" cy="13.1" r="0.42" fill="#cf786f"/><circle cx="32.5" cy="31.5" r="0.56" fill="#8f8381"/><circle cx="16.9" cy="3.9" r="0.57" fill="#c98f88"/><circle cx="18.4" cy="8.1" r="0.55" fill="#5aa29c"/><circle cx="7.9" cy="12.9" r="0.58" fill="#5aa29c"/><circle cx="17.6" cy="14.8" r="0.63" fill="#3a9f98"/><circle cx="37.2" cy="2.0" r="0.67" fill="#8f8381"/><circle cx="7.1" cy="25.5" r="0.51" fill="#cf786f"/><circle cx="0.9" cy="8.9" r="0.60" fill="#cf786f"/><circle cx="5.4" cy="15.5" r="0.53" fill="#cf786f"/><circle cx="26.8" cy="22.6" r="0.49" fill="#3a9f98"/><circle cx="15.2" cy="1.0" r="0.54" fill="#3a9f98"/><circle cx="12.3" cy="39.5" r="0.53" fill="#cf786f"/><circle cx="37.6" cy="20.8" r="0.50" fill="#8f8381"/><circle cx="1.7" cy="37.9" r="0.54" fill="#3a9f98"/><circle cx="34.6" cy="0.7" r="0.55" fill="#8f8381"/><circle cx="6.5" cy="28.2" r="0.69" fill="#c98f88"/><circle cx="33.5" cy="10.8" r="0.48" fill="#5aa29c"/><circle cx="26.6" cy="35.5" r="0.61" fill="#5aa29c"/><circle cx="16.2" cy="34.8" r="0.49" fill="#c98f88"/><circle cx="32.0" cy="6.2" r="0.55" fill="#5aa29c"/><circle cx="10.5" cy="18.0" r="0.57" fill="#5aa29c"/><circle cx="3.5" cy="29.4" r="0.62" fill="#5aa29c"/><circle cx="38.7" cy="25.5" r="0.59" fill="#3a9f98"/><circle cx="29.0" cy="6.0" r="0.43" fill="#3a9f98"/><circle cx="31.9" cy="21.9" r="0.54" fill="#8f8381"/><circle cx="13.8" cy="26.5" r="0.42" fill="#8f8381"/><circle cx="28.4" cy="9.8" r="0.42" fill="#cf786f"/><circle cx="34.2" cy="6.8" r="0.49" fill="#3a9f98"/><circle cx="17.0" cy="9.5" r="0.46" fill="#3a9f98"/><circle cx="14.4" cy="19.4" r="0.49" fill="#3a9f98"/><circle cx="21.1" cy="28.3" r="0.68" fill="#cf786f"/><circle cx="11.6" cy="29.1" r="0.69" fill="#3a9f98"/><circle cx="10.0" cy="19.5" r="0.66" fill="#c98f88"/><circle cx="0.6" cy="16.0" r="0.52" fill="#5aa29c"/><circle cx="39.3" cy="35.7" r="0.42" fill="#c98f88"/><circle cx="25.9" cy="9.3" r="0.55" fill="#cf786f"/><circle cx="26.5" cy="34.5" r="0.52" fill="#3a9f98"/><circle cx="35.6" cy="13.2" r="0.47" fill="#5aa29c"/><circle cx="26.6" cy="26.0" r="0.60" fill="#cf786f"/><circle cx="4.9" cy="38.2" r="0.61" fill="#cf786f"/><circle cx="9.5" cy="22.7" r="0.61" fill="#3a9f98"/><circle cx="30.9" cy="6.8" r="0.51" fill="#3a9f98"/><circle cx="20.8" cy="34.5" r="0.53" fill="#cf786f"/><circle cx="26.6" cy="39.1" r="0.57" fill="#3a9f98"/><circle cx="10.4" cy="20.8" r="0.66" fill="#cf786f"/><circle cx="7.6" cy="34.0" r="0.43" fill="#3a9f98"/><circle cx="25.4" cy="25.2" r="0.68" fill="#c98f88"/><circle cx="1.0" cy="26.7" r="0.44" fill="#cf786f"/><circle cx="8.7" cy="32.1" r="0.42" fill="#8f8381"/><circle cx="22.2" cy="1.3" r="0.58" fill="#cf786f"/><circle cx="9.8" cy="8.7" r="0.61" fill="#cf786f"/><circle cx="34.7" cy="2.4" r="0.56" fill="#3a9f98"/><circle cx="25.7" cy="5.9" r="0.48" fill="#3a9f98"/><circle cx="1.2" cy="0.4" r="0.50" fill="#3a9f98"/><circle cx="26.6" cy="26.8" r="0.58" fill="#8f8381"/><circle cx="24.4" cy="23.6" r="0.62" fill="#c98f88"/><circle cx="22.4" cy="27.8" r="0.58" fill="#cf786f"/><circle cx="22.2" cy="31.7" r="0.64" fill="#cf786f"/><circle cx="29.7" cy="20.1" r="0.69" fill="#3a9f98"/><circle cx="25.1" cy="23.9" r="0.65" fill="#c98f88"/><circle cx="30.8" cy="17.8" r="0.54" fill="#5aa29c"/><circle cx="34.9" cy="39.7" r="0.49" fill="#cf786f"/><circle cx="22.5" cy="22.1" r="0.48" fill="#cf786f"/><circle cx="17.8" cy="0.8" r="0.61" fill="#5aa29c"/><circle cx="8.8" cy="8.1" r="0.65" fill="#5aa29c"/><circle cx="14.6" cy="11.3" r="0.69" fill="#8f8381"/><circle cx="29.9" cy="25.7" r="0.62" fill="#8f8381"/><circle cx="22.3" cy="11.9" r="0.58" fill="#cf786f"/><circle cx="6.7" cy="15.3" r="0.70" fill="#cf786f"/><circle cx="32.7" cy="33.7" r="0.46" fill="#cf786f"/><circle cx="32.9" cy="8.0" r="0.68" fill="#c98f88"/><circle cx="37.7" cy="2.7" r="0.68" fill="#3a9f98"/><circle cx="33.1" cy="32.5" r="0.62" fill="#3a9f98"/><circle cx="31.6" cy="33.2" r="0.53" fill="#3a9f98"/><circle cx="31.2" cy="32.7" r="0.67" fill="#cf786f"/><circle cx="13.9" cy="9.6" r="0.47" fill="#8f8381"/><circle cx="5.2" cy="37.9" r="0.58" fill="#8f8381"/><circle cx="39.8" cy="37.6" r="0.51" fill="#3a9f98"/><circle cx="0.6" cy="21.5" r="0.61" fill="#c98f88"/><circle cx="38.9" cy="25.9" r="0.46" fill="#c98f88"/><circle cx="24.9" cy="24.7" r="0.58" fill="#5aa29c"/><circle cx="3.6" cy="2.1" r="0.43" fill="#5aa29c"/><circle cx="23.3" cy="36.4" r="0.64" fill="#cf786f"/><circle cx="23.7" cy="3.8" r="0.48" fill="#5aa29c"/><circle cx="22.5" cy="25.0" r="0.53" fill="#c98f88"/><circle cx="39.3" cy="37.4" r="0.67" fill="#5aa29c"/><circle cx="7.5" cy="18.9" r="0.47" fill="#3a9f98"/><circle cx="21.3" cy="33.5" r="0.43" fill="#5aa29c"/><circle cx="33.9" cy="17.0" r="0.69" fill="#cf786f"/><circle cx="19.5" cy="30.9" r="0.70" fill="#c98f88"/><circle cx="27.8" cy="34.4" r="0.63" fill="#8f8381"/><circle cx="21.7" cy="19.8" r="0.59" fill="#3a9f98"/><circle cx="28.1" cy="39.2" r="0.45" fill="#cf786f"/><circle cx="39.0" cy="37.1" r="0.64" fill="#cf786f"/><circle cx="35.4" cy="29.4" r="0.64" fill="#c98f88"/><circle cx="36.4" cy="7.9" r="0.42" fill="#c98f88"/><circle cx="7.4" cy="18.7" r="0.65" fill="#cf786f"/><circle cx="15.4" cy="15.4" r="0.60" fill="#5aa29c"/><circle cx="30.9" cy="20.5" r="0.60" fill="#5aa29c"/><circle cx="18.0" cy="39.4" r="0.56" fill="#cf786f"/><circle cx="38.7" cy="1.1" r="0.64" fill="#cf786f"/><circle cx="15.4" cy="32.7" r="0.50" fill="#3a9f98"/><circle cx="23.1" cy="27.7" r="0.52" fill="#8f8381"/><circle cx="18.7" cy="15.5" r="0.68" fill="#8f8381"/><circle cx="37.7" cy="25.5" r="0.57" fill="#c98f88"/><circle cx="25.5" cy="26.6" r="0.57" fill="#8f8381"/><circle cx="21.6" cy="12.9" r="0.44" fill="#5aa29c"/><circle cx="3.2" cy="14.9" r="0.66" fill="#cf786f"/><circle cx="20.4" cy="34.2" r="0.50" fill="#3a9f98"/><circle cx="2.4" cy="18.5" r="0.55" fill="#8f8381"/><circle cx="32.8" cy="7.4" r="0.70" fill="#cf786f"/><circle cx="7.5" cy="34.4" r="0.57" fill="#cf786f"/><circle cx="8.1" cy="39.7" r="0.69" fill="#cf786f"/><circle cx="39.9" cy="12.4" r="0.69" fill="#3a9f98"/><circle cx="24.1" cy="8.2" r="0.50" fill="#5aa29c"/><circle cx="5.9" cy="9.9" r="0.54" fill="#cf786f"/><circle cx="31.8" cy="18.2" r="0.50" fill="#3a9f98"/><circle cx="10.5" cy="33.0" r="0.49" fill="#3a9f98"/><circle cx="14.7" cy="2.5" r="0.65" fill="#3a9f98"/><circle cx="4.8" cy="33.3" r="0.69" fill="#cf786f"/><circle cx="36.7" cy="18.7" r="0.58" fill="#cf786f"/><circle cx="32.7" cy="15.1" r="0.44" fill="#8f8381"/><circle cx="33.6" cy="6.4" r="0.56" fill="#cf786f"/><circle cx="33.3" cy="34.4" r="0.46" fill="#5aa29c"/><circle cx="10.2" cy="0.6" r="0.45" fill="#c98f88"/><circle cx="16.7" cy="4.0" r="0.48" fill="#c98f88"/><circle cx="10.2" cy="7.5" r="0.53" fill="#c98f88"/><circle cx="24.5" cy="10.8" r="0.43" fill="#cf786f"/><circle cx="37.3" cy="13.0" r="0.47" fill="#cf786f"/><circle cx="14.8" cy="23.1" r="0.62" fill="#8f8381"/><circle cx="33.7" cy="11.7" r="0.59" fill="#8f8381"/><circle cx="12.7" cy="20.6" r="0.46" fill="#3a9f98"/><circle cx="32.6" cy="7.7" r="0.44" fill="#8f8381"/><circle cx="18.9" cy="12.5" r="0.67" fill="#5aa29c"/><circle cx="22.8" cy="21.5" r="0.59" fill="#cf786f"/><circle cx="11.2" cy="0.2" r="0.56" fill="#c98f88"/><circle cx="18.7" cy="30.4" r="0.59" fill="#cf786f"/><circle cx="6.9" cy="23.2" r="0.60" fill="#cf786f"/><circle cx="27.3" cy="11.6" r="0.47" fill="#cf786f"/><circle cx="33.9" cy="23.3" r="0.55" fill="#8f8381"/><circle cx="34.6" cy="33.1" r="0.49" fill="#c98f88"/><circle cx="39.6" cy="13.6" r="0.54" fill="#8f8381"/><circle cx="13.6" cy="23.8" r="0.48" fill="#3a9f98"/><circle cx="34.8" cy="4.2" r="0.66" fill="#c98f88"/><circle cx="28.6" cy="24.9" r="0.62" fill="#cf786f"/><circle cx="22.7" cy="2.5" r="0.63" fill="#c98f88"/><circle cx="1.1" cy="23.0" r="0.56" fill="#c98f88"/><circle cx="26.7" cy="27.9" r="0.44" fill="#8f8381"/><circle cx="34.3" cy="37.5" r="0.59" fill="#cf786f"/><circle cx="35.6" cy="8.9" r="0.53" fill="#cf786f"/><circle cx="7.7" cy="34.4" r="0.54" fill="#cf786f"/><circle cx="21.6" cy="21.8" r="0.61" fill="#8f8381"/><circle cx="0.2" cy="12.1" r="0.55" fill="#3a9f98"/><circle cx="25.6" cy="25.3" r="0.60" fill="#cf786f"/><circle cx="35.5" cy="17.0" r="0.62" fill="#c98f88"/><circle cx="23.8" cy="29.6" r="0.48" fill="#3a9f98"/><circle cx="5.9" cy="3.6" r="0.65" fill="#3a9f98"/><circle cx="9.3" cy="25.4" r="0.50" fill="#cf786f"/><circle cx="30.0" cy="15.6" r="0.70" fill="#3a9f98"/><circle cx="31.3" cy="24.0" r="0.55" fill="#cf786f"/><circle cx="33.2" cy="9.6" r="0.49" fill="#cf786f"/><circle cx="31.2" cy="13.3" r="0.49" fill="#c98f88"/><circle cx="13.3" cy="29.7" r="0.48" fill="#c98f88"/><circle cx="21.6" cy="30.7" r="0.51" fill="#3a9f98"/><circle cx="31.3" cy="31.6" r="0.64" fill="#8f8381"/><circle cx="29.8" cy="25.3" r="0.52" fill="#3a9f98"/><circle cx="18.8" cy="14.1" r="0.47" fill="#c98f88"/><circle cx="25.3" cy="35.9" r="0.70" fill="#3a9f98"/><circle cx="10.5" cy="16.9" r="0.57" fill="#3a9f98"/><circle cx="27.5" cy="19.9" r="0.47" fill="#3a9f98"/><circle cx="15.0" cy="35.2" r="0.67" fill="#8f8381"/><circle cx="26.6" cy="0.5" r="0.45" fill="#c98f88"/><circle cx="23.6" cy="38.2" r="0.51" fill="#cf786f"/><circle cx="13.4" cy="32.1" r="0.64" fill="#5aa29c"/><circle cx="23.7" cy="23.9" r="0.67" fill="#8f8381"/><circle cx="5.3" cy="6.5" r="0.43" fill="#8f8381"/><circle cx="38.8" cy="25.9" r="0.56" fill="#cf786f"/><circle cx="0.7" cy="21.6" r="0.57" fill="#3a9f98"/><circle cx="8.5" cy="15.7" r="0.48" fill="#3a9f98"/><circle cx="21.7" cy="21.5" r="0.50" fill="#5aa29c"/><circle cx="28.8" cy="4.1" r="0.66" fill="#3a9f98"/><circle cx="24.9" cy="15.0" r="0.63" fill="#c98f88"/><circle cx="14.7" cy="0.0" r="0.47" fill="#3a9f98"/><circle cx="19.8" cy="17.4" r="0.59" fill="#cf786f"/><circle cx="1.1" cy="28.3" r="0.59" fill="#8f8381"/><circle cx="12.8" cy="34.5" r="0.50" fill="#3a9f98"/><circle cx="7.2" cy="1.7" r="0.59" fill="#3a9f98"/><circle cx="37.8" cy="8.1" r="0.45" fill="#cf786f"/><circle cx="21.6" cy="18.7" r="0.64" fill="#cf786f"/><circle cx="6.4" cy="10.9" r="0.65" fill="#3a9f98"/><circle cx="10.2" cy="14.2" r="0.55" fill="#cf786f"/><circle cx="36.7" cy="34.0" r="0.67" fill="#c98f88"/><circle cx="10.9" cy="19.1" r="0.51" fill="#5aa29c"/><circle cx="4.7" cy="22.0" r="0.66" fill="#3a9f98"/><circle cx="31.5" cy="0.1" r="0.56" fill="#cf786f"/><circle cx="22.5" cy="30.7" r="0.56" fill="#cf786f"/><circle cx="35.9" cy="0.8" r="0.66" fill="#8f8381"/><circle cx="31.8" cy="32.1" r="0.64" fill="#cf786f"/><circle cx="0.4" cy="4.8" r="0.67" fill="#3a9f98"/><circle cx="35.7" cy="17.6" r="0.44" fill="#cf786f"/><circle cx="5.4" cy="26.4" r="0.57" fill="#cf786f"/><circle cx="1.5" cy="36.3" r="0.44" fill="#cf786f"/><circle cx="36.1" cy="6.4" r="0.46" fill="#3a9f98"/><circle cx="38.5" cy="17.9" r="0.65" fill="#3a9f98"/><circle cx="9.6" cy="29.5" r="0.47" fill="#cf786f"/><circle cx="22.7" cy="23.6" r="0.69" fill="#8f8381"/><circle cx="15.2" cy="9.5" r="0.49" fill="#cf786f"/><circle cx="6.6" cy="14.0" r="0.69" fill="#3a9f98"/><circle cx="25.1" cy="25.8" r="0.54" fill="#5aa29c"/><circle cx="36.3" cy="13.1" r="0.63" fill="#3a9f98"/><circle cx="14.6" cy="8.6" r="0.68" fill="#c98f88"/><circle cx="14.9" cy="19.0" r="0.55" fill="#8f8381"/><circle cx="1.4" cy="36.1" r="0.49" fill="#c98f88"/><circle cx="18.0" cy="17.3" r="0.44" fill="#3a9f98"/><circle cx="24.3" cy="4.8" r="0.48" fill="#cf786f"/><circle cx="13.4" cy="12.1" r="0.52" fill="#c98f88"/><circle cx="5.9" cy="14.1" r="0.44" fill="#c98f88"/><circle cx="18.4" cy="33.5" r="0.49" fill="#cf786f"/><circle cx="2.4" cy="36.0" r="0.65" fill="#cf786f"/><circle cx="22.1" cy="12.9" r="0.46" fill="#cf786f"/><circle cx="33.6" cy="37.1" r="0.64" fill="#8f8381"/><circle cx="33.5" cy="6.8" r="0.42" fill="#c98f88"/><circle cx="5.7" cy="30.3" r="0.45" fill="#3a9f98"/><circle cx="16.5" cy="23.3" r="0.42" fill="#c98f88"/><circle cx="11.7" cy="7.5" r="0.64" fill="#c98f88"/><circle cx="33.6" cy="7.9" r="0.46" fill="#c98f88"/><circle cx="5.3" cy="27.9" r="0.48" fill="#3a9f98"/><circle cx="5.3" cy="0.4" r="0.45" fill="#cf786f"/><circle cx="20.1" cy="28.9" r="0.51" fill="#c98f88"/><circle cx="15.9" cy="21.9" r="0.46" fill="#cf786f"/><circle cx="6.2" cy="10.6" r="0.46" fill="#cf786f"/><circle cx="39.0" cy="38.9" r="0.55" fill="#3a9f98"/><circle cx="39.3" cy="33.1" r="0.54" fill="#cf786f"/><circle cx="36.8" cy="38.3" r="0.50" fill="#8f8381"/><circle cx="23.7" cy="38.2" r="0.66" fill="#8f8381"/><circle cx="30.1" cy="17.7" r="0.63" fill="#cf786f"/><circle cx="26.3" cy="8.2" r="0.69" fill="#3a9f98"/><circle cx="23.0" cy="22.7" r="0.47" fill="#cf786f"/><circle cx="28.1" cy="29.3" r="0.64" fill="#cf786f"/><circle cx="8.4" cy="21.9" r="0.48" fill="#3a9f98"/><circle cx="24.6" cy="14.5" r="0.52" fill="#3a9f98"/><circle cx="8.5" cy="5.0" r="0.57" fill="#3a9f98"/><circle cx="9.7" cy="33.0" r="0.67" fill="#3a9f98"/><circle cx="30.7" cy="11.3" r="0.44" fill="#3a9f98"/><circle cx="39.1" cy="1.8" r="0.51" fill="#c98f88"/><circle cx="6.2" cy="12.1" r="0.56" fill="#cf786f"/><circle cx="18.0" cy="6.6" r="0.51" fill="#cf786f"/><circle cx="30.0" cy="14.8" r="0.70" fill="#8f8381"/><circle cx="5.8" cy="39.9" r="0.58" fill="#cf786f"/><circle cx="3.8" cy="18.9" r="0.57" fill="#c98f88"/><circle cx="13.9" cy="39.0" r="0.59" fill="#cf786f"/><circle cx="14.4" cy="29.0" r="0.67" fill="#cf786f"/><circle cx="35.3" cy="39.0" r="0.69" fill="#8f8381"/><circle cx="32.8" cy="4.7" r="0.43" fill="#3a9f98"/><circle cx="8.4" cy="7.7" r="0.68" fill="#cf786f"/><circle cx="25.6" cy="5.8" r="0.44" fill="#cf786f"/><circle cx="15.3" cy="38.4" r="0.42" fill="#cf786f"/><circle cx="28.4" cy="27.1" r="0.70" fill="#5aa29c"/><circle cx="28.8" cy="17.1" r="0.46" fill="#3a9f98"/><circle cx="8.3" cy="28.2" r="0.68" fill="#3a9f98"/><circle cx="5.8" cy="16.4" r="0.50" fill="#3a9f98"/><circle cx="5.5" cy="20.8" r="0.69" fill="#8f8381"/><circle cx="12.7" cy="36.1" r="0.62" fill="#3a9f98"/><circle cx="19.4" cy="28.4" r="0.63" fill="#5aa29c"/><circle cx="23.1" cy="28.2" r="0.45" fill="#c98f88"/><circle cx="5.3" cy="8.3" r="0.56" fill="#3a9f98"/><circle cx="0.6" cy="38.8" r="0.60" fill="#3a9f98"/><circle cx="22.4" cy="33.1" r="0.58" fill="#8f8381"/><circle cx="31.5" cy="34.3" r="0.70" fill="#5aa29c"/><circle cx="19.7" cy="15.6" r="0.64" fill="#cf786f"/><circle cx="1.3" cy="35.6" r="0.69" fill="#c98f88"/><circle cx="19.4" cy="29.4" r="0.67" fill="#c98f88"/><circle cx="12.9" cy="31.6" r="0.68" fill="#cf786f"/><circle cx="33.1" cy="33.3" r="0.54" fill="#cf786f"/><circle cx="5.9" cy="14.0" r="0.63" fill="#3a9f98"/><circle cx="27.6" cy="35.4" r="0.66" fill="#8f8381"/><circle cx="10.5" cy="6.3" r="0.48" fill="#cf786f"/><circle cx="30.0" cy="6.9" r="0.52" fill="#3a9f98"/><circle cx="7.1" cy="16.1" r="0.44" fill="#cf786f"/><circle cx="25.4" cy="16.9" r="0.63" fill="#3a9f98"/><circle cx="18.8" cy="5.5" r="0.61" fill="#8f8381"/><circle cx="28.2" cy="3.4" r="0.47" fill="#3a9f98"/><circle cx="0.8" cy="26.7" r="0.57" fill="#5aa29c"/><circle cx="30.8" cy="33.4" r="0.54" fill="#3a9f98"/><circle cx="27.5" cy="31.6" r="0.68" fill="#5aa29c"/><circle cx="28.2" cy="17.5" r="0.66" fill="#8f8381"/><circle cx="38.3" cy="29.7" r="0.65" fill="#8f8381"/><circle cx="36.7" cy="1.9" r="0.53" fill="#3a9f98"/><circle cx="22.1" cy="35.4" r="0.44" fill="#c98f88"/><circle cx="5.3" cy="11.1" r="0.51" fill="#cf786f"/><circle cx="9.1" cy="27.6" r="0.68" fill="#5aa29c"/><circle cx="27.4" cy="37.2" r="0.59" fill="#8f8381"/><circle cx="10.3" cy="16.7" r="0.48" fill="#cf786f"/><circle cx="7.1" cy="23.4" r="0.64" fill="#cf786f"/><circle cx="36.3" cy="24.2" r="0.48" fill="#8f8381"/><circle cx="33.3" cy="38.7" r="0.57" fill="#cf786f"/><circle cx="15.0" cy="12.9" r="0.67" fill="#3a9f98"/><circle cx="6.9" cy="2.1" r="0.62" fill="#3a9f98"/><circle cx="4.7" cy="34.2" r="0.48" fill="#3a9f98"/><circle cx="11.2" cy="37.6" r="0.55" fill="#3a9f98"/><circle cx="31.4" cy="22.4" r="0.45" fill="#5aa29c"/><circle cx="33.3" cy="37.1" r="0.68" fill="#cf786f"/><circle cx="2.1" cy="36.6" r="0.56" fill="#cf786f"/><circle cx="29.1" cy="26.3" r="0.48" fill="#5aa29c"/><circle cx="31.8" cy="9.6" r="0.57" fill="#3a9f98"/><circle cx="3.6" cy="24.8" r="0.45" fill="#cf786f"/><circle cx="0.3" cy="24.7" r="0.59" fill="#8f8381"/><circle cx="1.1" cy="12.4" r="0.45" fill="#3a9f98"/><circle cx="32.2" cy="6.1" r="0.55" fill="#5aa29c"/><circle cx="0.0" cy="23.2" r="0.59" fill="#cf786f"/><circle cx="8.4" cy="2.5" r="0.46" fill="#8f8381"/><circle cx="39.8" cy="30.7" r="0.42" fill="#cf786f"/><circle cx="17.6" cy="15.2" r="0.64" fill="#5aa29c"/><circle cx="17.8" cy="36.6" r="0.61" fill="#c98f88"/><circle cx="14.7" cy="18.9" r="0.45" fill="#cf786f"/><circle cx="25.3" cy="15.5" r="0.55" fill="#cf786f"/><circle cx="5.3" cy="28.1" r="0.47" fill="#c98f88"/><circle cx="14.0" cy="5.2" r="0.59" fill="#8f8381"/><circle cx="23.9" cy="5.1" r="0.43" fill="#8f8381"/><circle cx="30.5" cy="24.0" r="0.68" fill="#8f8381"/><circle cx="38.2" cy="13.1" r="0.57" fill="#3a9f98"/><circle cx="14.6" cy="10.6" r="0.50" fill="#3a9f98"/><circle cx="39.3" cy="27.2" r="0.52" fill="#8f8381"/><circle cx="32.1" cy="29.0" r="0.68" fill="#5aa29c"/><circle cx="4.4" cy="26.3" r="0.68" fill="#cf786f"/><circle cx="14.6" cy="34.8" r="0.47" fill="#3a9f98"/><circle cx="37.9" cy="35.2" r="0.46" fill="#cf786f"/><circle cx="8.2" cy="26.3" r="0.45" fill="#3a9f98"/><circle cx="22.8" cy="14.4" r="0.54" fill="#5aa29c"/><circle cx="7.5" cy="39.3" r="0.53" fill="#8f8381"/><circle cx="28.5" cy="31.5" r="0.60" fill="#cf786f"/><circle cx="8.8" cy="12.0" r="0.66" fill="#3a9f98"/><circle cx="35.8" cy="23.5" r="0.59" fill="#3a9f98"/><circle cx="24.7" cy="30.6" r="0.59" fill="#cf786f"/><circle cx="25.7" cy="21.2" r="0.49" fill="#cf786f"/><circle cx="3.0" cy="16.8" r="0.68" fill="#8f8381"/><circle cx="27.8" cy="33.9" r="0.47" fill="#cf786f"/><circle cx="29.9" cy="27.3" r="0.59" fill="#cf786f"/><circle cx="14.7" cy="11.4" r="0.59" fill="#cf786f"/><circle cx="28.3" cy="34.3" r="0.65" fill="#cf786f"/><circle cx="6.1" cy="23.0" r="0.48" fill="#3a9f98"/><circle cx="31.5" cy="32.2" r="0.47" fill="#cf786f"/><circle cx="22.8" cy="6.5" r="0.59" fill="#c98f88"/><circle cx="22.4" cy="21.9" r="0.63" fill="#3a9f98"/><circle cx="23.0" cy="38.8" r="0.60" fill="#5aa29c"/><circle cx="19.8" cy="22.5" r="0.48" fill="#3a9f98"/><circle cx="24.5" cy="1.4" r="0.53" fill="#cf786f"/><circle cx="10.5" cy="7.8" r="0.54" fill="#cf786f"/><circle cx="9.8" cy="26.9" r="0.50" fill="#c98f88"/><circle cx="16.2" cy="34.4" r="0.62" fill="#cf786f"/><circle cx="0.7" cy="23.4" r="0.52" fill="#cf786f"/><circle cx="26.2" cy="6.7" r="0.50" fill="#c98f88"/><circle cx="33.2" cy="39.1" r="0.70" fill="#c98f88"/><circle cx="26.2" cy="12.7" r="0.63" fill="#c98f88"/><circle cx="22.3" cy="24.9" r="0.59" fill="#cf786f"/><circle cx="26.6" cy="19.5" r="0.45" fill="#3a9f98"/><circle cx="1.2" cy="24.4" r="0.57" fill="#cf786f"/><circle cx="9.7" cy="8.0" r="0.63" fill="#8f8381"/><circle cx="13.5" cy="33.5" r="0.49" fill="#3a9f98"/><circle cx="4.7" cy="6.9" r="0.52" fill="#cf786f"/><circle cx="12.4" cy="31.9" r="0.56" fill="#3a9f98"/><circle cx="3.7" cy="35.4" r="0.45" fill="#c98f88"/><circle cx="27.4" cy="27.0" r="0.53" fill="#8f8381"/><circle cx="25.1" cy="2.9" r="0.61" fill="#8f8381"/><circle cx="15.6" cy="1.3" r="0.52" fill="#3a9f98"/><circle cx="2.6" cy="36.5" r="0.67" fill="#c98f88"/><circle cx="9.4" cy="37.6" r="0.56" fill="#5aa29c"/><circle cx="17.3" cy="36.7" r="0.61" fill="#cf786f"/><circle cx="26.1" cy="25.2" r="0.54" fill="#cf786f"/><circle cx="25.9" cy="34.9" r="0.54" fill="#c98f88"/><circle cx="18.0" cy="22.2" r="0.44" fill="#3a9f98"/><circle cx="5.9" cy="7.5" r="0.58" fill="#cf786f"/><circle cx="15.5" cy="33.3" r="0.47" fill="#8f8381"/><circle cx="39.9" cy="16.3" r="0.48" fill="#cf786f"/><circle cx="16.9" cy="24.8" r="0.69" fill="#3a9f98"/><circle cx="21.0" cy="14.6" r="0.61" fill="#3a9f98"/><circle cx="9.8" cy="25.3" r="0.68" fill="#cf786f"/><circle cx="25.7" cy="24.1" r="0.47" fill="#3a9f98"/><circle cx="15.1" cy="5.2" r="0.66" fill="#3a9f98"/><circle cx="20.0" cy="3.2" r="0.69" fill="#3a9f98"/><circle cx="16.0" cy="5.4" r="0.61" fill="#8f8381"/><circle cx="14.7" cy="18.0" r="0.66" fill="#3a9f98"/><circle cx="27.1" cy="14.4" r="0.69" fill="#3a9f98"/><circle cx="0.1" cy="2.5" r="0.67" fill="#c98f88"/><circle cx="15.8" cy="26.9" r="0.48" fill="#5aa29c"/><circle cx="37.5" cy="2.1" r="0.54" fill="#cf786f"/><circle cx="16.1" cy="0.7" r="0.69" fill="#3a9f98"/><circle cx="38.7" cy="24.3" r="0.68" fill="#8f8381"/><circle cx="29.5" cy="22.4" r="0.54" fill="#c98f88"/><circle cx="36.4" cy="32.1" r="0.45" fill="#5aa29c"/><circle cx="26.0" cy="24.3" r="0.49" fill="#5aa29c"/><circle cx="23.3" cy="4.4" r="0.54" fill="#cf786f"/><circle cx="20.1" cy="4.9" r="0.60" fill="#cf786f"/><circle cx="4.4" cy="21.1" r="0.44" fill="#5aa29c"/><circle cx="23.8" cy="24.2" r="0.65" fill="#c98f88"/><circle cx="31.3" cy="37.7" r="0.63" fill="#3a9f98"/><circle cx="32.3" cy="16.5" r="0.62" fill="#cf786f"/><circle cx="14.2" cy="19.2" r="0.47" fill="#3a9f98"/><circle cx="10.4" cy="23.0" r="0.70" fill="#3a9f98"/><circle cx="17.4" cy="5.0" r="0.57" fill="#3a9f98"/><circle cx="7.3" cy="3.6" r="0.61" fill="#c98f88"/><circle cx="23.9" cy="0.1" r="0.51" fill="#c98f88"/><circle cx="30.4" cy="24.4" r="0.45" fill="#cf786f"/><circle cx="37.0" cy="30.1" r="0.54" fill="#3a9f98"/><circle cx="9.7" cy="22.2" r="0.64" fill="#c98f88"/><circle cx="31.9" cy="31.4" r="0.60" fill="#c98f88"/><circle cx="11.3" cy="36.6" r="0.58" fill="#cf786f"/><circle cx="25.7" cy="11.9" r="0.54" fill="#8f8381"/><circle cx="36.1" cy="15.5" r="0.49" fill="#3a9f98"/><circle cx="2.1" cy="24.1" r="0.59" fill="#5aa29c"/><circle cx="12.5" cy="38.1" r="0.64" fill="#3a9f98"/><circle cx="12.4" cy="35.5" r="0.60" fill="#cf786f"/><circle cx="24.8" cy="11.2" r="0.59" fill="#c98f88"/><circle cx="5.2" cy="6.3" r="0.45" fill="#cf786f"/><circle cx="22.9" cy="35.3" r="0.65" fill="#3a9f98"/><circle cx="22.7" cy="11.1" r="0.67" fill="#3a9f98"/><circle cx="4.8" cy="15.3" r="0.45" fill="#5aa29c"/><circle cx="38.4" cy="6.8" r="0.43" fill="#c98f88"/><circle cx="16.2" cy="0.7" r="0.61" fill="#c98f88"/><circle cx="26.2" cy="13.9" r="0.54" fill="#cf786f"/><circle cx="5.8" cy="37.1" r="0.48" fill="#5aa29c"/><circle cx="23.3" cy="30.3" r="0.56" fill="#5aa29c"/><circle cx="17.1" cy="16.1" r="0.46" fill="#c98f88"/><circle cx="13.7" cy="33.7" r="0.48" fill="#c98f88"/><circle cx="9.4" cy="10.3" r="0.45" fill="#5aa29c"/><circle cx="35.5" cy="11.1" r="0.70" fill="#cf786f"/><circle cx="2.7" cy="32.7" r="0.47" fill="#c98f88"/><circle cx="9.9" cy="20.5" r="0.54" fill="#3a9f98"/><circle cx="1.8" cy="25.1" r="0.60" fill="#8f8381"/><circle cx="39.2" cy="15.4" r="0.64" fill="#cf786f"/><circle cx="14.4" cy="7.7" r="0.48" fill="#c98f88"/><circle cx="21.9" cy="24.7" r="0.70" fill="#cf786f"/><circle cx="20.6" cy="33.1" r="0.57" fill="#3a9f98"/><circle cx="37.8" cy="34.4" r="0.48" fill="#3a9f98"/><circle cx="12.7" cy="5.0" r="0.55" fill="#c98f88"/><circle cx="13.1" cy="12.6" r="0.44" fill="#3a9f98"/><circle cx="2.3" cy="7.0" r="0.70" fill="#5aa29c"/><circle cx="20.5" cy="32.8" r="0.68" fill="#c98f88"/><circle cx="22.6" cy="9.4" r="0.62" fill="#3a9f98"/><circle cx="16.3" cy="18.2" r="0.49" fill="#3a9f98"/><circle cx="35.4" cy="35.3" r="0.49" fill="#8f8381"/><circle cx="10.7" cy="8.2" r="0.44" fill="#cf786f"/><circle cx="37.0" cy="15.1" r="0.44" fill="#5aa29c"/><circle cx="7.8" cy="28.0" r="0.47" fill="#8f8381"/><circle cx="0.9" cy="37.1" r="0.53" fill="#3a9f98"/><circle cx="20.6" cy="25.2" r="0.48" fill="#cf786f"/><circle cx="20.8" cy="21.8" r="0.66" fill="#5aa29c"/><circle cx="36.7" cy="20.5" r="0.62" fill="#3a9f98"/><circle cx="8.5" cy="20.5" r="0.49" fill="#3a9f98"/><circle cx="8.4" cy="15.6" r="0.53" fill="#cf786f"/><circle cx="35.1" cy="34.1" r="0.62" fill="#3a9f98"/><circle cx="14.1" cy="33.5" r="0.65" fill="#3a9f98"/><circle cx="20.7" cy="2.3" r="0.59" fill="#3a9f98"/><circle cx="22.0" cy="34.8" r="0.48" fill="#c98f88"/><circle cx="38.4" cy="39.7" r="0.58" fill="#c98f88"/><circle cx="35.1" cy="15.2" r="0.42" fill="#8f8381"/><circle cx="29.5" cy="38.5" r="0.48" fill="#3a9f98"/><circle cx="16.7" cy="21.2" r="0.48" fill="#5aa29c"/><circle cx="36.3" cy="28.3" r="0.43" fill="#cf786f"/><circle cx="11.1" cy="5.5" r="0.62" fill="#3a9f98"/><circle cx="21.1" cy="28.0" r="0.50" fill="#3a9f98"/><circle cx="28.8" cy="35.0" r="0.47" fill="#cf786f"/><circle cx="9.9" cy="28.8" r="0.47" fill="#cf786f"/><circle cx="16.1" cy="10.0" r="0.43" fill="#c98f88"/><circle cx="14.5" cy="10.6" r="0.48" fill="#cf786f"/><circle cx="23.0" cy="24.3" r="0.60" fill="#c98f88"/><circle cx="26.0" cy="0.9" r="0.65" fill="#c98f88"/><circle cx="11.6" cy="7.6" r="0.64" fill="#8f8381"/><circle cx="35.0" cy="1.7" r="0.59" fill="#8f8381"/><circle cx="4.2" cy="24.6" r="0.47" fill="#c98f88"/><circle cx="18.6" cy="30.3" r="0.45" fill="#cf786f"/><circle cx="16.7" cy="2.8" r="0.63" fill="#cf786f"/><circle cx="15.7" cy="38.7" r="0.48" fill="#cf786f"/><circle cx="0.7" cy="32.5" r="0.45" fill="#cf786f"/><circle cx="3.9" cy="9.5" r="0.56" fill="#c98f88"/><circle cx="20.4" cy="31.6" r="0.56" fill="#5aa29c"/><circle cx="29.8" cy="23.5" r="0.64" fill="#c98f88"/><circle cx="13.0" cy="22.0" r="0.63" fill="#3a9f98"/><circle cx="33.9" cy="31.2" r="0.59" fill="#5aa29c"/><circle cx="32.7" cy="30.4" r="0.56" fill="#3a9f98"/><circle cx="9.0" cy="16.3" r="0.69" fill="#cf786f"/><circle cx="38.7" cy="7.6" r="0.63" fill="#c98f88"/><circle cx="34.9" cy="39.6" r="0.58" fill="#8f8381"/><circle cx="0.5" cy="4.8" r="0.69" fill="#cf786f"/><circle cx="5.0" cy="34.4" r="0.57" fill="#3a9f98"/><circle cx="27.6" cy="9.4" r="0.64" fill="#3a9f98"/><circle cx="34.6" cy="15.6" r="0.55" fill="#8f8381"/><circle cx="26.8" cy="28.9" r="0.62" fill="#cf786f"/><circle cx="14.3" cy="33.7" r="0.63" fill="#5aa29c"/><circle cx="28.9" cy="35.4" r="0.49" fill="#3a9f98"/><circle cx="26.6" cy="10.3" r="0.55" fill="#cf786f"/><circle cx="34.0" cy="27.6" r="0.57" fill="#cf786f"/><circle cx="28.4" cy="31.9" r="0.48" fill="#cf786f"/><circle cx="11.6" cy="32.9" r="0.58" fill="#8f8381"/><circle cx="32.1" cy="24.2" r="0.62" fill="#cf786f"/><circle cx="10.8" cy="10.8" r="0.56" fill="#cf786f"/><circle cx="39.5" cy="28.5" r="0.59" fill="#c98f88"/><circle cx="8.2" cy="0.0" r="0.60" fill="#3a9f98"/><circle cx="25.1" cy="37.8" r="0.45" fill="#8f8381"/><circle cx="7.8" cy="20.1" r="0.62" fill="#5aa29c"/><circle cx="29.0" cy="31.8" r="0.58" fill="#cf786f"/><circle cx="8.1" cy="15.4" r="0.58" fill="#5aa29c"/><circle cx="26.5" cy="6.6" r="0.55" fill="#5aa29c"/><circle cx="14.3" cy="34.6" r="0.59" fill="#cf786f"/><circle cx="23.2" cy="4.5" r="0.68" fill="#cf786f"/><circle cx="27.8" cy="35.2" r="0.53" fill="#3a9f98"/><circle cx="10.8" cy="8.7" r="0.67" fill="#c98f88"/><circle cx="30.7" cy="34.6" r="0.58" fill="#5aa29c"/><circle cx="15.0" cy="16.2" r="0.64" fill="#5aa29c"/><circle cx="2.5" cy="21.3" r="0.44" fill="#3a9f98"/><circle cx="14.9" cy="28.1" r="0.66" fill="#8f8381"/><circle cx="39.5" cy="25.3" r="0.59" fill="#3a9f98"/><circle cx="35.2" cy="1.1" r="0.69" fill="#8f8381"/><circle cx="15.1" cy="9.7" r="0.48" fill="#3a9f98"/><circle cx="19.9" cy="22.3" r="0.64" fill="#cf786f"/><circle cx="12.9" cy="28.3" r="0.52" fill="#c98f88"/><circle cx="5.4" cy="17.5" r="0.51" fill="#5aa29c"/><circle cx="29.4" cy="34.2" r="0.53" fill="#5aa29c"/><circle cx="5.0" cy="31.3" r="0.48" fill="#cf786f"/><circle cx="18.1" cy="14.4" r="0.65" fill="#cf786f"/><circle cx="28.5" cy="2.0" r="0.67" fill="#c98f88"/><circle cx="6.6" cy="6.9" r="0.65" fill="#3a9f98"/><circle cx="11.2" cy="0.6" r="0.46" fill="#cf786f"/><circle cx="8.4" cy="29.2" r="0.45" fill="#3a9f98"/><circle cx="33.1" cy="15.4" r="0.60" fill="#5aa29c"/><circle cx="20.5" cy="7.6" r="0.62" fill="#c98f88"/><circle cx="36.4" cy="35.7" r="0.60" fill="#5aa29c"/><circle cx="0.5" cy="34.0" r="0.69" fill="#8f8381"/><circle cx="28.9" cy="5.2" r="0.60" fill="#8f8381"/><circle cx="39.2" cy="35.2" r="0.52" fill="#cf786f"/><circle cx="5.9" cy="17.8" r="0.43" fill="#cf786f"/><circle cx="36.5" cy="23.1" r="0.64" fill="#3a9f98"/><circle cx="39.5" cy="31.4" r="0.70" fill="#5aa29c"/><circle cx="13.2" cy="7.2" r="0.62" fill="#5aa29c"/><circle cx="24.7" cy="29.2" r="0.43" fill="#5aa29c"/><circle cx="32.8" cy="0.1" r="0.66" fill="#8f8381"/><circle cx="9.4" cy="33.6" r="0.49" fill="#c98f88"/><circle cx="34.2" cy="4.4" r="0.70" fill="#c98f88"/><circle cx="7.8" cy="21.9" r="0.49" fill="#3a9f98"/><circle cx="8.2" cy="20.0" r="0.55" fill="#cf786f"/><circle cx="6.7" cy="31.2" r="0.58" fill="#cf786f"/><circle cx="20.6" cy="24.0" r="0.49" fill="#3a9f98"/><circle cx="35.4" cy="33.1" r="0.45" fill="#8f8381"/><circle cx="37.9" cy="13.2" r="0.66" fill="#3a9f98"/><circle cx="33.6" cy="37.5" r="0.53" fill="#5aa29c"/><circle cx="36.4" cy="14.6" r="0.51" fill="#cf786f"/><circle cx="33.6" cy="30.3" r="0.68" fill="#3a9f98"/><circle cx="34.9" cy="7.4" r="0.52" fill="#3a9f98"/><circle cx="29.2" cy="18.6" r="0.53" fill="#c98f88"/><circle cx="39.0" cy="19.6" r="0.56" fill="#cf786f"/><circle cx="0.5" cy="35.7" r="0.60" fill="#3a9f98"/><circle cx="26.3" cy="32.7" r="0.55" fill="#3a9f98"/><circle cx="12.8" cy="0.2" r="0.50" fill="#8f8381"/><circle cx="9.2" cy="2.6" r="0.49" fill="#c98f88"/><circle cx="36.8" cy="13.5" r="0.69" fill="#cf786f"/><circle cx="20.5" cy="11.4" r="0.60" fill="#c98f88"/><circle cx="33.9" cy="34.0" r="0.61" fill="#c98f88"/><circle cx="18.1" cy="19.5" r="0.47" fill="#cf786f"/><circle cx="2.5" cy="39.5" r="0.62" fill="#cf786f"/><circle cx="12.4" cy="33.0" r="0.56" fill="#cf786f"/><circle cx="3.9" cy="24.8" r="0.66" fill="#5aa29c"/><circle cx="8.7" cy="1.5" r="0.45" fill="#c98f88"/><circle cx="3.4" cy="35.7" r="0.49" fill="#cf786f"/><circle cx="38.3" cy="15.5" r="0.63" fill="#3a9f98"/><circle cx="6.7" cy="7.4" r="0.67" fill="#cf786f"/><circle cx="5.7" cy="17.0" r="0.43" fill="#c98f88"/><circle cx="24.6" cy="13.5" r="0.48" fill="#c98f88"/><circle cx="7.2" cy="2.9" r="0.69" fill="#3a9f98"/><circle cx="14.6" cy="18.7" r="0.66" fill="#3a9f98"/><circle cx="5.9" cy="13.9" r="0.65" fill="#5aa29c"/><circle cx="1.5" cy="4.3" r="0.55" fill="#3a9f98"/><circle cx="7.9" cy="38.3" r="0.63" fill="#8f8381"/><circle cx="11.7" cy="19.8" r="0.49" fill="#cf786f"/><circle cx="13.5" cy="18.2" r="0.69" fill="#8f8381"/><circle cx="19.6" cy="6.7" r="0.64" fill="#c98f88"/><circle cx="12.0" cy="20.0" r="0.57" fill="#cf786f"/><circle cx="29.6" cy="27.1" r="0.53" fill="#c98f88"/><circle cx="14.9" cy="32.1" r="0.68" fill="#5aa29c"/><circle cx="31.4" cy="13.3" r="0.63" fill="#3a9f98"/><circle cx="27.1" cy="10.2" r="0.65" fill="#c98f88"/><circle cx="18.6" cy="28.2" r="0.43" fill="#8f8381"/><circle cx="34.5" cy="36.5" r="0.65" fill="#c98f88"/><circle cx="7.9" cy="30.4" r="0.59" fill="#3a9f98"/><circle cx="39.2" cy="15.0" r="0.51" fill="#8f8381"/><circle cx="4.5" cy="9.7" r="0.60" fill="#cf786f"/><circle cx="1.3" cy="35.4" r="0.51" fill="#c98f88"/><circle cx="24.0" cy="10.2" r="0.64" fill="#c98f88"/><circle cx="31.6" cy="3.7" r="0.54" fill="#cf786f"/><circle cx="31.9" cy="16.2" r="0.47" fill="#8f8381"/><circle cx="34.7" cy="29.8" r="0.64" fill="#cf786f"/><circle cx="33.8" cy="39.6" r="0.55" fill="#3a9f98"/><circle cx="35.5" cy="0.3" r="0.66" fill="#cf786f"/><circle cx="27.9" cy="3.8" r="0.49" fill="#3a9f98"/><circle cx="38.4" cy="32.1" r="0.55" fill="#c98f88"/><circle cx="34.8" cy="31.8" r="0.43" fill="#cf786f"/><circle cx="26.1" cy="34.0" r="0.62" fill="#8f8381"/><circle cx="14.9" cy="26.3" r="0.50" fill="#c98f88"/><circle cx="28.9" cy="18.4" r="0.43" fill="#cf786f"/><circle cx="0.9" cy="18.3" r="0.49" fill="#5aa29c"/><circle cx="16.4" cy="5.7" r="0.50" fill="#3a9f98"/><circle cx="12.4" cy="2.2" r="0.42" fill="#5aa29c"/><circle cx="15.6" cy="32.4" r="0.42" fill="#5aa29c"/><circle cx="39.7" cy="38.1" r="0.64" fill="#c98f88"/><circle cx="12.4" cy="13.1" r="0.61" fill="#cf786f"/><circle cx="11.0" cy="8.7" r="0.62" fill="#8f8381"/><circle cx="29.2" cy="11.4" r="0.54" fill="#3a9f98"/><circle cx="13.6" cy="31.8" r="0.68" fill="#8f8381"/><circle cx="22.3" cy="39.3" r="0.70" fill="#3a9f98"/><circle cx="18.7" cy="1.1" r="0.63" fill="#3a9f98"/><circle cx="5.4" cy="16.9" r="0.59" fill="#8f8381"/><circle cx="29.4" cy="3.6" r="0.54" fill="#cf786f"/><circle cx="24.1" cy="35.7" r="0.44" fill="#8f8381"/><circle cx="22.8" cy="31.0" r="0.62" fill="#cf786f"/><circle cx="18.1" cy="4.7" r="0.61" fill="#cf786f"/><circle cx="12.5" cy="0.4" r="0.56" fill="#5aa29c"/><circle cx="7.5" cy="29.1" r="0.66" fill="#c98f88"/><circle cx="29.0" cy="15.1" r="0.50" fill="#cf786f"/><circle cx="21.4" cy="4.5" r="0.66" fill="#3a9f98"/><circle cx="31.0" cy="23.9" r="0.50" fill="#cf786f"/><circle cx="7.8" cy="39.3" r="0.44" fill="#cf786f"/><circle cx="16.7" cy="6.3" r="0.69" fill="#5aa29c"/><circle cx="2.7" cy="25.4" r="0.59" fill="#c98f88"/><circle cx="30.0" cy="7.5" r="0.61" fill="#3a9f98"/><circle cx="27.5" cy="39.5" r="0.47" fill="#5aa29c"/><circle cx="18.2" cy="20.3" r="0.70" fill="#8f8381"/><circle cx="20.5" cy="20.4" r="0.59" fill="#c98f88"/><circle cx="19.3" cy="39.0" r="0.62" fill="#c98f88"/><circle cx="9.8" cy="9.3" r="0.55" fill="#c98f88"/><circle cx="10.4" cy="30.3" r="0.68" fill="#3a9f98"/><circle cx="19.8" cy="29.9" r="0.43" fill="#5aa29c"/><circle cx="6.5" cy="10.1" r="0.68" fill="#5aa29c"/><circle cx="4.3" cy="20.5" r="0.69" fill="#3a9f98"/><circle cx="21.6" cy="26.0" r="0.44" fill="#c98f88"/><circle cx="25.6" cy="5.6" r="0.46" fill="#cf786f"/><circle cx="37.1" cy="39.2" r="0.68" fill="#8f8381"/><circle cx="18.0" cy="35.1" r="0.43" fill="#3a9f98"/><circle cx="3.1" cy="17.7" r="0.49" fill="#5aa29c"/><circle cx="4.9" cy="1.4" r="0.44" fill="#cf786f"/><circle cx="21.0" cy="16.9" r="0.66" fill="#3a9f98"/><circle cx="38.3" cy="30.6" r="0.61" fill="#cf786f"/><circle cx="19.7" cy="8.3" r="0.53" fill="#cf786f"/><circle cx="29.8" cy="6.1" r="0.63" fill="#cf786f"/><circle cx="8.3" cy="11.8" r="0.60" fill="#cf786f"/><circle cx="24.1" cy="11.6" r="0.53" fill="#cf786f"/><circle cx="32.9" cy="23.6" r="0.50" fill="#8f8381"/><circle cx="5.6" cy="26.1" r="0.66" fill="#cf786f"/><circle cx="1.5" cy="18.1" r="0.69" fill="#3a9f98"/><circle cx="27.8" cy="9.3" r="0.53" fill="#3a9f98"/><circle cx="25.8" cy="33.5" r="0.55" fill="#cf786f"/><circle cx="20.8" cy="8.6" r="0.59" fill="#c98f88"/><circle cx="19.1" cy="17.8" r="0.56" fill="#3a9f98"/><circle cx="0.6" cy="11.8" r="0.46" fill="#5aa29c"/><circle cx="37.8" cy="19.9" r="0.57" fill="#3a9f98"/><circle cx="4.1" cy="30.0" r="0.60" fill="#3a9f98"/><circle cx="17.3" cy="23.9" r="0.54" fill="#cf786f"/><circle cx="11.8" cy="19.7" r="0.64" fill="#cf786f"/><circle cx="39.4" cy="9.2" r="0.62" fill="#cf786f"/><circle cx="20.0" cy="18.8" r="0.47" fill="#3a9f98"/><circle cx="26.2" cy="20.1" r="0.59" fill="#cf786f"/><circle cx="14.2" cy="25.7" r="0.44" fill="#cf786f"/><circle cx="33.7" cy="0.4" r="0.55" fill="#5aa29c"/><circle cx="12.3" cy="38.6" r="0.59" fill="#8f8381"/><circle cx="2.8" cy="12.9" r="0.69" fill="#cf786f"/><circle cx="2.8" cy="18.2" r="0.51" fill="#cf786f"/><circle cx="19.1" cy="13.2" r="0.65" fill="#cf786f"/><circle cx="29.3" cy="32.4" r="0.69" fill="#8f8381"/><circle cx="19.0" cy="37.1" r="0.70" fill="#c98f88"/><circle cx="14.7" cy="37.4" r="0.53" fill="#5aa29c"/><circle cx="17.0" cy="29.7" r="0.69" fill="#5aa29c"/><circle cx="19.9" cy="15.2" r="0.56" fill="#3a9f98"/><circle cx="35.9" cy="12.8" r="0.53" fill="#5aa29c"/><circle cx="28.8" cy="13.3" r="0.56" fill="#cf786f"/><circle cx="9.2" cy="3.6" r="0.54" fill="#8f8381"/><circle cx="14.2" cy="5.6" r="0.48" fill="#cf786f"/><circle cx="36.3" cy="8.4" r="0.66" fill="#cf786f"/><circle cx="21.3" cy="3.9" r="0.64" fill="#cf786f"/><circle cx="37.3" cy="17.4" r="0.43" fill="#3a9f98"/><circle cx="39.4" cy="25.3" r="0.69" fill="#c98f88"/><circle cx="9.1" cy="26.7" r="0.42" fill="#5aa29c"/><circle cx="4.3" cy="7.1" r="0.51" fill="#3a9f98"/><circle cx="4.2" cy="3.0" r="0.69" fill="#c98f88"/><circle cx="13.7" cy="7.2" r="0.52" fill="#8f8381"/><circle cx="25.8" cy="32.7" r="0.46" fill="#cf786f"/><circle cx="19.3" cy="18.5" r="0.70" fill="#8f8381"/><circle cx="25.8" cy="39.4" r="0.65" fill="#cf786f"/><circle cx="24.4" cy="27.1" r="0.60" fill="#cf786f"/><circle cx="23.8" cy="3.2" r="0.46" fill="#5aa29c"/><circle cx="23.4" cy="28.7" r="0.51" fill="#8f8381"/><circle cx="27.4" cy="20.5" r="0.45" fill="#3a9f98"/><circle cx="11.6" cy="19.0" r="0.53" fill="#3a9f98"/><circle cx="37.8" cy="7.6" r="0.47" fill="#8f8381"/><circle cx="20.4" cy="20.1" r="0.61" fill="#c98f88"/><circle cx="16.5" cy="26.1" r="0.56" fill="#cf786f"/><circle cx="17.0" cy="25.6" r="0.65" fill="#cf786f"/><circle cx="34.3" cy="36.3" r="0.69" fill="#5aa29c"/><circle cx="35.7" cy="36.3" r="0.45" fill="#3a9f98"/><circle cx="12.7" cy="34.9" r="0.55" fill="#3a9f98"/><circle cx="14.4" cy="10.0" r="0.60" fill="#5aa29c"/><circle cx="38.0" cy="38.4" r="0.50" fill="#5aa29c"/><circle cx="9.4" cy="9.0" r="0.56" fill="#cf786f"/><circle cx="28.9" cy="10.8" r="0.67" fill="#3a9f98"/><circle cx="30.1" cy="38.6" r="0.55" fill="#c98f88"/><circle cx="12.0" cy="37.6" r="0.59" fill="#5aa29c"/><circle cx="16.9" cy="23.6" r="0.45" fill="#cf786f"/><circle cx="15.1" cy="26.5" r="0.44" fill="#cf786f"/><circle cx="21.7" cy="22.2" r="0.56" fill="#c98f88"/><circle cx="1.0" cy="22.3" r="0.54" fill="#5aa29c"/><circle cx="22.9" cy="8.5" r="0.70" fill="#c98f88"/><circle cx="35.8" cy="38.5" r="0.54" fill="#c98f88"/><circle cx="4.7" cy="11.4" r="0.51" fill="#3a9f98"/><circle cx="29.8" cy="10.1" r="0.51" fill="#3a9f98"/><circle cx="22.0" cy="11.5" r="0.56" fill="#cf786f"/><circle cx="5.3" cy="35.9" r="0.64" fill="#cf786f"/><circle cx="14.5" cy="16.0" r="0.61" fill="#8f8381"/><circle cx="9.4" cy="13.8" r="0.69" fill="#cf786f"/><circle cx="1.8" cy="15.1" r="0.42" fill="#3a9f98"/><circle cx="0.5" cy="30.1" r="0.68" fill="#cf786f"/><circle cx="18.3" cy="33.7" r="0.44" fill="#3a9f98"/><circle cx="24.5" cy="25.9" r="0.54" fill="#c98f88"/><circle cx="13.8" cy="10.0" r="0.44" fill="#cf786f"/><circle cx="33.8" cy="7.8" r="0.49" fill="#cf786f"/><circle cx="33.5" cy="17.0" r="0.44" fill="#c98f88"/><circle cx="9.1" cy="10.3" r="0.56" fill="#3a9f98"/><circle cx="33.5" cy="17.9" r="0.58" fill="#8f8381"/><circle cx="31.6" cy="0.7" r="0.44" fill="#8f8381"/><circle cx="8.5" cy="28.2" r="0.65" fill="#c98f88"/><circle cx="20.7" cy="1.0" r="0.51" fill="#3a9f98"/><circle cx="11.7" cy="4.8" r="0.70" fill="#3a9f98"/><circle cx="4.2" cy="28.6" r="0.51" fill="#cf786f"/><circle cx="12.9" cy="37.3" r="0.56" fill="#5aa29c"/><circle cx="20.9" cy="2.3" r="0.63" fill="#cf786f"/><circle cx="36.7" cy="5.6" r="0.43" fill="#5aa29c"/><circle cx="26.9" cy="12.4" r="0.49" fill="#cf786f"/><circle cx="20.6" cy="11.0" r="0.58" fill="#cf786f"/><circle cx="7.5" cy="7.8" r="0.46" fill="#5aa29c"/><circle cx="0.8" cy="0.5" r="0.48" fill="#cf786f"/><circle cx="8.5" cy="14.7" r="0.43" fill="#cf786f"/><circle cx="12.0" cy="18.3" r="0.66" fill="#c98f88"/><circle cx="7.4" cy="36.4" r="0.68" fill="#cf786f"/><circle cx="9.0" cy="14.8" r="0.48" fill="#c98f88"/><circle cx="15.3" cy="27.4" r="0.63" fill="#c98f88"/><circle cx="24.6" cy="32.9" r="0.60" fill="#cf786f"/><circle cx="12.4" cy="30.7" r="0.43" fill="#cf786f"/><circle cx="10.4" cy="26.8" r="0.63" fill="#3a9f98"/><circle cx="14.3" cy="3.8" r="0.69" fill="#cf786f"/><circle cx="17.2" cy="14.5" r="0.57" fill="#8f8381"/><circle cx="15.0" cy="12.8" r="0.64" fill="#cf786f"/><circle cx="30.4" cy="11.4" r="0.69" fill="#5aa29c"/><circle cx="25.8" cy="21.9" r="0.65" fill="#8f8381"/><circle cx="13.6" cy="12.4" r="0.55" fill="#cf786f"/><circle cx="13.8" cy="37.6" r="0.59" fill="#cf786f"/><circle cx="12.0" cy="16.1" r="0.70" fill="#cf786f"/><circle cx="5.1" cy="18.0" r="0.50" fill="#cf786f"/><circle cx="35.0" cy="27.6" r="0.44" fill="#cf786f"/><circle cx="36.3" cy="4.2" r="0.65" fill="#cf786f"/><circle cx="33.6" cy="37.3" r="0.51" fill="#5aa29c"/><circle cx="3.8" cy="16.8" r="0.67" fill="#cf786f"/><circle cx="35.4" cy="26.4" r="0.53" fill="#8f8381"/><circle cx="16.4" cy="4.2" r="0.68" fill="#cf786f"/><circle cx="6.1" cy="27.0" r="0.70" fill="#8f8381"/><circle cx="27.6" cy="13.0" r="0.56" fill="#3a9f98"/><circle cx="28.8" cy="35.4" r="0.53" fill="#3a9f98"/><circle cx="31.0" cy="4.5" r="0.64" fill="#8f8381"/><circle cx="22.7" cy="16.5" r="0.44" fill="#5aa29c"/><circle cx="35.6" cy="24.8" r="0.52" fill="#cf786f"/><circle cx="15.2" cy="0.7" r="0.52" fill="#3a9f98"/><circle cx="5.5" cy="1.2" r="0.43" fill="#cf786f"/><circle cx="7.9" cy="11.0" r="0.56" fill="#cf786f"/><circle cx="4.3" cy="6.3" r="0.58" fill="#3a9f98"/><circle cx="25.6" cy="5.7" r="0.56" fill="#3a9f98"/><circle cx="11.3" cy="17.1" r="0.49" fill="#cf786f"/><circle cx="3.2" cy="32.7" r="0.54" fill="#5aa29c"/><circle cx="24.6" cy="2.3" r="0.45" fill="#3a9f98"/><circle cx="15.1" cy="17.8" r="0.68" fill="#3a9f98"/><circle cx="12.3" cy="31.1" r="0.53" fill="#8f8381"/><circle cx="28.1" cy="35.4" r="0.54" fill="#cf786f"/><circle cx="18.8" cy="21.9" r="0.56" fill="#cf786f"/><circle cx="27.3" cy="33.0" r="0.57" fill="#cf786f"/><circle cx="6.8" cy="1.5" r="0.52" fill="#cf786f"/><circle cx="19.0" cy="4.7" r="0.57" fill="#cf786f"/><circle cx="3.5" cy="37.8" r="0.51" fill="#8f8381"/><circle cx="0.9" cy="15.0" r="0.67" fill="#8f8381"/><circle cx="30.7" cy="24.3" r="0.70" fill="#c98f88"/><circle cx="8.2" cy="22.8" r="0.50" fill="#8f8381"/><circle cx="6.1" cy="12.2" r="0.44" fill="#c98f88"/><circle cx="37.7" cy="33.9" r="0.48" fill="#cf786f"/><circle cx="30.8" cy="34.7" r="0.43" fill="#cf786f"/><circle cx="12.9" cy="12.3" r="0.47" fill="#3a9f98"/><circle cx="14.0" cy="5.5" r="0.49" fill="#3a9f98"/><circle cx="7.9" cy="5.7" r="0.67" fill="#cf786f"/><circle cx="30.3" cy="15.3" r="0.48" fill="#cf786f"/><circle cx="18.2" cy="30.8" r="0.67" fill="#cf786f"/><circle cx="38.4" cy="38.6" r="0.42" fill="#3a9f98"/><circle cx="12.1" cy="8.2" r="0.49" fill="#8f8381"/><circle cx="8.7" cy="10.6" r="0.69" fill="#3a9f98"/><circle cx="9.0" cy="5.2" r="0.44" fill="#cf786f"/><circle cx="32.0" cy="31.3" r="0.51" fill="#3a9f98"/><circle cx="1.3" cy="36.3" r="0.57" fill="#5aa29c"/><circle cx="36.3" cy="4.8" r="0.49" fill="#3a9f98"/><circle cx="29.9" cy="13.3" r="0.51" fill="#8f8381"/><circle cx="0.3" cy="24.1" r="0.57" fill="#3a9f98"/><circle cx="23.9" cy="20.2" r="0.57" fill="#3a9f98"/><circle cx="35.4" cy="20.0" r="0.45" fill="#cf786f"/><circle cx="9.3" cy="13.4" r="0.61" fill="#3a9f98"/><circle cx="2.8" cy="18.0" r="0.51" fill="#c98f88"/><circle cx="37.4" cy="20.8" r="0.44" fill="#cf786f"/><circle cx="4.3" cy="20.5" r="0.67" fill="#cf786f"/><circle cx="23.4" cy="0.4" r="0.60" fill="#3a9f98"/><circle cx="23.9" cy="34.6" r="0.61" fill="#cf786f"/><circle cx="22.7" cy="10.1" r="0.44" fill="#c98f88"/><circle cx="36.9" cy="14.2" r="0.46" fill="#5aa29c"/><circle cx="26.9" cy="24.2" r="0.42" fill="#c98f88"/><circle cx="8.8" cy="32.5" r="0.63" fill="#c98f88"/><circle cx="26.3" cy="10.8" r="0.52" fill="#3a9f98"/><circle cx="12.6" cy="36.4" r="0.49" fill="#3a9f98"/><circle cx="25.6" cy="6.6" r="0.43" fill="#cf786f"/><circle cx="20.4" cy="32.6" r="0.64" fill="#cf786f"/><circle cx="39.1" cy="10.4" r="0.68" fill="#c98f88"/><circle cx="6.9" cy="35.4" r="0.62" fill="#3a9f98"/><circle cx="17.6" cy="1.9" r="0.62" fill="#cf786f"/><circle cx="12.1" cy="30.8" r="0.60" fill="#3a9f98"/><circle cx="20.4" cy="17.3" r="0.62" fill="#3a9f98"/><circle cx="7.0" cy="17.2" r="0.65" fill="#cf786f"/><circle cx="39.4" cy="39.5" r="0.67" fill="#8f8381"/><circle cx="12.3" cy="12.6" r="0.44" fill="#cf786f"/><circle cx="19.0" cy="6.5" r="0.61" fill="#c98f88"/><circle cx="33.5" cy="6.8" r="0.47" fill="#5aa29c"/><circle cx="34.3" cy="39.5" r="0.53" fill="#cf786f"/><circle cx="18.0" cy="39.1" r="0.47" fill="#8f8381"/><circle cx="20.0" cy="14.5" r="0.70" fill="#8f8381"/><circle cx="37.2" cy="37.3" r="0.48" fill="#8f8381"/><circle cx="39.4" cy="6.1" r="0.58" fill="#8f8381"/><circle cx="7.1" cy="33.5" r="0.58" fill="#5aa29c"/><circle cx="30.9" cy="16.5" r="0.49" fill="#8f8381"/><circle cx="7.4" cy="25.2" r="0.51" fill="#3a9f98"/><circle cx="16.9" cy="33.7" r="0.50" fill="#8f8381"/><circle cx="13.1" cy="26.9" r="0.70" fill="#3a9f98"/><circle cx="35.7" cy="17.6" r="0.49" fill="#3a9f98"/><circle cx="18.1" cy="21.6" r="0.61" fill="#c98f88"/><circle cx="33.2" cy="6.4" r="0.66" fill="#5aa29c"/><circle cx="20.4" cy="18.8" r="0.55" fill="#3a9f98"/><circle cx="5.3" cy="12.0" r="0.50" fill="#8f8381"/><circle cx="37.2" cy="11.5" r="0.51" fill="#5aa29c"/><circle cx="33.9" cy="32.3" r="0.47" fill="#cf786f"/><circle cx="37.0" cy="4.9" r="0.51" fill="#3a9f98"/><circle cx="30.8" cy="33.3" r="0.48" fill="#5aa29c"/><circle cx="22.9" cy="36.9" r="0.57" fill="#cf786f"/><circle cx="9.5" cy="32.6" r="0.62" fill="#3a9f98"/><circle cx="32.8" cy="39.8" r="0.60" fill="#3a9f98"/><circle cx="27.0" cy="5.2" r="0.55" fill="#3a9f98"/><circle cx="18.9" cy="15.7" r="0.60" fill="#c98f88"/><circle cx="21.7" cy="13.6" r="0.58" fill="#cf786f"/><circle cx="30.0" cy="25.3" r="0.42" fill="#3a9f98"/><circle cx="33.4" cy="18.6" r="0.44" fill="#c98f88"/><circle cx="7.9" cy="3.0" r="0.63" fill="#cf786f"/><circle cx="39.1" cy="30.4" r="0.68" fill="#8f8381"/><circle cx="18.1" cy="4.6" r="0.62" fill="#c98f88"/><circle cx="10.2" cy="10.3" r="0.64" fill="#cf786f"/><circle cx="23.9" cy="38.8" r="0.49" fill="#8f8381"/><circle cx="22.2" cy="4.2" r="0.45" fill="#3a9f98"/><circle cx="23.3" cy="11.1" r="0.42" fill="#c98f88"/><circle cx="7.2" cy="21.1" r="0.65" fill="#cf786f"/><circle cx="16.5" cy="9.8" r="0.51" fill="#cf786f"/><circle cx="2.0" cy="38.7" r="0.62" fill="#cf786f"/><circle cx="36.5" cy="19.9" r="0.59" fill="#5aa29c"/><circle cx="38.3" cy="35.3" r="0.54" fill="#3a9f98"/><circle cx="22.0" cy="25.2" r="0.62" fill="#3a9f98"/><circle cx="25.5" cy="39.5" r="0.56" fill="#cf786f"/><circle cx="39.0" cy="38.3" r="0.69" fill="#c98f88"/><circle cx="35.4" cy="31.8" r="0.43" fill="#c98f88"/><circle cx="16.8" cy="5.1" r="0.50" fill="#cf786f"/><circle cx="36.1" cy="6.9" r="0.43" fill="#cf786f"/><circle cx="30.4" cy="36.4" r="0.69" fill="#3a9f98"/><circle cx="3.3" cy="1.3" r="0.58" fill="#c98f88"/><circle cx="32.3" cy="1.1" r="0.58" fill="#3a9f98"/><circle cx="8.8" cy="17.4" r="0.66" fill="#cf786f"/></pattern>
</defs>
<path d="M44.00,117.00 C44.62,115.25 45.67,113.50 47.00,112.50 C48.33,111.50 50.92,111.83 52.00,111.00 C53.08,110.17 52.83,108.45 53.50,107.50 C54.17,106.55 55.15,105.43 56.00,105.30 C56.85,105.17 57.93,105.83 58.60,106.70 C59.27,107.57 59.10,109.87 60.00,110.50 C60.90,111.13 62.58,110.25 64.00,110.50 C65.42,110.75 67.67,110.92 68.50,112.00 C69.33,113.08 69.25,115.00 69.00,117.00 C68.75,119.00 68.00,121.83 67.00,124.00 C66.00,126.17 64.83,128.58 63.00,130.00 C61.17,131.42 58.33,132.17 56.00,132.50 C53.67,132.83 50.92,132.58 49.00,132.00 C47.08,131.42 45.45,130.50 44.50,129.00 C43.55,127.50 43.38,125.00 43.30,123.00 C43.22,121.00 43.38,118.75 44.00,117.00 Z" fill="none" stroke="#6d6d6d" stroke-width="1.3" />
<path d="M53.00,111.50 C52.07,110.83 53.45,108.50 54.00,107.50 C54.55,106.50 55.53,105.55 56.30,105.50 C57.07,105.45 58.05,106.20 58.60,107.20 C59.15,108.20 60.53,110.78 59.60,111.50 C58.67,112.22 53.93,112.17 53.00,111.50 Z" fill="none" stroke="#6d6d6d" stroke-width="1.3" />
<path d="M51.00,58.00 C51.67,56.87 53.58,57.28 55.00,57.20 C56.42,57.12 58.62,56.53 59.50,57.50 C60.38,58.47 60.22,61.00 60.30,63.00 C60.38,65.00 61.38,68.42 60.00,69.50 C58.62,70.58 53.50,70.42 52.00,69.50 C50.50,68.58 51.17,65.92 51.00,64.00 C50.83,62.08 50.33,59.13 51.00,58.00 Z" fill="none" stroke="#6d6d6d" stroke-width="1.3" />
<path d="M46.50,72.00 C46.92,70.83 47.92,70.08 49.00,69.50 C50.08,68.92 51.08,68.58 53.00,68.50 C54.92,68.42 59.13,68.08 60.50,69.00 C61.87,69.92 61.28,72.58 61.20,74.00 C61.12,75.42 61.03,76.50 60.00,77.50 C58.97,78.50 56.75,79.67 55.00,80.00 C53.25,80.33 50.92,80.08 49.50,79.50 C48.08,78.92 47.00,77.75 46.50,76.50 C46.00,75.25 46.08,73.17 46.50,72.00 Z" fill="none" stroke="#6d6d6d" stroke-width="1.3" />
<path d="M60.00,58.50 C60.83,57.03 63.33,57.35 65.00,57.20 C66.67,57.05 68.33,57.13 70.00,57.60 C71.67,58.07 73.50,59.02 75.00,60.00 C76.50,60.98 79.00,62.25 79.00,63.50 C79.00,64.75 76.33,66.33 75.00,67.50 C73.67,68.67 73.17,69.92 71.00,70.50 C68.83,71.08 63.83,71.75 62.00,71.00 C60.17,70.25 60.33,68.08 60.00,66.00 C59.67,63.92 59.17,59.97 60.00,58.50 Z" fill="none" stroke="#6d6d6d" stroke-width="1.3" />
<path d="M60.00,71.50 C61.33,70.58 63.17,70.62 65.00,70.50 C66.83,70.38 69.25,70.05 71.00,70.80 C72.75,71.55 74.83,73.30 75.50,75.00 C76.17,76.70 75.75,79.25 75.00,81.00 C74.25,82.75 72.67,84.53 71.00,85.50 C69.33,86.47 67.00,86.80 65.00,86.80 C63.00,86.80 60.42,86.47 59.00,85.50 C57.58,84.53 56.83,82.58 56.50,81.00 C56.17,79.42 56.42,77.58 57.00,76.00 C57.58,74.42 58.67,72.42 60.00,71.50 Z" fill="none" stroke="#6d6d6d" stroke-width="1.3" />
<path d="M72.50,66.50 C73.17,65.08 77.42,63.70 80.00,62.50 C82.58,61.30 85.75,60.12 88.00,59.30 C90.25,58.48 92.42,57.40 93.50,57.60 C94.58,57.80 95.75,59.35 94.50,60.50 C93.25,61.65 88.33,63.17 86.00,64.50 C83.67,65.83 81.50,67.25 80.50,68.50 C79.50,69.75 79.33,70.75 80.00,72.00 C80.67,73.25 83.42,74.50 84.50,76.00 C85.58,77.50 86.58,79.45 86.50,81.00 C86.42,82.55 85.42,84.53 84.00,85.30 C82.58,86.07 79.57,86.15 78.00,85.60 C76.43,85.05 75.22,83.60 74.60,82.00 C73.98,80.40 74.07,77.83 74.30,76.00 C74.53,74.17 76.30,72.58 76.00,71.00 C75.70,69.42 71.83,67.92 72.50,66.50 Z" fill="none" stroke="#6d6d6d" stroke-width="1.3" />
<path d="M86.00,54.00 C86.42,53.08 89.33,55.25 91.00,55.00 C92.67,54.75 94.67,53.17 96.00,52.50 C97.33,51.83 98.00,50.67 99.00,51.00 C100.00,51.33 100.83,53.57 102.00,54.50 C103.17,55.43 104.67,56.18 106.00,56.60 C107.33,57.02 108.67,57.10 110.00,57.00 C111.33,56.90 112.83,56.50 114.00,56.00 C115.17,55.50 116.17,53.67 117.00,54.00 C117.83,54.33 118.50,56.50 119.00,58.00 C119.50,59.50 120.08,61.17 120.00,63.00 C119.92,64.83 120.17,68.25 118.50,69.00 C116.83,69.75 112.42,68.00 110.00,67.50 C107.58,67.00 106.17,66.42 104.00,66.00 C101.83,65.58 99.00,65.42 97.00,65.00 C95.00,64.58 93.42,64.25 92.00,63.50 C90.58,62.75 89.50,62.08 88.50,60.50 C87.50,58.92 85.58,54.92 86.00,54.00 Z" fill="none" stroke="#6d6d6d" stroke-width="1.3" />
<path d="M117.50,56.00 C117.25,53.25 116.33,48.58 117.00,47.50 C117.67,46.42 120.58,48.25 121.50,49.50 C122.42,50.75 122.00,53.58 122.50,55.00 C123.00,56.42 123.58,57.00 124.50,58.00 C125.42,59.00 127.08,59.83 128.00,61.00 C128.92,62.17 129.92,63.50 130.00,65.00 C130.08,66.50 129.17,68.97 128.50,70.00 C127.83,71.03 127.42,71.23 126.00,71.20 C124.58,71.17 121.25,71.00 120.00,69.80 C118.75,68.60 118.92,66.30 118.50,64.00 C118.08,61.70 117.75,58.75 117.50,56.00 Z" fill="none" stroke="#6d6d6d" stroke-width="1.3" />
<path d="M81.50,36.00 C82.00,34.17 82.83,32.28 84.00,31.00 C85.17,29.72 87.00,28.72 88.50,28.30 C90.00,27.88 91.58,28.13 93.00,28.50 C94.42,28.87 96.00,29.25 97.00,30.50 C98.00,31.75 98.63,34.08 99.00,36.00 C99.37,37.92 99.28,39.92 99.20,42.00 C99.12,44.08 99.03,46.75 98.50,48.50 C97.97,50.25 97.25,51.42 96.00,52.50 C94.75,53.58 92.67,54.75 91.00,55.00 C89.33,55.25 87.42,55.00 86.00,54.00 C84.58,53.00 83.33,51.00 82.50,49.00 C81.67,47.00 81.17,44.17 81.00,42.00 C80.83,39.83 81.00,37.83 81.50,36.00 Z" fill="none" stroke="#6d6d6d" stroke-width="1.3" />
<path d="M95.00,29.50 C95.75,28.08 99.50,27.92 102.00,27.50 C104.50,27.08 107.33,26.83 110.00,27.00 C112.67,27.17 115.50,27.58 118.00,28.50 C120.50,29.42 123.17,30.92 125.00,32.50 C126.83,34.08 128.75,36.42 129.00,38.00 C129.25,39.58 127.58,41.00 126.50,42.00 C125.42,43.00 123.33,42.67 122.50,44.00 C121.67,45.33 121.58,48.17 121.50,50.00 C121.42,51.83 122.50,53.75 122.00,55.00 C121.50,56.25 119.58,57.50 118.50,57.50 C117.42,57.50 115.83,56.67 115.50,55.00 C115.17,53.33 116.92,49.92 116.50,47.50 C116.08,45.08 114.43,42.03 113.00,40.50 C111.57,38.97 109.73,38.38 107.90,38.30 C106.07,38.22 103.55,39.05 102.00,40.00 C100.45,40.95 99.35,44.67 98.60,44.00 C97.85,43.33 98.10,38.42 97.50,36.00 C96.90,33.58 94.25,30.92 95.00,29.50 Z" fill="none" stroke="#6d6d6d" stroke-width="1.3" />
<path d="M128.50,62.00 C128.92,60.50 130.08,59.33 131.00,59.00 C131.92,58.67 133.00,59.08 134.00,60.00 C135.00,60.92 135.50,63.50 137.00,64.50 C138.50,65.50 141.00,65.08 143.00,66.00 C145.00,66.92 147.33,68.17 149.00,70.00 C150.67,71.83 152.08,74.50 153.00,77.00 C153.92,79.50 154.83,82.83 154.50,85.00 C154.17,87.17 152.75,89.08 151.00,90.00 C149.25,90.92 146.17,91.08 144.00,90.50 C141.83,89.92 139.67,88.25 138.00,86.50 C136.33,84.75 135.17,82.08 134.00,80.00 C132.83,77.92 131.92,76.00 131.00,74.00 C130.08,72.00 128.92,70.00 128.50,68.00 C128.08,66.00 128.08,63.50 128.50,62.00 Z" fill="none" stroke="#6d6d6d" stroke-width="1.3" />
<path d="M44.00,117.00 C44.62,115.25 45.67,113.50 47.00,112.50 C48.33,111.50 50.92,111.83 52.00,111.00 C53.08,110.17 52.83,108.45 53.50,107.50 C54.17,106.55 55.15,105.43 56.00,105.30 C56.85,105.17 57.93,105.83 58.60,106.70 C59.27,107.57 59.10,109.87 60.00,110.50 C60.90,111.13 62.58,110.25 64.00,110.50 C65.42,110.75 67.67,110.92 68.50,112.00 C69.33,113.08 69.25,115.00 69.00,117.00 C68.75,119.00 68.00,121.83 67.00,124.00 C66.00,126.17 64.83,128.58 63.00,130.00 C61.17,131.42 58.33,132.17 56.00,132.50 C53.67,132.83 50.92,132.58 49.00,132.00 C47.08,131.42 45.45,130.50 44.50,129.00 C43.55,127.50 43.38,125.00 43.30,123.00 C43.22,121.00 43.38,118.75 44.00,117.00 Z" fill="#ec6f6b" stroke="none" stroke-width="0" />
<path d="M44.00,117.00 C44.62,115.25 45.67,113.50 47.00,112.50 C48.33,111.50 50.92,111.83 52.00,111.00 C53.08,110.17 52.83,108.45 53.50,107.50 C54.17,106.55 55.15,105.43 56.00,105.30 C56.85,105.17 57.93,105.83 58.60,106.70 C59.27,107.57 59.10,109.87 60.00,110.50 C60.90,111.13 62.58,110.25 64.00,110.50 C65.42,110.75 67.67,110.92 68.50,112.00 C69.33,113.08 69.25,115.00 69.00,117.00 C68.75,119.00 68.00,121.83 67.00,124.00 C66.00,126.17 64.83,128.58 63.00,130.00 C61.17,131.42 58.33,132.17 56.00,132.50 C53.67,132.83 50.92,132.58 49.00,132.00 C47.08,131.42 45.45,130.50 44.50,129.00 C43.55,127.50 43.38,125.00 43.30,123.00 C43.22,121.00 43.38,118.75 44.00,117.00 Z" fill="url(#speck)" stroke="none" stroke-width="0" />
<path d="M53.00,111.50 C52.07,110.83 53.45,108.50 54.00,107.50 C54.55,106.50 55.53,105.55 56.30,105.50 C57.07,105.45 58.05,106.20 58.60,107.20 C59.15,108.20 60.53,110.78 59.60,111.50 C58.67,112.22 53.93,112.17 53.00,111.50 Z" fill="#a77bc4" stroke="none" stroke-width="0" />
<path d="M53.00,111.50 C52.07,110.83 53.45,108.50 54.00,107.50 C54.55,106.50 55.53,105.55 56.30,105.50 C57.07,105.45 58.05,106.20 58.60,107.20 C59.15,108.20 60.53,110.78 59.60,111.50 C58.67,112.22 53.93,112.17 53.00,111.50 Z" fill="url(#speck)" stroke="none" stroke-width="0" />
<path d="M51.00,58.00 C51.67,56.87 53.58,57.28 55.00,57.20 C56.42,57.12 58.62,56.53 59.50,57.50 C60.38,58.47 60.22,61.00 60.30,63.00 C60.38,65.00 61.38,68.42 60.00,69.50 C58.62,70.58 53.50,70.42 52.00,69.50 C50.50,68.58 51.17,65.92 51.00,64.00 C50.83,62.08 50.33,59.13 51.00,58.00 Z" fill="#9e7bc6" stroke="none" stroke-width="0" />
<path d="M51.00,58.00 C51.67,56.87 53.58,57.28 55.00,57.20 C56.42,57.12 58.62,56.53 59.50,57.50 C60.38,58.47 60.22,61.00 60.30,63.00 C60.38,65.00 61.38,68.42 60.00,69.50 C58.62,70.58 53.50,70.42 52.00,69.50 C50.50,68.58 51.17,65.92 51.00,64.00 C50.83,62.08 50.33,59.13 51.00,58.00 Z" fill="url(#speck)" stroke="none" stroke-width="0" />
<path d="M46.50,72.00 C46.92,70.83 47.92,70.08 49.00,69.50 C50.08,68.92 51.08,68.58 53.00,68.50 C54.92,68.42 59.13,68.08 60.50,69.00 C61.87,69.92 61.28,72.58 61.20,74.00 C61.12,75.42 61.03,76.50 60.00,77.50 C58.97,78.50 56.75,79.67 55.00,80.00 C53.25,80.33 50.92,80.08 49.50,79.50 C48.08,78.92 47.00,77.75 46.50,76.50 C46.00,75.25 46.08,73.17 46.50,72.00 Z" fill="#5c8fd8" stroke="none" stroke-width="0" />
<path d="M46.50,72.00 C46.92,70.83 47.92,70.08 49.00,69.50 C50.08,68.92 51.08,68.58 53.00,68.50 C54.92,68.42 59.13,68.08 60.50,69.00 C61.87,69.92 61.28,72.58 61.20,74.00 C61.12,75.42 61.03,76.50 60.00,77.50 C58.97,78.50 56.75,79.67 55.00,80.00 C53.25,80.33 50.92,80.08 49.50,79.50 C48.08,78.92 47.00,77.75 46.50,76.50 C46.00,75.25 46.08,73.17 46.50,72.00 Z" fill="url(#speck)" stroke="none" stroke-width="0" />
<path d="M60.00,58.50 C60.83,57.03 63.33,57.35 65.00,57.20 C66.67,57.05 68.33,57.13 70.00,57.60 C71.67,58.07 73.50,59.02 75.00,60.00 C76.50,60.98 79.00,62.25 79.00,63.50 C79.00,64.75 76.33,66.33 75.00,67.50 C73.67,68.67 73.17,69.92 71.00,70.50 C68.83,71.08 63.83,71.75 62.00,71.00 C60.17,70.25 60.33,68.08 60.00,66.00 C59.67,63.92 59.17,59.97 60.00,58.50 Z" fill="#4aaee3" stroke="none" stroke-width="0" />
<path d="M60.00,58.50 C60.83,57.03 63.33,57.35 65.00,57.20 C66.67,57.05 68.33,57.13 70.00,57.60 C71.67,58.07 73.50,59.02 75.00,60.00 C76.50,60.98 79.00,62.25 79.00,63.50 C79.00,64.75 76.33,66.33 75.00,67.50 C73.67,68.67 73.17,69.92 71.00,70.50 C68.83,71.08 63.83,71.75 62.00,71.00 C60.17,70.25 60.33,68.08 60.00,66.00 C59.67,63.92 59.17,59.97 60.00,58.50 Z" fill="url(#speck)" stroke="none" stroke-width="0" />
<path d="M60.00,71.50 C61.33,70.58 63.17,70.62 65.00,70.50 C66.83,70.38 69.25,70.05 71.00,70.80 C72.75,71.55 74.83,73.30 75.50,75.00 C76.17,76.70 75.75,79.25 75.00,81.00 C74.25,82.75 72.67,84.53 71.00,85.50 C69.33,86.47 67.00,86.80 65.00,86.80 C63.00,86.80 60.42,86.47 59.00,85.50 C57.58,84.53 56.83,82.58 56.50,81.00 C56.17,79.42 56.42,77.58 57.00,76.00 C57.58,74.42 58.67,72.42 60.00,71.50 Z" fill="#38b44a" stroke="none" stroke-width="0" />
<path d="M60.00,71.50 C61.33,70.58 63.17,70.62 65.00,70.50 C66.83,70.38 69.25,70.05 71.00,70.80 C72.75,71.55 74.83,73.30 75.50,75.00 C76.17,76.70 75.75,79.25 75.00,81.00 C74.25,82.75 72.67,84.53 71.00,85.50 C69.33,86.47 67.00,86.80 65.00,86.80 C63.00,86.80 60.42,86.47 59.00,85.50 C57.58,84.53 56.83,82.58 56.50,81.00 C56.17,79.42 56.42,77.58 57.00,76.00 C57.58,74.42 58.67,72.42 60.00,71.50 Z" fill="url(#speck)" stroke="none" stroke-width="0" />
<path d="M72.50,66.50 C73.17,65.08 77.42,63.70 80.00,62.50 C82.58,61.30 85.75,60.12 88.00,59.30 C90.25,58.48 92.42,57.40 93.50,57.60 C94.58,57.80 95.75,59.35 94.50,60.50 C93.25,61.65 88.33,63.17 86.00,64.50 C83.67,65.83 81.50,67.25 80.50,68.50 C79.50,69.75 79.33,70.75 80.00,72.00 C80.67,73.25 83.42,74.50 84.50,76.00 C85.58,77.50 86.58,79.45 86.50,81.00 C86.42,82.55 85.42,84.53 84.00,85.30 C82.58,86.07 79.57,86.15 78.00,85.60 C76.43,85.05 75.22,83.60 74.60,82.00 C73.98,80.40 74.07,77.83 74.30,76.00 C74.53,74.17 76.30,72.58 76.00,71.00 C75.70,69.42 71.83,67.92 72.50,66.50 Z" fill="#e063ad" stroke="none" stroke-width="0" />
<path d="M72.50,66.50 C73.17,65.08 77.42,63.70 80.00,62.50 C82.58,61.30 85.75,60.12 88.00,59.30 C90.25,58.48 92.42,57.40 93.50,57.60 C94.58,57.80 95.75,59.35 94.50,60.50 C93.25,61.65 88.33,63.17 86.00,64.50 C83.67,65.83 81.50,67.25 80.50,68.50 C79.50,69.75 79.33,70.75 80.00,72.00 C80.67,73.25 83.42,74.50 84.50,76.00 C85.58,77.50 86.58,79.45 86.50,81.00 C86.42,82.55 85.42,84.53 84.00,85.30 C82.58,86.07 79.57,86.15 78.00,85.60 C76.43,85.05 75.22,83.60 74.60,82.00 C73.98,80.40 74.07,77.83 74.30,76.00 C74.53,74.17 76.30,72.58 76.00,71.00 C75.70,69.42 71.83,67.92 72.50,66.50 Z" fill="url(#speck)" stroke="none" stroke-width="0" />
<path d="M86.00,54.00 C86.42,53.08 89.33,55.25 91.00,55.00 C92.67,54.75 94.67,53.17 96.00,52.50 C97.33,51.83 98.00,50.67 99.00,51.00 C100.00,51.33 100.83,53.57 102.00,54.50 C103.17,55.43 104.67,56.18 106.00,56.60 C107.33,57.02 108.67,57.10 110.00,57.00 C111.33,56.90 112.83,56.50 114.00,56.00 C115.17,55.50 116.17,53.67 117.00,54.00 C117.83,54.33 118.50,56.50 119.00,58.00 C119.50,59.50 120.08,61.17 120.00,63.00 C119.92,64.83 120.17,68.25 118.50,69.00 C116.83,69.75 112.42,68.00 110.00,67.50 C107.58,67.00 106.17,66.42 104.00,66.00 C101.83,65.58 99.00,65.42 97.00,65.00 C95.00,64.58 93.42,64.25 92.00,63.50 C90.58,62.75 89.50,62.08 88.50,60.50 C87.50,58.92 85.58,54.92 86.00,54.00 Z" fill="url(#gGrn)" stroke="none" stroke-width="0" />
<path d="M86.00,54.00 C86.42,53.08 89.33,55.25 91.00,55.00 C92.67,54.75 94.67,53.17 96.00,52.50 C97.33,51.83 98.00,50.67 99.00,51.00 C100.00,51.33 100.83,53.57 102.00,54.50 C103.17,55.43 104.67,56.18 106.00,56.60 C107.33,57.02 108.67,57.10 110.00,57.00 C111.33,56.90 112.83,56.50 114.00,56.00 C115.17,55.50 116.17,53.67 117.00,54.00 C117.83,54.33 118.50,56.50 119.00,58.00 C119.50,59.50 120.08,61.17 120.00,63.00 C119.92,64.83 120.17,68.25 118.50,69.00 C116.83,69.75 112.42,68.00 110.00,67.50 C107.58,67.00 106.17,66.42 104.00,66.00 C101.83,65.58 99.00,65.42 97.00,65.00 C95.00,64.58 93.42,64.25 92.00,63.50 C90.58,62.75 89.50,62.08 88.50,60.50 C87.50,58.92 85.58,54.92 86.00,54.00 Z" fill="url(#speck)" stroke="none" stroke-width="0" />
<path d="M117.50,56.00 C117.25,53.25 116.33,48.58 117.00,47.50 C117.67,46.42 120.58,48.25 121.50,49.50 C122.42,50.75 122.00,53.58 122.50,55.00 C123.00,56.42 123.58,57.00 124.50,58.00 C125.42,59.00 127.08,59.83 128.00,61.00 C128.92,62.17 129.92,63.50 130.00,65.00 C130.08,66.50 129.17,68.97 128.50,70.00 C127.83,71.03 127.42,71.23 126.00,71.20 C124.58,71.17 121.25,71.00 120.00,69.80 C118.75,68.60 118.92,66.30 118.50,64.00 C118.08,61.70 117.75,58.75 117.50,56.00 Z" fill="#2db38a" stroke="none" stroke-width="0" />
<path d="M117.50,56.00 C117.25,53.25 116.33,48.58 117.00,47.50 C117.67,46.42 120.58,48.25 121.50,49.50 C122.42,50.75 122.00,53.58 122.50,55.00 C123.00,56.42 123.58,57.00 124.50,58.00 C125.42,59.00 127.08,59.83 128.00,61.00 C128.92,62.17 129.92,63.50 130.00,65.00 C130.08,66.50 129.17,68.97 128.50,70.00 C127.83,71.03 127.42,71.23 126.00,71.20 C124.58,71.17 121.25,71.00 120.00,69.80 C118.75,68.60 118.92,66.30 118.50,64.00 C118.08,61.70 117.75,58.75 117.50,56.00 Z" fill="url(#speck)" stroke="none" stroke-width="0" />
<path d="M81.50,36.00 C82.00,34.17 82.83,32.28 84.00,31.00 C85.17,29.72 87.00,28.72 88.50,28.30 C90.00,27.88 91.58,28.13 93.00,28.50 C94.42,28.87 96.00,29.25 97.00,30.50 C98.00,31.75 98.63,34.08 99.00,36.00 C99.37,37.92 99.28,39.92 99.20,42.00 C99.12,44.08 99.03,46.75 98.50,48.50 C97.97,50.25 97.25,51.42 96.00,52.50 C94.75,53.58 92.67,54.75 91.00,55.00 C89.33,55.25 87.42,55.00 86.00,54.00 C84.58,53.00 83.33,51.00 82.50,49.00 C81.67,47.00 81.17,44.17 81.00,42.00 C80.83,39.83 81.00,37.83 81.50,36.00 Z" fill="#f38a16" stroke="none" stroke-width="0" />
<path d="M81.50,36.00 C82.00,34.17 82.83,32.28 84.00,31.00 C85.17,29.72 87.00,28.72 88.50,28.30 C90.00,27.88 91.58,28.13 93.00,28.50 C94.42,28.87 96.00,29.25 97.00,30.50 C98.00,31.75 98.63,34.08 99.00,36.00 C99.37,37.92 99.28,39.92 99.20,42.00 C99.12,44.08 99.03,46.75 98.50,48.50 C97.97,50.25 97.25,51.42 96.00,52.50 C94.75,53.58 92.67,54.75 91.00,55.00 C89.33,55.25 87.42,55.00 86.00,54.00 C84.58,53.00 83.33,51.00 82.50,49.00 C81.67,47.00 81.17,44.17 81.00,42.00 C80.83,39.83 81.00,37.83 81.50,36.00 Z" fill="url(#speck)" stroke="none" stroke-width="0" />
<path d="M95.00,29.50 C95.75,28.08 99.50,27.92 102.00,27.50 C104.50,27.08 107.33,26.83 110.00,27.00 C112.67,27.17 115.50,27.58 118.00,28.50 C120.50,29.42 123.17,30.92 125.00,32.50 C126.83,34.08 128.75,36.42 129.00,38.00 C129.25,39.58 127.58,41.00 126.50,42.00 C125.42,43.00 123.33,42.67 122.50,44.00 C121.67,45.33 121.58,48.17 121.50,50.00 C121.42,51.83 122.50,53.75 122.00,55.00 C121.50,56.25 119.58,57.50 118.50,57.50 C117.42,57.50 115.83,56.67 115.50,55.00 C115.17,53.33 116.92,49.92 116.50,47.50 C116.08,45.08 114.43,42.03 113.00,40.50 C111.57,38.97 109.73,38.38 107.90,38.30 C106.07,38.22 103.55,39.05 102.00,40.00 C100.45,40.95 99.35,44.67 98.60,44.00 C97.85,43.33 98.10,38.42 97.50,36.00 C96.90,33.58 94.25,30.92 95.00,29.50 Z" fill="url(#gTeal)" stroke="none" stroke-width="0" />
<path d="M95.00,29.50 C95.75,28.08 99.50,27.92 102.00,27.50 C104.50,27.08 107.33,26.83 110.00,27.00 C112.67,27.17 115.50,27.58 118.00,28.50 C120.50,29.42 123.17,30.92 125.00,32.50 C126.83,34.08 128.75,36.42 129.00,38.00 C129.25,39.58 127.58,41.00 126.50,42.00 C125.42,43.00 123.33,42.67 122.50,44.00 C121.67,45.33 121.58,48.17 121.50,50.00 C121.42,51.83 122.50,53.75 122.00,55.00 C121.50,56.25 119.58,57.50 118.50,57.50 C117.42,57.50 115.83,56.67 115.50,55.00 C115.17,53.33 116.92,49.92 116.50,47.50 C116.08,45.08 114.43,42.03 113.00,40.50 C111.57,38.97 109.73,38.38 107.90,38.30 C106.07,38.22 103.55,39.05 102.00,40.00 C100.45,40.95 99.35,44.67 98.60,44.00 C97.85,43.33 98.10,38.42 97.50,36.00 C96.90,33.58 94.25,30.92 95.00,29.50 Z" fill="url(#speck)" stroke="none" stroke-width="0" />
<path d="M128.50,62.00 C128.92,60.50 130.08,59.33 131.00,59.00 C131.92,58.67 133.00,59.08 134.00,60.00 C135.00,60.92 135.50,63.50 137.00,64.50 C138.50,65.50 141.00,65.08 143.00,66.00 C145.00,66.92 147.33,68.17 149.00,70.00 C150.67,71.83 152.08,74.50 153.00,77.00 C153.92,79.50 154.83,82.83 154.50,85.00 C154.17,87.17 152.75,89.08 151.00,90.00 C149.25,90.92 146.17,91.08 144.00,90.50 C141.83,89.92 139.67,88.25 138.00,86.50 C136.33,84.75 135.17,82.08 134.00,80.00 C132.83,77.92 131.92,76.00 131.00,74.00 C130.08,72.00 128.92,70.00 128.50,68.00 C128.08,66.00 128.08,63.50 128.50,62.00 Z" fill="url(#gBcell)" stroke="none" stroke-width="0" />
<path d="M128.50,62.00 C128.92,60.50 130.08,59.33 131.00,59.00 C131.92,58.67 133.00,59.08 134.00,60.00 C135.00,60.92 135.50,63.50 137.00,64.50 C138.50,65.50 141.00,65.08 143.00,66.00 C145.00,66.92 147.33,68.17 149.00,70.00 C150.67,71.83 152.08,74.50 153.00,77.00 C153.92,79.50 154.83,82.83 154.50,85.00 C154.17,87.17 152.75,89.08 151.00,90.00 C149.25,90.92 146.17,91.08 144.00,90.50 C141.83,89.92 139.67,88.25 138.00,86.50 C136.33,84.75 135.17,82.08 134.00,80.00 C132.83,77.92 131.92,76.00 131.00,74.00 C130.08,72.00 128.92,70.00 128.50,68.00 C128.08,66.00 128.08,63.50 128.50,62.00 Z" fill="url(#speck)" stroke="none" stroke-width="0" />
<ellipse cx="107.9" cy="47.5" rx="9.0" ry="9.2" fill="#fff" stroke="#6d6d6d" stroke-width="0.6"/>
<path d="M188.41,117.20 C189.01,115.45 190.04,113.70 191.34,112.70 C192.64,111.70 195.16,112.03 196.21,111.20 C197.27,110.37 197.03,108.65 197.68,107.70 C198.33,106.75 199.28,105.63 200.11,105.50 C200.94,105.37 202.00,106.03 202.65,106.90 C203.30,107.77 203.13,110.07 204.01,110.70 C204.89,111.33 206.53,110.45 207.91,110.70 C209.29,110.95 211.49,111.12 212.30,112.20 C213.11,113.28 213.03,115.20 212.79,117.20 C212.54,119.20 211.81,122.03 210.84,124.20 C209.86,126.37 208.72,128.78 206.94,130.20 C205.15,131.62 202.39,132.37 200.11,132.70 C197.84,133.03 195.16,132.78 193.29,132.20 C191.42,131.62 189.83,130.70 188.90,129.20 C187.97,127.70 187.81,125.20 187.73,123.20 C187.65,121.20 187.81,118.95 188.41,117.20 Z" fill="none" stroke="none" stroke-width="1.0" />
<path d="M197.19,111.70 C196.28,111.03 197.63,108.70 198.16,107.70 C198.70,106.70 199.66,105.75 200.41,105.70 C201.15,105.65 202.11,106.40 202.65,107.40 C203.18,108.40 204.53,110.98 203.62,111.70 C202.71,112.42 198.10,112.37 197.19,111.70 Z" fill="none" stroke="none" stroke-width="1.0" />
<path d="M195.24,58.20 C195.89,57.07 197.76,57.48 199.14,57.40 C200.52,57.32 202.66,56.73 203.53,57.70 C204.39,58.67 204.22,61.20 204.31,63.20 C204.39,65.20 205.36,68.62 204.01,69.70 C202.66,70.78 197.68,70.62 196.21,69.70 C194.75,68.78 195.40,66.12 195.24,64.20 C195.08,62.28 194.59,59.33 195.24,58.20 Z" fill="none" stroke="none" stroke-width="1.0" />
<path d="M190.85,72.20 C191.26,71.03 192.23,70.28 193.29,69.70 C194.34,69.12 195.32,68.78 197.19,68.70 C199.06,68.62 203.17,68.28 204.50,69.20 C205.83,70.12 205.26,72.78 205.18,74.20 C205.10,75.62 205.02,76.70 204.01,77.70 C203.00,78.70 200.84,79.87 199.14,80.20 C197.43,80.53 195.16,80.28 193.78,79.70 C192.39,79.12 191.34,77.95 190.85,76.70 C190.36,75.45 190.44,73.37 190.85,72.20 Z" fill="none" stroke="none" stroke-width="1.0" />
<path d="M204.01,58.70 C204.82,57.23 207.26,57.55 208.89,57.40 C210.51,57.25 212.14,57.33 213.76,57.80 C215.39,58.27 217.17,59.22 218.64,60.20 C220.10,61.18 222.54,62.45 222.54,63.70 C222.54,64.95 219.94,66.53 218.64,67.70 C217.34,68.87 216.85,70.12 214.74,70.70 C212.62,71.28 207.75,71.95 205.96,71.20 C204.18,70.45 204.34,68.28 204.01,66.20 C203.69,64.12 203.20,60.17 204.01,58.70 Z" fill="none" stroke="none" stroke-width="1.0" />
<path d="M204.01,71.70 C205.31,70.78 207.10,70.82 208.89,70.70 C210.67,70.58 213.03,70.25 214.74,71.00 C216.44,71.75 218.47,73.50 219.12,75.20 C219.78,76.90 219.37,79.45 218.64,81.20 C217.91,82.95 216.36,84.73 214.74,85.70 C213.11,86.67 210.84,87.00 208.89,87.00 C206.94,87.00 204.42,86.67 203.04,85.70 C201.66,84.73 200.92,82.78 200.60,81.20 C200.28,79.62 200.52,77.78 201.09,76.20 C201.66,74.62 202.71,72.62 204.01,71.70 Z" fill="none" stroke="none" stroke-width="1.0" />
<path d="M216.20,66.70 C216.85,65.28 220.99,63.90 223.51,62.70 C226.03,61.50 229.12,60.32 231.31,59.50 C233.51,58.68 235.62,57.60 236.67,57.80 C237.73,58.00 238.87,59.55 237.65,60.70 C236.43,61.85 231.64,63.37 229.36,64.70 C227.09,66.03 224.97,67.45 224.00,68.70 C223.03,69.95 222.86,70.95 223.51,72.20 C224.16,73.45 226.84,74.70 227.90,76.20 C228.96,77.70 229.93,79.65 229.85,81.20 C229.77,82.75 228.79,84.73 227.41,85.50 C226.03,86.27 223.09,86.35 221.56,85.80 C220.03,85.25 218.85,83.80 218.25,82.20 C217.65,80.60 217.73,78.03 217.95,76.20 C218.18,74.37 219.90,72.78 219.61,71.20 C219.32,69.62 215.55,68.12 216.20,66.70 Z" fill="none" stroke="none" stroke-width="1.0" />
<path d="M229.36,54.20 C229.77,53.28 232.61,55.45 234.24,55.20 C235.86,54.95 237.81,53.37 239.11,52.70 C240.41,52.03 241.06,50.87 242.04,51.20 C243.01,51.53 243.83,53.77 244.96,54.70 C246.10,55.63 247.56,56.38 248.86,56.80 C250.16,57.22 251.46,57.30 252.76,57.20 C254.06,57.10 255.53,56.70 256.66,56.20 C257.80,55.70 258.77,53.87 259.59,54.20 C260.40,54.53 261.05,56.70 261.54,58.20 C262.03,59.70 262.59,61.37 262.51,63.20 C262.43,65.03 262.68,68.45 261.05,69.20 C259.43,69.95 255.12,68.20 252.76,67.70 C250.41,67.20 249.02,66.62 246.91,66.20 C244.80,65.78 242.04,65.62 240.09,65.20 C238.14,64.78 236.59,64.45 235.21,63.70 C233.83,62.95 232.77,62.28 231.80,60.70 C230.82,59.12 228.96,55.12 229.36,54.20 Z" fill="none" stroke="none" stroke-width="1.0" />
<path d="M260.07,56.20 C259.83,53.45 258.94,48.78 259.59,47.70 C260.24,46.62 263.08,48.45 263.98,49.70 C264.87,50.95 264.46,53.78 264.95,55.20 C265.44,56.62 266.01,57.20 266.90,58.20 C267.79,59.20 269.42,60.03 270.31,61.20 C271.21,62.37 272.18,63.70 272.26,65.20 C272.34,66.70 271.45,69.17 270.80,70.20 C270.15,71.23 269.74,71.43 268.36,71.40 C266.98,71.37 263.73,71.20 262.51,70.00 C261.29,68.80 261.46,66.50 261.05,64.20 C260.64,61.90 260.32,58.95 260.07,56.20 Z" fill="none" stroke="none" stroke-width="1.0" />
<path d="M224.97,36.20 C225.46,34.37 226.28,32.48 227.41,31.20 C228.55,29.92 230.34,28.92 231.80,28.50 C233.26,28.08 234.81,28.33 236.19,28.70 C237.57,29.07 239.11,29.45 240.09,30.70 C241.06,31.95 241.68,34.28 242.04,36.20 C242.39,38.12 242.31,40.12 242.23,42.20 C242.15,44.28 242.07,46.95 241.55,48.70 C241.03,50.45 240.33,51.62 239.11,52.70 C237.89,53.78 235.86,54.95 234.24,55.20 C232.61,55.45 230.74,55.20 229.36,54.20 C227.98,53.20 226.76,51.20 225.95,49.20 C225.14,47.20 224.65,44.37 224.49,42.20 C224.32,40.03 224.49,38.03 224.97,36.20 Z" fill="none" stroke="none" stroke-width="1.0" />
<path d="M238.14,29.70 C238.87,28.28 242.53,28.12 244.96,27.70 C247.40,27.28 250.16,27.03 252.76,27.20 C255.36,27.37 258.12,27.78 260.56,28.70 C263.00,29.62 265.60,31.12 267.39,32.70 C269.18,34.28 271.04,36.62 271.29,38.20 C271.53,39.78 269.91,41.20 268.85,42.20 C267.79,43.20 265.76,42.87 264.95,44.20 C264.14,45.53 264.06,48.37 263.98,50.20 C263.89,52.03 264.95,53.95 264.46,55.20 C263.97,56.45 262.11,57.70 261.05,57.70 C259.99,57.70 258.45,56.87 258.12,55.20 C257.80,53.53 259.51,50.12 259.10,47.70 C258.69,45.28 257.08,42.23 255.69,40.70 C254.29,39.17 252.50,38.58 250.72,38.50 C248.93,38.42 246.47,39.25 244.96,40.20 C243.45,41.15 242.38,44.87 241.65,44.20 C240.92,43.53 241.16,38.62 240.57,36.20 C239.99,33.78 237.41,31.12 238.14,29.70 Z" fill="none" stroke="none" stroke-width="1.0" />
<path d="M270.80,62.20 C271.21,60.70 272.34,59.53 273.24,59.20 C274.13,58.87 275.19,59.28 276.16,60.20 C277.14,61.12 277.62,63.70 279.09,64.70 C280.55,65.70 282.99,65.28 284.94,66.20 C286.89,67.12 289.16,68.37 290.79,70.20 C292.41,72.03 293.79,74.70 294.69,77.20 C295.58,79.70 296.47,83.03 296.15,85.20 C295.82,87.37 294.44,89.28 292.74,90.20 C291.03,91.12 288.03,91.28 285.91,90.70 C283.80,90.12 281.69,88.45 280.06,86.70 C278.44,84.95 277.30,82.28 276.16,80.20 C275.03,78.12 274.13,76.20 273.24,74.20 C272.34,72.20 271.21,70.20 270.80,68.20 C270.39,66.20 270.39,63.70 270.80,62.20 Z" fill="none" stroke="none" stroke-width="1.0" />
<path d="M188.41,117.20 C189.01,115.45 190.04,113.70 191.34,112.70 C192.64,111.70 195.16,112.03 196.21,111.20 C197.27,110.37 197.03,108.65 197.68,107.70 C198.33,106.75 199.28,105.63 200.11,105.50 C200.94,105.37 202.00,106.03 202.65,106.90 C203.30,107.77 203.13,110.07 204.01,110.70 C204.89,111.33 206.53,110.45 207.91,110.70 C209.29,110.95 211.49,111.12 212.30,112.20 C213.11,113.28 213.03,115.20 212.79,117.20 C212.54,119.20 211.81,122.03 210.84,124.20 C209.86,126.37 208.72,128.78 206.94,130.20 C205.15,131.62 202.39,132.37 200.11,132.70 C197.84,133.03 195.16,132.78 193.29,132.20 C191.42,131.62 189.83,130.70 188.90,129.20 C187.97,127.70 187.81,125.20 187.73,123.20 C187.65,121.20 187.81,118.95 188.41,117.20 Z" fill="url(#reddots)" stroke="none" stroke-width="0" />
<path d="M197.19,111.70 C196.28,111.03 197.63,108.70 198.16,107.70 C198.70,106.70 199.66,105.75 200.41,105.70 C201.15,105.65 202.11,106.40 202.65,107.40 C203.18,108.40 204.53,110.98 203.62,111.70 C202.71,112.42 198.10,112.37 197.19,111.70 Z" fill="url(#tealmed)" stroke="none" stroke-width="0" />
<path d="M195.24,58.20 C195.89,57.07 197.76,57.48 199.14,57.40 C200.52,57.32 202.66,56.73 203.53,57.70 C204.39,58.67 204.22,61.20 204.31,63.20 C204.39,65.20 205.36,68.62 204.01,69.70 C202.66,70.78 197.68,70.62 196.21,69.70 C194.75,68.78 195.40,66.12 195.24,64.20 C195.08,62.28 194.59,59.33 195.24,58.20 Z" fill="url(#tealdots)" stroke="none" stroke-width="0" />
<path d="M190.85,72.20 C191.26,71.03 192.23,70.28 193.29,69.70 C194.34,69.12 195.32,68.78 197.19,68.70 C199.06,68.62 203.17,68.28 204.50,69.20 C205.83,70.12 205.26,72.78 205.18,74.20 C205.10,75.62 205.02,76.70 204.01,77.70 C203.00,78.70 200.84,79.87 199.14,80.20 C197.43,80.53 195.16,80.28 193.78,79.70 C192.39,79.12 191.34,77.95 190.85,76.70 C190.36,75.45 190.44,73.37 190.85,72.20 Z" fill="url(#tealdots)" stroke="none" stroke-width="0" />
<path d="M204.01,58.70 C204.82,57.23 207.26,57.55 208.89,57.40 C210.51,57.25 212.14,57.33 213.76,57.80 C215.39,58.27 217.17,59.22 218.64,60.20 C220.10,61.18 222.54,62.45 222.54,63.70 C222.54,64.95 219.94,66.53 218.64,67.70 C217.34,68.87 216.85,70.12 214.74,70.70 C212.62,71.28 207.75,71.95 205.96,71.20 C204.18,70.45 204.34,68.28 204.01,66.20 C203.69,64.12 203.20,60.17 204.01,58.70 Z" fill="url(#tealdots)" stroke="none" stroke-width="0" />
<path d="M204.01,71.70 C205.31,70.78 207.10,70.82 208.89,70.70 C210.67,70.58 213.03,70.25 214.74,71.00 C216.44,71.75 218.47,73.50 219.12,75.20 C219.78,76.90 219.37,79.45 218.64,81.20 C217.91,82.95 216.36,84.73 214.74,85.70 C213.11,86.67 210.84,87.00 208.89,87.00 C206.94,87.00 204.42,86.67 203.04,85.70 C201.66,84.73 200.92,82.78 200.60,81.20 C200.28,79.62 200.52,77.78 201.09,76.20 C201.66,74.62 202.71,72.62 204.01,71.70 Z" fill="url(#tealdots)" stroke="none" stroke-width="0" />
<path d="M216.20,66.70 C216.85,65.28 220.99,63.90 223.51,62.70 C226.03,61.50 229.12,60.32 231.31,59.50 C233.51,58.68 235.62,57.60 236.67,57.80 C237.73,58.00 238.87,59.55 237.65,60.70 C236.43,61.85 231.64,63.37 229.36,64.70 C227.09,66.03 224.97,67.45 224.00,68.70 C223.03,69.95 222.86,70.95 223.51,72.20 C224.16,73.45 226.84,74.70 227.90,76.20 C228.96,77.70 229.93,79.65 229.85,81.20 C229.77,82.75 228.79,84.73 227.41,85.50 C226.03,86.27 223.09,86.35 221.56,85.80 C220.03,85.25 218.85,83.80 218.25,82.20 C217.65,80.60 217.73,78.03 217.95,76.20 C218.18,74.37 219.90,72.78 219.61,71.20 C219.32,69.62 215.55,68.12 216.20,66.70 Z" fill="url(#tealsparse)" stroke="none" stroke-width="0" />
<path d="M229.36,54.20 C229.77,53.28 232.61,55.45 234.24,55.20 C235.86,54.95 237.81,53.37 239.11,52.70 C240.41,52.03 241.06,50.87 242.04,51.20 C243.01,51.53 243.83,53.77 244.96,54.70 C246.10,55.63 247.56,56.38 248.86,56.80 C250.16,57.22 251.46,57.30 252.76,57.20 C254.06,57.10 255.53,56.70 256.66,56.20 C257.80,55.70 258.77,53.87 259.59,54.20 C260.40,54.53 261.05,56.70 261.54,58.20 C262.03,59.70 262.59,61.37 262.51,63.20 C262.43,65.03 262.68,68.45 261.05,69.20 C259.43,69.95 255.12,68.20 252.76,67.70 C250.41,67.20 249.02,66.62 246.91,66.20 C244.80,65.78 242.04,65.62 240.09,65.20 C238.14,64.78 236.59,64.45 235.21,63.70 C233.83,62.95 232.77,62.28 231.80,60.70 C230.82,59.12 228.96,55.12 229.36,54.20 Z" fill="url(#tealdots)" stroke="none" stroke-width="0" />
<path d="M260.07,56.20 C259.83,53.45 258.94,48.78 259.59,47.70 C260.24,46.62 263.08,48.45 263.98,49.70 C264.87,50.95 264.46,53.78 264.95,55.20 C265.44,56.62 266.01,57.20 266.90,58.20 C267.79,59.20 269.42,60.03 270.31,61.20 C271.21,62.37 272.18,63.70 272.26,65.20 C272.34,66.70 271.45,69.17 270.80,70.20 C270.15,71.23 269.74,71.43 268.36,71.40 C266.98,71.37 263.73,71.20 262.51,70.00 C261.29,68.80 261.46,66.50 261.05,64.20 C260.64,61.90 260.32,58.95 260.07,56.20 Z" fill="url(#tealmed)" stroke="none" stroke-width="0" />
<path d="M224.97,36.20 C225.46,34.37 226.28,32.48 227.41,31.20 C228.55,29.92 230.34,28.92 231.80,28.50 C233.26,28.08 234.81,28.33 236.19,28.70 C237.57,29.07 239.11,29.45 240.09,30.70 C241.06,31.95 241.68,34.28 242.04,36.20 C242.39,38.12 242.31,40.12 242.23,42.20 C242.15,44.28 242.07,46.95 241.55,48.70 C241.03,50.45 240.33,51.62 239.11,52.70 C237.89,53.78 235.86,54.95 234.24,55.20 C232.61,55.45 230.74,55.20 229.36,54.20 C227.98,53.20 226.76,51.20 225.95,49.20 C225.14,47.20 224.65,44.37 224.49,42.20 C224.32,40.03 224.49,38.03 224.97,36.20 Z" fill="url(#tealdots)" stroke="none" stroke-width="0" />
<path d="M238.14,29.70 C238.87,28.28 242.53,28.12 244.96,27.70 C247.40,27.28 250.16,27.03 252.76,27.20 C255.36,27.37 258.12,27.78 260.56,28.70 C263.00,29.62 265.60,31.12 267.39,32.70 C269.18,34.28 271.04,36.62 271.29,38.20 C271.53,39.78 269.91,41.20 268.85,42.20 C267.79,43.20 265.76,42.87 264.95,44.20 C264.14,45.53 264.06,48.37 263.98,50.20 C263.89,52.03 264.95,53.95 264.46,55.20 C263.97,56.45 262.11,57.70 261.05,57.70 C259.99,57.70 258.45,56.87 258.12,55.20 C257.80,53.53 259.51,50.12 259.10,47.70 C258.69,45.28 257.08,42.23 255.69,40.70 C254.29,39.17 252.50,38.58 250.72,38.50 C248.93,38.42 246.47,39.25 244.96,40.20 C243.45,41.15 242.38,44.87 241.65,44.20 C240.92,43.53 241.16,38.62 240.57,36.20 C239.99,33.78 237.41,31.12 238.14,29.70 Z" fill="url(#tealdots)" stroke="none" stroke-width="0" />
<path d="M270.80,62.20 C271.21,60.70 272.34,59.53 273.24,59.20 C274.13,58.87 275.19,59.28 276.16,60.20 C277.14,61.12 277.62,63.70 279.09,64.70 C280.55,65.70 282.99,65.28 284.94,66.20 C286.89,67.12 289.16,68.37 290.79,70.20 C292.41,72.03 293.79,74.70 294.69,77.20 C295.58,79.70 296.47,83.03 296.15,85.20 C295.82,87.37 294.44,89.28 292.74,90.20 C291.03,91.12 288.03,91.28 285.91,90.70 C283.80,90.12 281.69,88.45 280.06,86.70 C278.44,84.95 277.30,82.28 276.16,80.20 C275.03,78.12 274.13,76.20 273.24,74.20 C272.34,72.20 271.21,70.20 270.80,68.20 C270.39,66.20 270.39,63.70 270.80,62.20 Z" fill="url(#tealdots)" stroke="none" stroke-width="0" />
<ellipse cx="250.715" cy="47.9" rx="9.8" ry="10.0" fill="#fff"/>
<path d="M135.60,216.60 C135.60,216.60 138.70,217.90 139.40,220.80 C140.10,223.70 139.90,229.92 139.80,234.00 C139.70,238.08 138.18,242.93 138.80,245.30 C139.42,247.67 141.77,247.48 143.50,248.20 C145.23,248.92 147.65,248.30 149.20,249.60 C150.75,250.90 152.78,254.10 152.80,256.00 C152.82,257.90 150.22,259.63 149.30,261.00 C148.38,262.37 147.25,262.50 147.30,264.20 C147.35,265.90 150.22,269.13 149.60,271.20 C148.98,273.27 146.12,275.53 143.60,276.60 C141.08,277.67 137.23,277.90 134.50,277.60 C131.77,277.30 129.02,275.37 127.20,274.80 C125.38,274.23 125.07,274.95 123.60,274.20 C122.13,273.45 119.87,272.23 118.40,270.30 C116.93,268.37 114.90,265.02 114.80,262.60 C114.70,260.18 116.63,257.52 117.80,255.80 C118.97,254.08 120.67,253.93 121.80,252.30 C122.93,250.67 124.22,248.47 124.60,246.00 C124.98,243.53 123.88,240.33 124.10,237.50 C124.32,234.67 124.87,231.43 125.90,229.00 C126.93,226.57 128.68,224.97 130.30,222.90 C131.92,220.83 135.60,216.60 135.60,216.60 Z" fill="#fff" stroke="#7a7a7a" stroke-width="0.7" />
<path d="M63.50,205.70 C64.18,204.65 65.98,203.75 67.40,203.20 C68.82,202.65 70.20,202.40 72.00,202.40 C73.80,202.40 76.65,202.52 78.20,203.20 C79.75,203.88 80.85,205.32 81.30,206.50 C81.75,207.68 81.42,209.15 80.90,210.30 C80.38,211.45 79.55,212.47 78.20,213.40 C76.85,214.33 74.08,214.88 72.80,215.90 C71.52,216.92 71.23,218.12 70.50,219.50 C69.77,220.88 69.05,223.13 68.40,224.20 C67.75,225.27 67.53,225.78 66.60,225.90 C65.67,226.02 63.32,225.97 62.80,224.90 C62.28,223.83 63.25,221.42 63.50,219.50 C63.75,217.58 64.33,215.07 64.30,213.40 C64.27,211.73 63.43,210.78 63.30,209.50 C63.17,208.22 62.82,206.75 63.50,205.70 Z" fill="none" stroke="#6d6d6d" stroke-width="1.3" />
<path d="M57.30,228.70 C58.53,227.00 61.13,226.00 63.00,225.80 C64.87,225.60 66.57,226.83 68.50,227.50 C70.43,228.17 72.68,229.13 74.60,229.80 C76.52,230.47 78.27,230.83 80.00,231.50 C81.73,232.17 83.87,232.63 85.00,233.80 C86.13,234.97 86.70,236.92 86.80,238.50 C86.90,240.08 86.73,242.47 85.60,243.30 C84.47,244.13 81.83,243.55 80.00,243.50 C78.17,243.45 76.52,243.17 74.60,243.00 C72.68,242.83 70.43,242.67 68.50,242.50 C66.57,242.33 64.87,242.17 63.00,242.00 C61.13,241.83 58.53,242.50 57.30,241.50 C56.07,240.50 55.60,238.13 55.60,236.00 C55.60,233.87 56.07,230.40 57.30,228.70 Z" fill="none" stroke="#6d6d6d" stroke-width="1.3" />
<path d="M74.30,242.50 C75.38,241.80 78.12,242.68 80.00,242.80 C81.88,242.92 84.17,242.93 85.60,243.20 C87.03,243.47 87.88,243.43 88.60,244.40 C89.32,245.37 89.70,247.48 89.90,249.00 C90.10,250.52 90.02,251.60 89.80,253.50 C89.58,255.40 89.57,258.65 88.60,260.40 C87.63,262.15 85.73,263.77 84.00,264.00 C82.27,264.23 79.53,262.88 78.20,261.80 C76.87,260.72 76.60,259.13 76.00,257.50 C75.40,255.87 75.02,253.75 74.60,252.00 C74.18,250.25 73.55,248.58 73.50,247.00 C73.45,245.42 73.22,243.20 74.30,242.50 Z" fill="none" stroke="#6d6d6d" stroke-width="1.3" />
<path d="M55.50,243.00 C56.00,242.00 56.92,242.08 58.00,242.00 C59.08,241.92 60.50,242.25 62.00,242.50 C63.50,242.75 65.50,242.83 67.00,243.50 C68.50,244.17 70.07,245.58 71.00,246.50 C71.93,247.42 72.72,248.12 72.60,249.00 C72.48,249.88 71.70,251.23 70.30,251.80 C68.90,252.37 66.25,252.50 64.20,252.40 C62.15,252.30 59.53,251.93 58.00,251.20 C56.47,250.47 55.42,249.37 55.00,248.00 C54.58,246.63 55.00,244.00 55.50,243.00 Z" fill="none" stroke="#6d6d6d" stroke-width="1.3" />
<path d="M54.60,234.00 C54.60,234.00 55.43,237.83 55.50,240.00 C55.57,242.17 54.75,245.00 55.00,247.00 C55.25,249.00 55.83,250.50 57.00,252.00 C58.17,253.50 59.97,254.80 62.00,256.00 C64.03,257.20 69.20,259.20 69.20,259.20 C69.20,259.20 63.53,259.95 61.00,260.50 C58.47,261.05 56.08,261.78 54.00,262.50 C51.92,263.22 50.27,264.55 48.50,264.80 C46.73,265.05 44.18,264.97 43.40,264.00 C42.62,263.03 43.28,261.17 43.80,259.00 C44.32,256.83 45.38,253.83 46.50,251.00 C47.62,248.17 49.15,244.83 50.50,242.00 C51.85,239.17 54.60,234.00 54.60,234.00 Z" fill="none" stroke="#6d6d6d" stroke-width="1.3" />
<path d="M44.20,264.50 C44.62,263.50 47.45,263.42 49.00,264.00 C50.55,264.58 52.00,266.58 53.50,268.00 C55.00,269.42 56.50,271.00 58.00,272.50 C59.50,274.00 62.08,275.67 62.50,277.00 C62.92,278.33 61.50,280.17 60.50,280.50 C59.50,280.83 58.00,280.00 56.50,279.00 C55.00,278.00 53.17,276.00 51.50,274.50 C49.83,273.00 47.72,271.67 46.50,270.00 C45.28,268.33 43.78,265.50 44.20,264.50 Z" fill="none" stroke="#6d6d6d" stroke-width="1.3" />
<path d="M61.50,277.50 C62.63,276.55 65.08,277.45 67.00,277.30 C68.92,277.15 71.00,276.68 73.00,276.60 C75.00,276.52 77.55,275.98 79.00,276.80 C80.45,277.62 81.47,279.80 81.70,281.50 C81.93,283.20 81.55,285.70 80.40,287.00 C79.25,288.30 76.60,288.73 74.80,289.30 C73.00,289.87 71.37,290.42 69.60,290.40 C67.83,290.38 65.77,290.43 64.20,289.20 C62.63,287.97 60.65,284.95 60.20,283.00 C59.75,281.05 60.37,278.45 61.50,277.50 Z" fill="none" stroke="#6d6d6d" stroke-width="1.3" />
<path d="M86.60,291.20 C86.47,289.63 87.13,288.20 87.70,287.00 C88.27,285.80 88.92,285.13 90.00,284.00 C91.08,282.87 92.85,280.67 94.20,280.20 C95.55,279.73 97.52,280.02 98.10,281.20 C98.68,282.38 98.22,285.50 97.70,287.30 C97.18,289.10 95.95,290.68 95.00,292.00 C94.05,293.32 93.08,294.47 92.00,295.20 C90.92,295.93 89.40,297.07 88.50,296.40 C87.60,295.73 86.73,292.77 86.60,291.20 Z" fill="none" stroke="#6d6d6d" stroke-width="1.3" />
<path d="M66.20,295.50 C66.72,294.32 67.90,293.05 69.20,292.30 C70.50,291.55 72.33,291.37 74.00,291.00 C75.67,290.63 77.17,290.02 79.20,290.10 C81.23,290.18 84.63,290.72 86.20,291.50 C87.77,292.28 88.73,293.72 88.60,294.80 C88.47,295.88 86.75,297.00 85.40,298.00 C84.05,299.00 81.92,300.03 80.50,300.80 C79.08,301.57 78.52,301.98 76.90,302.60 C75.28,303.22 72.40,304.50 70.80,304.50 C69.20,304.50 68.08,303.45 67.30,302.60 C66.52,301.75 66.28,300.58 66.10,299.40 C65.92,298.22 65.68,296.68 66.20,295.50 Z" fill="none" stroke="#6d6d6d" stroke-width="1.3" />
<path d="M72.00,267.00 C72.50,265.88 74.42,266.07 76.00,265.80 C77.58,265.53 79.67,265.33 81.50,265.40 C83.33,265.47 85.42,265.68 87.00,266.20 C88.58,266.72 90.57,267.45 91.00,268.50 C91.43,269.55 90.77,271.58 89.60,272.50 C88.43,273.42 85.93,273.70 84.00,274.00 C82.07,274.30 79.83,274.55 78.00,274.30 C76.17,274.05 74.00,273.72 73.00,272.50 C72.00,271.28 71.50,268.12 72.00,267.00 Z" fill="none" stroke="#6d6d6d" stroke-width="1.3" />
<path d="M100.40,276.50 C100.90,275.22 102.92,273.18 104.20,271.90 C105.48,270.62 107.03,269.45 108.10,268.80 C109.17,268.15 110.28,267.05 110.60,268.00 C110.92,268.95 110.80,272.70 110.00,274.50 C109.20,276.30 107.27,277.95 105.80,278.80 C104.33,279.65 102.10,279.98 101.20,279.60 C100.30,279.22 99.90,277.78 100.40,276.50 Z" fill="none" stroke="#6d6d6d" stroke-width="1.3" />
<path d="M135.70,217.40 C135.70,217.40 137.95,219.13 138.50,220.90 C139.05,222.67 138.92,225.78 139.00,228.00 C139.08,230.22 139.12,232.20 139.00,234.20 C138.88,236.20 138.57,238.07 138.30,240.00 C138.03,241.93 137.70,244.27 137.40,245.80 C137.10,247.33 138.03,248.63 136.50,249.20 C134.97,249.77 130.00,249.77 128.20,249.20 C126.40,248.63 126.25,247.75 125.70,245.80 C125.15,243.85 124.75,240.27 124.90,237.50 C125.05,234.73 125.63,231.55 126.60,229.20 C127.57,226.85 129.18,225.37 130.70,223.40 C132.22,221.43 135.70,217.40 135.70,217.40 Z" fill="none" stroke="#6d6d6d" stroke-width="1.3" />
<path d="M118.30,256.60 C119.40,255.08 121.17,252.33 122.40,253.30 C123.63,254.27 124.87,259.35 125.70,262.40 C126.53,265.45 127.67,269.80 127.40,271.60 C127.13,273.40 125.48,273.62 124.10,273.20 C122.72,272.78 120.48,270.90 119.10,269.10 C117.72,267.30 115.93,264.48 115.80,262.40 C115.67,260.32 117.20,258.12 118.30,256.60 Z" fill="none" stroke="#6d6d6d" stroke-width="1.3" />
<path d="M122.40,250.80 C123.37,248.72 125.70,248.18 128.20,247.50 C130.70,246.82 135.70,245.87 137.40,246.70 C139.10,247.53 138.82,250.15 138.40,252.50 C137.98,254.85 136.60,259.15 134.90,260.80 C133.20,262.45 130.28,262.53 128.20,262.40 C126.12,262.27 123.37,261.93 122.40,260.00 C121.43,258.07 121.43,252.88 122.40,250.80 Z" fill="none" stroke="#6d6d6d" stroke-width="1.3" />
<path d="M138.50,252.50 C139.32,251.27 141.58,249.48 143.20,249.20 C144.82,248.92 146.82,249.70 148.20,250.80 C149.58,251.90 151.50,254.27 151.50,255.80 C151.50,257.33 150.00,259.30 148.20,260.00 C146.40,260.70 142.35,260.57 140.70,260.00 C139.05,259.43 138.67,257.85 138.30,256.60 C137.93,255.35 137.68,253.73 138.50,252.50 Z" fill="none" stroke="#6d6d6d" stroke-width="1.3" />
<path d="M125.70,262.40 C126.82,260.28 131.98,260.90 134.90,260.50 C137.82,260.10 141.27,259.12 143.20,260.00 C145.13,260.88 145.67,264.00 146.50,265.80 C147.33,267.60 148.75,269.15 148.20,270.80 C147.65,272.45 145.42,274.73 143.20,275.70 C140.98,276.67 137.40,277.02 134.90,276.60 C132.40,276.18 129.73,275.57 128.20,273.20 C126.67,270.83 124.58,264.52 125.70,262.40 Z" fill="none" stroke="#6d6d6d" stroke-width="1.3" />
<path d="M63.50,205.70 C64.18,204.65 65.98,203.75 67.40,203.20 C68.82,202.65 70.20,202.40 72.00,202.40 C73.80,202.40 76.65,202.52 78.20,203.20 C79.75,203.88 80.85,205.32 81.30,206.50 C81.75,207.68 81.42,209.15 80.90,210.30 C80.38,211.45 79.55,212.47 78.20,213.40 C76.85,214.33 74.08,214.88 72.80,215.90 C71.52,216.92 71.23,218.12 70.50,219.50 C69.77,220.88 69.05,223.13 68.40,224.20 C67.75,225.27 67.53,225.78 66.60,225.90 C65.67,226.02 63.32,225.97 62.80,224.90 C62.28,223.83 63.25,221.42 63.50,219.50 C63.75,217.58 64.33,215.07 64.30,213.40 C64.27,211.73 63.43,210.78 63.30,209.50 C63.17,208.22 62.82,206.75 63.50,205.70 Z" fill="#48b53e" stroke="none" stroke-width="0" />
<path d="M63.50,205.70 C64.18,204.65 65.98,203.75 67.40,203.20 C68.82,202.65 70.20,202.40 72.00,202.40 C73.80,202.40 76.65,202.52 78.20,203.20 C79.75,203.88 80.85,205.32 81.30,206.50 C81.75,207.68 81.42,209.15 80.90,210.30 C80.38,211.45 79.55,212.47 78.20,213.40 C76.85,214.33 74.08,214.88 72.80,215.90 C71.52,216.92 71.23,218.12 70.50,219.50 C69.77,220.88 69.05,223.13 68.40,224.20 C67.75,225.27 67.53,225.78 66.60,225.90 C65.67,226.02 63.32,225.97 62.80,224.90 C62.28,223.83 63.25,221.42 63.50,219.50 C63.75,217.58 64.33,215.07 64.30,213.40 C64.27,211.73 63.43,210.78 63.30,209.50 C63.17,208.22 62.82,206.75 63.50,205.70 Z" fill="url(#speck)" stroke="none" stroke-width="0" />
<path d="M57.30,228.70 C58.53,227.00 61.13,226.00 63.00,225.80 C64.87,225.60 66.57,226.83 68.50,227.50 C70.43,228.17 72.68,229.13 74.60,229.80 C76.52,230.47 78.27,230.83 80.00,231.50 C81.73,232.17 83.87,232.63 85.00,233.80 C86.13,234.97 86.70,236.92 86.80,238.50 C86.90,240.08 86.73,242.47 85.60,243.30 C84.47,244.13 81.83,243.55 80.00,243.50 C78.17,243.45 76.52,243.17 74.60,243.00 C72.68,242.83 70.43,242.67 68.50,242.50 C66.57,242.33 64.87,242.17 63.00,242.00 C61.13,241.83 58.53,242.50 57.30,241.50 C56.07,240.50 55.60,238.13 55.60,236.00 C55.60,233.87 56.07,230.40 57.30,228.70 Z" fill="#ee6a5e" stroke="none" stroke-width="0" />
<path d="M57.30,228.70 C58.53,227.00 61.13,226.00 63.00,225.80 C64.87,225.60 66.57,226.83 68.50,227.50 C70.43,228.17 72.68,229.13 74.60,229.80 C76.52,230.47 78.27,230.83 80.00,231.50 C81.73,232.17 83.87,232.63 85.00,233.80 C86.13,234.97 86.70,236.92 86.80,238.50 C86.90,240.08 86.73,242.47 85.60,243.30 C84.47,244.13 81.83,243.55 80.00,243.50 C78.17,243.45 76.52,243.17 74.60,243.00 C72.68,242.83 70.43,242.67 68.50,242.50 C66.57,242.33 64.87,242.17 63.00,242.00 C61.13,241.83 58.53,242.50 57.30,241.50 C56.07,240.50 55.60,238.13 55.60,236.00 C55.60,233.87 56.07,230.40 57.30,228.70 Z" fill="url(#speck)" stroke="none" stroke-width="0" />
<path d="M74.30,242.50 C75.38,241.80 78.12,242.68 80.00,242.80 C81.88,242.92 84.17,242.93 85.60,243.20 C87.03,243.47 87.88,243.43 88.60,244.40 C89.32,245.37 89.70,247.48 89.90,249.00 C90.10,250.52 90.02,251.60 89.80,253.50 C89.58,255.40 89.57,258.65 88.60,260.40 C87.63,262.15 85.73,263.77 84.00,264.00 C82.27,264.23 79.53,262.88 78.20,261.80 C76.87,260.72 76.60,259.13 76.00,257.50 C75.40,255.87 75.02,253.75 74.60,252.00 C74.18,250.25 73.55,248.58 73.50,247.00 C73.45,245.42 73.22,243.20 74.30,242.50 Z" fill="#2fb58a" stroke="none" stroke-width="0" />
<path d="M74.30,242.50 C75.38,241.80 78.12,242.68 80.00,242.80 C81.88,242.92 84.17,242.93 85.60,243.20 C87.03,243.47 87.88,243.43 88.60,244.40 C89.32,245.37 89.70,247.48 89.90,249.00 C90.10,250.52 90.02,251.60 89.80,253.50 C89.58,255.40 89.57,258.65 88.60,260.40 C87.63,262.15 85.73,263.77 84.00,264.00 C82.27,264.23 79.53,262.88 78.20,261.80 C76.87,260.72 76.60,259.13 76.00,257.50 C75.40,255.87 75.02,253.75 74.60,252.00 C74.18,250.25 73.55,248.58 73.50,247.00 C73.45,245.42 73.22,243.20 74.30,242.50 Z" fill="url(#speck)" stroke="none" stroke-width="0" />
<path d="M55.50,243.00 C56.00,242.00 56.92,242.08 58.00,242.00 C59.08,241.92 60.50,242.25 62.00,242.50 C63.50,242.75 65.50,242.83 67.00,243.50 C68.50,244.17 70.07,245.58 71.00,246.50 C71.93,247.42 72.72,248.12 72.60,249.00 C72.48,249.88 71.70,251.23 70.30,251.80 C68.90,252.37 66.25,252.50 64.20,252.40 C62.15,252.30 59.53,251.93 58.00,251.20 C56.47,250.47 55.42,249.37 55.00,248.00 C54.58,246.63 55.00,244.00 55.50,243.00 Z" fill="#d5a3dc" stroke="none" stroke-width="0" />
<path d="M55.50,243.00 C56.00,242.00 56.92,242.08 58.00,242.00 C59.08,241.92 60.50,242.25 62.00,242.50 C63.50,242.75 65.50,242.83 67.00,243.50 C68.50,244.17 70.07,245.58 71.00,246.50 C71.93,247.42 72.72,248.12 72.60,249.00 C72.48,249.88 71.70,251.23 70.30,251.80 C68.90,252.37 66.25,252.50 64.20,252.40 C62.15,252.30 59.53,251.93 58.00,251.20 C56.47,250.47 55.42,249.37 55.00,248.00 C54.58,246.63 55.00,244.00 55.50,243.00 Z" fill="url(#speck)" stroke="none" stroke-width="0" />
<path d="M54.60,234.00 C54.60,234.00 55.43,237.83 55.50,240.00 C55.57,242.17 54.75,245.00 55.00,247.00 C55.25,249.00 55.83,250.50 57.00,252.00 C58.17,253.50 59.97,254.80 62.00,256.00 C64.03,257.20 69.20,259.20 69.20,259.20 C69.20,259.20 63.53,259.95 61.00,260.50 C58.47,261.05 56.08,261.78 54.00,262.50 C51.92,263.22 50.27,264.55 48.50,264.80 C46.73,265.05 44.18,264.97 43.40,264.00 C42.62,263.03 43.28,261.17 43.80,259.00 C44.32,256.83 45.38,253.83 46.50,251.00 C47.62,248.17 49.15,244.83 50.50,242.00 C51.85,239.17 54.60,234.00 54.60,234.00 Z" fill="#c8b52a" stroke="none" stroke-width="0" />
<path d="M54.60,234.00 C54.60,234.00 55.43,237.83 55.50,240.00 C55.57,242.17 54.75,245.00 55.00,247.00 C55.25,249.00 55.83,250.50 57.00,252.00 C58.17,253.50 59.97,254.80 62.00,256.00 C64.03,257.20 69.20,259.20 69.20,259.20 C69.20,259.20 63.53,259.95 61.00,260.50 C58.47,261.05 56.08,261.78 54.00,262.50 C51.92,263.22 50.27,264.55 48.50,264.80 C46.73,265.05 44.18,264.97 43.40,264.00 C42.62,263.03 43.28,261.17 43.80,259.00 C44.32,256.83 45.38,253.83 46.50,251.00 C47.62,248.17 49.15,244.83 50.50,242.00 C51.85,239.17 54.60,234.00 54.60,234.00 Z" fill="url(#speck)" stroke="none" stroke-width="0" />
<path d="M44.20,264.50 C44.62,263.50 47.45,263.42 49.00,264.00 C50.55,264.58 52.00,266.58 53.50,268.00 C55.00,269.42 56.50,271.00 58.00,272.50 C59.50,274.00 62.08,275.67 62.50,277.00 C62.92,278.33 61.50,280.17 60.50,280.50 C59.50,280.83 58.00,280.00 56.50,279.00 C55.00,278.00 53.17,276.00 51.50,274.50 C49.83,273.00 47.72,271.67 46.50,270.00 C45.28,268.33 43.78,265.50 44.20,264.50 Z" fill="#2ab39c" stroke="none" stroke-width="0" />
<path d="M44.20,264.50 C44.62,263.50 47.45,263.42 49.00,264.00 C50.55,264.58 52.00,266.58 53.50,268.00 C55.00,269.42 56.50,271.00 58.00,272.50 C59.50,274.00 62.08,275.67 62.50,277.00 C62.92,278.33 61.50,280.17 60.50,280.50 C59.50,280.83 58.00,280.00 56.50,279.00 C55.00,278.00 53.17,276.00 51.50,274.50 C49.83,273.00 47.72,271.67 46.50,270.00 C45.28,268.33 43.78,265.50 44.20,264.50 Z" fill="url(#speck)" stroke="none" stroke-width="0" />
<path d="M61.50,277.50 C62.63,276.55 65.08,277.45 67.00,277.30 C68.92,277.15 71.00,276.68 73.00,276.60 C75.00,276.52 77.55,275.98 79.00,276.80 C80.45,277.62 81.47,279.80 81.70,281.50 C81.93,283.20 81.55,285.70 80.40,287.00 C79.25,288.30 76.60,288.73 74.80,289.30 C73.00,289.87 71.37,290.42 69.60,290.40 C67.83,290.38 65.77,290.43 64.20,289.20 C62.63,287.97 60.65,284.95 60.20,283.00 C59.75,281.05 60.37,278.45 61.50,277.50 Z" fill="#2db9c9" stroke="none" stroke-width="0" />
<path d="M61.50,277.50 C62.63,276.55 65.08,277.45 67.00,277.30 C68.92,277.15 71.00,276.68 73.00,276.60 C75.00,276.52 77.55,275.98 79.00,276.80 C80.45,277.62 81.47,279.80 81.70,281.50 C81.93,283.20 81.55,285.70 80.40,287.00 C79.25,288.30 76.60,288.73 74.80,289.30 C73.00,289.87 71.37,290.42 69.60,290.40 C67.83,290.38 65.77,290.43 64.20,289.20 C62.63,287.97 60.65,284.95 60.20,283.00 C59.75,281.05 60.37,278.45 61.50,277.50 Z" fill="url(#speck)" stroke="none" stroke-width="0" />
<path d="M86.60,291.20 C86.47,289.63 87.13,288.20 87.70,287.00 C88.27,285.80 88.92,285.13 90.00,284.00 C91.08,282.87 92.85,280.67 94.20,280.20 C95.55,279.73 97.52,280.02 98.10,281.20 C98.68,282.38 98.22,285.50 97.70,287.30 C97.18,289.10 95.95,290.68 95.00,292.00 C94.05,293.32 93.08,294.47 92.00,295.20 C90.92,295.93 89.40,297.07 88.50,296.40 C87.60,295.73 86.73,292.77 86.60,291.20 Z" fill="#4aa0e0" stroke="none" stroke-width="0" />
<path d="M86.60,291.20 C86.47,289.63 87.13,288.20 87.70,287.00 C88.27,285.80 88.92,285.13 90.00,284.00 C91.08,282.87 92.85,280.67 94.20,280.20 C95.55,279.73 97.52,280.02 98.10,281.20 C98.68,282.38 98.22,285.50 97.70,287.30 C97.18,289.10 95.95,290.68 95.00,292.00 C94.05,293.32 93.08,294.47 92.00,295.20 C90.92,295.93 89.40,297.07 88.50,296.40 C87.60,295.73 86.73,292.77 86.60,291.20 Z" fill="url(#speck)" stroke="none" stroke-width="0" />
<path d="M66.20,295.50 C66.72,294.32 67.90,293.05 69.20,292.30 C70.50,291.55 72.33,291.37 74.00,291.00 C75.67,290.63 77.17,290.02 79.20,290.10 C81.23,290.18 84.63,290.72 86.20,291.50 C87.77,292.28 88.73,293.72 88.60,294.80 C88.47,295.88 86.75,297.00 85.40,298.00 C84.05,299.00 81.92,300.03 80.50,300.80 C79.08,301.57 78.52,301.98 76.90,302.60 C75.28,303.22 72.40,304.50 70.80,304.50 C69.20,304.50 68.08,303.45 67.30,302.60 C66.52,301.75 66.28,300.58 66.10,299.40 C65.92,298.22 65.68,296.68 66.20,295.50 Z" fill="#f18b21" stroke="none" stroke-width="0" />
<path d="M66.20,295.50 C66.72,294.32 67.90,293.05 69.20,292.30 C70.50,291.55 72.33,291.37 74.00,291.00 C75.67,290.63 77.17,290.02 79.20,290.10 C81.23,290.18 84.63,290.72 86.20,291.50 C87.77,292.28 88.73,293.72 88.60,294.80 C88.47,295.88 86.75,297.00 85.40,298.00 C84.05,299.00 81.92,300.03 80.50,300.80 C79.08,301.57 78.52,301.98 76.90,302.60 C75.28,303.22 72.40,304.50 70.80,304.50 C69.20,304.50 68.08,303.45 67.30,302.60 C66.52,301.75 66.28,300.58 66.10,299.40 C65.92,298.22 65.68,296.68 66.20,295.50 Z" fill="url(#speck)" stroke="none" stroke-width="0" />
<path d="M72.00,267.00 C72.50,265.88 74.42,266.07 76.00,265.80 C77.58,265.53 79.67,265.33 81.50,265.40 C83.33,265.47 85.42,265.68 87.00,266.20 C88.58,266.72 90.57,267.45 91.00,268.50 C91.43,269.55 90.77,271.58 89.60,272.50 C88.43,273.42 85.93,273.70 84.00,274.00 C82.07,274.30 79.83,274.55 78.00,274.30 C76.17,274.05 74.00,273.72 73.00,272.50 C72.00,271.28 71.50,268.12 72.00,267.00 Z" fill="#bea0dc" stroke="none" stroke-width="0" />
<path d="M72.00,267.00 C72.50,265.88 74.42,266.07 76.00,265.80 C77.58,265.53 79.67,265.33 81.50,265.40 C83.33,265.47 85.42,265.68 87.00,266.20 C88.58,266.72 90.57,267.45 91.00,268.50 C91.43,269.55 90.77,271.58 89.60,272.50 C88.43,273.42 85.93,273.70 84.00,274.00 C82.07,274.30 79.83,274.55 78.00,274.30 C76.17,274.05 74.00,273.72 73.00,272.50 C72.00,271.28 71.50,268.12 72.00,267.00 Z" fill="url(#speck)" stroke="none" stroke-width="0" />
<path d="M100.40,276.50 C100.90,275.22 102.92,273.18 104.20,271.90 C105.48,270.62 107.03,269.45 108.10,268.80 C109.17,268.15 110.28,267.05 110.60,268.00 C110.92,268.95 110.80,272.70 110.00,274.50 C109.20,276.30 107.27,277.95 105.80,278.80 C104.33,279.65 102.10,279.98 101.20,279.60 C100.30,279.22 99.90,277.78 100.40,276.50 Z" fill="#eb8cb6" stroke="none" stroke-width="0" />
<path d="M100.40,276.50 C100.90,275.22 102.92,273.18 104.20,271.90 C105.48,270.62 107.03,269.45 108.10,268.80 C109.17,268.15 110.28,267.05 110.60,268.00 C110.92,268.95 110.80,272.70 110.00,274.50 C109.20,276.30 107.27,277.95 105.80,278.80 C104.33,279.65 102.10,279.98 101.20,279.60 C100.30,279.22 99.90,277.78 100.40,276.50 Z" fill="url(#speck)" stroke="none" stroke-width="0" />
<path d="M135.70,217.40 C135.70,217.40 137.95,219.13 138.50,220.90 C139.05,222.67 138.92,225.78 139.00,228.00 C139.08,230.22 139.12,232.20 139.00,234.20 C138.88,236.20 138.57,238.07 138.30,240.00 C138.03,241.93 137.70,244.27 137.40,245.80 C137.10,247.33 138.03,248.63 136.50,249.20 C134.97,249.77 130.00,249.77 128.20,249.20 C126.40,248.63 126.25,247.75 125.70,245.80 C125.15,243.85 124.75,240.27 124.90,237.50 C125.05,234.73 125.63,231.55 126.60,229.20 C127.57,226.85 129.18,225.37 130.70,223.40 C132.22,221.43 135.70,217.40 135.70,217.40 Z" fill="url(#gGold)" stroke="none" stroke-width="0" />
<path d="M135.70,217.40 C135.70,217.40 137.95,219.13 138.50,220.90 C139.05,222.67 138.92,225.78 139.00,228.00 C139.08,230.22 139.12,232.20 139.00,234.20 C138.88,236.20 138.57,238.07 138.30,240.00 C138.03,241.93 137.70,244.27 137.40,245.80 C137.10,247.33 138.03,248.63 136.50,249.20 C134.97,249.77 130.00,249.77 128.20,249.20 C126.40,248.63 126.25,247.75 125.70,245.80 C125.15,243.85 124.75,240.27 124.90,237.50 C125.05,234.73 125.63,231.55 126.60,229.20 C127.57,226.85 129.18,225.37 130.70,223.40 C132.22,221.43 135.70,217.40 135.70,217.40 Z" fill="url(#speck)" stroke="none" stroke-width="0" />
<path d="M118.30,256.60 C119.40,255.08 121.17,252.33 122.40,253.30 C123.63,254.27 124.87,259.35 125.70,262.40 C126.53,265.45 127.67,269.80 127.40,271.60 C127.13,273.40 125.48,273.62 124.10,273.20 C122.72,272.78 120.48,270.90 119.10,269.10 C117.72,267.30 115.93,264.48 115.80,262.40 C115.67,260.32 117.20,258.12 118.30,256.60 Z" fill="#bb8cd6" stroke="none" stroke-width="0" />
<path d="M118.30,256.60 C119.40,255.08 121.17,252.33 122.40,253.30 C123.63,254.27 124.87,259.35 125.70,262.40 C126.53,265.45 127.67,269.80 127.40,271.60 C127.13,273.40 125.48,273.62 124.10,273.20 C122.72,272.78 120.48,270.90 119.10,269.10 C117.72,267.30 115.93,264.48 115.80,262.40 C115.67,260.32 117.20,258.12 118.30,256.60 Z" fill="url(#speck)" stroke="none" stroke-width="0" />
<path d="M122.40,250.80 C123.37,248.72 125.70,248.18 128.20,247.50 C130.70,246.82 135.70,245.87 137.40,246.70 C139.10,247.53 138.82,250.15 138.40,252.50 C137.98,254.85 136.60,259.15 134.90,260.80 C133.20,262.45 130.28,262.53 128.20,262.40 C126.12,262.27 123.37,261.93 122.40,260.00 C121.43,258.07 121.43,252.88 122.40,250.80 Z" fill="#9fc23a" stroke="none" stroke-width="0" />
<path d="M122.40,250.80 C123.37,248.72 125.70,248.18 128.20,247.50 C130.70,246.82 135.70,245.87 137.40,246.70 C139.10,247.53 138.82,250.15 138.40,252.50 C137.98,254.85 136.60,259.15 134.90,260.80 C133.20,262.45 130.28,262.53 128.20,262.40 C126.12,262.27 123.37,261.93 122.40,260.00 C121.43,258.07 121.43,252.88 122.40,250.80 Z" fill="url(#speck)" stroke="none" stroke-width="0" />
<path d="M138.50,252.50 C139.32,251.27 141.58,249.48 143.20,249.20 C144.82,248.92 146.82,249.70 148.20,250.80 C149.58,251.90 151.50,254.27 151.50,255.80 C151.50,257.33 150.00,259.30 148.20,260.00 C146.40,260.70 142.35,260.57 140.70,260.00 C139.05,259.43 138.67,257.85 138.30,256.60 C137.93,255.35 137.68,253.73 138.50,252.50 Z" fill="#3ea8e4" stroke="none" stroke-width="0" />
<path d="M138.50,252.50 C139.32,251.27 141.58,249.48 143.20,249.20 C144.82,248.92 146.82,249.70 148.20,250.80 C149.58,251.90 151.50,254.27 151.50,255.80 C151.50,257.33 150.00,259.30 148.20,260.00 C146.40,260.70 142.35,260.57 140.70,260.00 C139.05,259.43 138.67,257.85 138.30,256.60 C137.93,255.35 137.68,253.73 138.50,252.50 Z" fill="url(#speck)" stroke="none" stroke-width="0" />
<path d="M125.70,262.40 C126.82,260.28 131.98,260.90 134.90,260.50 C137.82,260.10 141.27,259.12 143.20,260.00 C145.13,260.88 145.67,264.00 146.50,265.80 C147.33,267.60 148.75,269.15 148.20,270.80 C147.65,272.45 145.42,274.73 143.20,275.70 C140.98,276.67 137.40,277.02 134.90,276.60 C132.40,276.18 129.73,275.57 128.20,273.20 C126.67,270.83 124.58,264.52 125.70,262.40 Z" fill="#30b04c" stroke="none" stroke-width="0" />
<path d="M125.70,262.40 C126.82,260.28 131.98,260.90 134.90,260.50 C137.82,260.10 141.27,259.12 143.20,260.00 C145.13,260.88 145.67,264.00 146.50,265.80 C147.33,267.60 148.75,269.15 148.20,270.80 C147.65,272.45 145.42,274.73 143.20,275.70 C140.98,276.67 137.40,277.02 134.90,276.60 C132.40,276.18 129.73,275.57 128.20,273.20 C126.67,270.83 124.58,264.52 125.70,262.40 Z" fill="url(#speck)" stroke="none" stroke-width="0" />
<path d="M208.42,205.40 C209.09,204.35 210.86,203.45 212.26,202.90 C213.65,202.35 215.01,202.10 216.78,202.10 C218.55,202.10 221.36,202.22 222.88,202.90 C224.41,203.58 225.49,205.02 225.93,206.20 C226.38,207.38 226.05,208.85 225.54,210.00 C225.03,211.15 224.21,212.17 222.88,213.10 C221.56,214.03 218.83,214.58 217.57,215.60 C216.31,216.62 216.03,217.82 215.31,219.20 C214.59,220.58 213.88,222.83 213.24,223.90 C212.60,224.97 212.39,225.48 211.47,225.60 C210.55,225.72 208.24,225.67 207.73,224.60 C207.22,223.53 208.17,221.12 208.42,219.20 C208.67,217.28 209.24,214.77 209.21,213.10 C209.17,211.43 208.35,210.48 208.22,209.20 C208.09,207.92 207.75,206.45 208.42,205.40 Z" fill="none" stroke="#a09592" stroke-width="2.6" />
<path d="M202.32,228.40 C203.53,226.70 206.09,225.70 207.93,225.50 C209.76,225.30 211.44,226.53 213.34,227.20 C215.24,227.87 217.46,228.83 219.34,229.50 C221.23,230.17 222.95,230.53 224.66,231.20 C226.36,231.87 228.46,232.33 229.58,233.50 C230.69,234.67 231.25,236.62 231.35,238.20 C231.44,239.78 231.28,242.17 230.17,243.00 C229.05,243.83 226.46,243.25 224.66,243.20 C222.85,243.15 221.23,242.87 219.34,242.70 C217.46,242.53 215.24,242.37 213.34,242.20 C211.44,242.03 209.76,241.87 207.93,241.70 C206.09,241.53 203.53,242.20 202.32,241.20 C201.10,240.20 200.65,237.83 200.65,235.70 C200.65,233.57 201.10,230.10 202.32,228.40 Z" fill="none" stroke="#a09592" stroke-width="2.6" />
<path d="M219.05,242.20 C220.11,241.50 222.80,242.38 224.66,242.50 C226.51,242.62 228.76,242.63 230.17,242.90 C231.58,243.17 232.41,243.13 233.12,244.10 C233.82,245.07 234.20,247.18 234.40,248.70 C234.59,250.22 234.51,251.30 234.30,253.20 C234.09,255.10 234.07,258.35 233.12,260.10 C232.17,261.85 230.30,263.47 228.59,263.70 C226.89,263.93 224.20,262.58 222.88,261.50 C221.57,260.42 221.31,258.83 220.72,257.20 C220.13,255.57 219.75,253.45 219.34,251.70 C218.93,249.95 218.31,248.28 218.26,246.70 C218.21,245.12 217.98,242.90 219.05,242.20 Z" fill="none" stroke="#a09592" stroke-width="2.6" />
<path d="M189.43,264.20 C189.84,263.20 192.63,263.12 194.15,263.70 C195.68,264.28 197.10,266.28 198.58,267.70 C200.06,269.12 201.53,270.70 203.01,272.20 C204.48,273.70 207.03,275.37 207.44,276.70 C207.85,278.03 206.45,279.87 205.47,280.20 C204.48,280.53 203.01,279.70 201.53,278.70 C200.06,277.70 198.25,275.70 196.61,274.20 C194.97,272.70 192.89,271.37 191.69,269.70 C190.49,268.03 189.02,265.20 189.43,264.20 Z" fill="none" stroke="#a09592" stroke-width="2.6" />
<path d="M206.45,277.20 C207.57,276.25 209.98,277.15 211.86,277.00 C213.75,276.85 215.80,276.38 217.77,276.30 C219.74,276.22 222.24,275.68 223.67,276.50 C225.10,277.32 226.10,279.50 226.33,281.20 C226.56,282.90 226.18,285.40 225.05,286.70 C223.92,288.00 221.31,288.43 219.54,289.00 C217.77,289.57 216.16,290.12 214.42,290.10 C212.68,290.08 210.65,290.13 209.11,288.90 C207.57,287.67 205.61,284.65 205.17,282.70 C204.73,280.75 205.34,278.15 206.45,277.20 Z" fill="none" stroke="#a09592" stroke-width="2.6" />
<path d="M231.15,290.90 C231.02,289.33 231.67,287.90 232.23,286.70 C232.79,285.50 233.43,284.83 234.50,283.70 C235.56,282.57 237.30,280.37 238.63,279.90 C239.96,279.43 241.89,279.72 242.47,280.90 C243.04,282.08 242.58,285.20 242.07,287.00 C241.56,288.80 240.35,290.38 239.42,291.70 C238.48,293.02 237.53,294.17 236.46,294.90 C235.40,295.63 233.90,296.77 233.02,296.10 C232.13,295.43 231.28,292.47 231.15,290.90 Z" fill="none" stroke="#a09592" stroke-width="2.6" />
<path d="M211.08,295.20 C211.58,294.02 212.75,292.75 214.03,292.00 C215.31,291.25 217.11,291.07 218.75,290.70 C220.39,290.33 221.87,289.72 223.87,289.80 C225.87,289.88 229.21,290.42 230.76,291.20 C232.30,291.98 233.25,293.42 233.12,294.50 C232.99,295.58 231.30,296.70 229.97,297.70 C228.64,298.70 226.54,299.73 225.15,300.50 C223.75,301.27 223.20,301.68 221.60,302.30 C220.01,302.92 217.18,304.20 215.60,304.20 C214.03,304.20 212.93,303.15 212.16,302.30 C211.39,301.45 211.16,300.28 210.98,299.10 C210.80,297.92 210.57,296.38 211.08,295.20 Z" fill="none" stroke="#a09592" stroke-width="2.6" />
<path d="M244.73,276.20 C245.22,274.92 247.21,272.88 248.47,271.60 C249.73,270.32 251.26,269.15 252.31,268.50 C253.36,267.85 254.45,266.75 254.77,267.70 C255.08,268.65 254.96,272.40 254.18,274.20 C253.39,276.00 251.49,277.65 250.04,278.50 C248.60,279.35 246.40,279.68 245.52,279.30 C244.63,278.92 244.24,277.48 244.73,276.20 Z" fill="none" stroke="#a09592" stroke-width="2.6" />
<path d="M279.46,217.10 C279.46,217.10 281.68,218.83 282.22,220.60 C282.76,222.37 282.63,225.48 282.71,227.70 C282.79,229.92 282.83,231.90 282.71,233.90 C282.60,235.90 282.28,237.77 282.02,239.70 C281.76,241.63 281.43,243.97 281.14,245.50 C280.84,247.03 281.76,248.33 280.25,248.90 C278.74,249.47 273.86,249.47 272.08,248.90 C270.31,248.33 270.17,247.45 269.62,245.50 C269.08,243.55 268.69,239.97 268.84,237.20 C268.98,234.43 269.56,231.25 270.51,228.90 C271.46,226.55 273.05,225.07 274.54,223.10 C276.04,221.13 279.46,217.10 279.46,217.10 Z" fill="none" stroke="#a09592" stroke-width="2.6" />
<path d="M262.34,256.30 C263.42,254.78 265.16,252.03 266.38,253.00 C267.59,253.97 268.80,259.05 269.62,262.10 C270.44,265.15 271.56,269.50 271.30,271.30 C271.03,273.10 269.41,273.32 268.05,272.90 C266.69,272.48 264.49,270.60 263.13,268.80 C261.77,267.00 260.01,264.18 259.88,262.10 C259.75,260.02 261.26,257.82 262.34,256.30 Z" fill="none" stroke="#a09592" stroke-width="2.6" />
<path d="M266.38,250.50 C267.33,248.42 269.62,247.88 272.08,247.20 C274.54,246.52 279.46,245.57 281.14,246.40 C282.81,247.23 282.53,249.85 282.12,252.20 C281.71,254.55 280.35,258.85 278.68,260.50 C277.00,262.15 274.13,262.23 272.08,262.10 C270.03,261.97 267.33,261.63 266.38,259.70 C265.43,257.77 265.43,252.58 266.38,250.50 Z" fill="none" stroke="#a09592" stroke-width="2.6" />
<path d="M282.22,252.20 C283.02,250.97 285.25,249.18 286.84,248.90 C288.43,248.62 290.40,249.40 291.76,250.50 C293.13,251.60 295.01,253.97 295.01,255.50 C295.01,257.03 293.54,259.00 291.76,259.70 C289.99,260.40 286.01,260.27 284.38,259.70 C282.76,259.13 282.38,257.55 282.02,256.30 C281.66,255.05 281.42,253.43 282.22,252.20 Z" fill="none" stroke="#a09592" stroke-width="2.6" />
<path d="M269.62,262.10 C270.72,259.98 275.81,260.60 278.68,260.20 C281.55,259.80 284.94,258.82 286.84,259.70 C288.75,260.58 289.27,263.70 290.09,265.50 C290.91,267.30 292.31,268.85 291.76,270.50 C291.22,272.15 289.03,274.43 286.84,275.40 C284.66,276.37 281.14,276.72 278.68,276.30 C276.22,275.88 273.59,275.27 272.08,272.90 C270.58,270.53 268.53,264.22 269.62,262.10 Z" fill="none" stroke="#a09592" stroke-width="2.6" />
<path d="M199.56,233.70 C200.47,233.20 201.12,235.70 200.55,237.70 C199.97,239.70 197.43,242.87 196.12,245.70 C194.81,248.53 193.33,251.87 192.68,254.70 C192.02,257.53 191.94,260.70 192.18,262.70 C192.43,264.70 194.64,266.20 194.15,266.70 C193.66,267.20 190.25,267.03 189.23,265.70 C188.21,264.37 187.80,261.37 188.05,258.70 C188.30,256.03 189.53,252.70 190.71,249.70 C191.89,246.70 193.66,243.37 195.14,240.70 C196.61,238.03 198.66,234.20 199.56,233.70 Z" fill="none" stroke="#a09592" stroke-width="2.6" />
<path d="M208.42,205.40 C209.09,204.35 210.86,203.45 212.26,202.90 C213.65,202.35 215.01,202.10 216.78,202.10 C218.55,202.10 221.36,202.22 222.88,202.90 C224.41,203.58 225.49,205.02 225.93,206.20 C226.38,207.38 226.05,208.85 225.54,210.00 C225.03,211.15 224.21,212.17 222.88,213.10 C221.56,214.03 218.83,214.58 217.57,215.60 C216.31,216.62 216.03,217.82 215.31,219.20 C214.59,220.58 213.88,222.83 213.24,223.90 C212.60,224.97 212.39,225.48 211.47,225.60 C210.55,225.72 208.24,225.67 207.73,224.60 C207.22,223.53 208.17,221.12 208.42,219.20 C208.67,217.28 209.24,214.77 209.21,213.10 C209.17,211.43 208.35,210.48 208.22,209.20 C208.09,207.92 207.75,206.45 208.42,205.40 Z" fill="url(#mixdots)" stroke="url(#mixdots)" stroke-width="1.6" />
<path d="M202.32,228.40 C203.53,226.70 206.09,225.70 207.93,225.50 C209.76,225.30 211.44,226.53 213.34,227.20 C215.24,227.87 217.46,228.83 219.34,229.50 C221.23,230.17 222.95,230.53 224.66,231.20 C226.36,231.87 228.46,232.33 229.58,233.50 C230.69,234.67 231.25,236.62 231.35,238.20 C231.44,239.78 231.28,242.17 230.17,243.00 C229.05,243.83 226.46,243.25 224.66,243.20 C222.85,243.15 221.23,242.87 219.34,242.70 C217.46,242.53 215.24,242.37 213.34,242.20 C211.44,242.03 209.76,241.87 207.93,241.70 C206.09,241.53 203.53,242.20 202.32,241.20 C201.10,240.20 200.65,237.83 200.65,235.70 C200.65,233.57 201.10,230.10 202.32,228.40 Z" fill="url(#mixdots)" stroke="url(#mixdots)" stroke-width="1.6" />
<path d="M219.05,242.20 C220.11,241.50 222.80,242.38 224.66,242.50 C226.51,242.62 228.76,242.63 230.17,242.90 C231.58,243.17 232.41,243.13 233.12,244.10 C233.82,245.07 234.20,247.18 234.40,248.70 C234.59,250.22 234.51,251.30 234.30,253.20 C234.09,255.10 234.07,258.35 233.12,260.10 C232.17,261.85 230.30,263.47 228.59,263.70 C226.89,263.93 224.20,262.58 222.88,261.50 C221.57,260.42 221.31,258.83 220.72,257.20 C220.13,255.57 219.75,253.45 219.34,251.70 C218.93,249.95 218.31,248.28 218.26,246.70 C218.21,245.12 217.98,242.90 219.05,242.20 Z" fill="url(#mixdots)" stroke="url(#mixdots)" stroke-width="1.6" />
<path d="M200.55,242.70 C201.04,241.70 201.94,241.78 203.01,241.70 C204.07,241.62 205.47,241.95 206.94,242.20 C208.42,242.45 210.39,242.53 211.86,243.20 C213.34,243.87 214.88,245.28 215.80,246.20 C216.72,247.12 217.49,247.82 217.37,248.70 C217.26,249.58 216.49,250.93 215.11,251.50 C213.73,252.07 211.13,252.20 209.11,252.10 C207.09,252.00 204.52,251.63 203.01,250.90 C201.50,250.17 200.47,249.07 200.06,247.70 C199.65,246.33 200.06,243.70 200.55,242.70 Z" fill="url(#mixsparse)" stroke="#b0a6a3" stroke-width="0.5" />
<path d="M199.66,233.70 C199.66,233.70 200.48,237.53 200.55,239.70 C200.61,241.87 199.81,244.70 200.06,246.70 C200.30,248.70 200.88,250.20 202.02,251.70 C203.17,253.20 204.94,254.50 206.94,255.70 C208.94,256.90 214.03,258.90 214.03,258.90 C214.03,258.90 208.45,259.65 205.96,260.20 C203.47,260.75 201.12,261.48 199.07,262.20 C197.02,262.92 195.40,264.25 193.66,264.50 C191.92,264.75 189.41,264.67 188.64,263.70 C187.87,262.73 188.53,260.87 189.03,258.70 C189.54,256.53 190.59,253.53 191.69,250.70 C192.79,247.87 194.30,244.53 195.63,241.70 C196.96,238.87 199.66,233.70 199.66,233.70 Z" fill="url(#mixsparse)" stroke="#b0a6a3" stroke-width="0.5" />
<path d="M189.43,264.20 C189.84,263.20 192.63,263.12 194.15,263.70 C195.68,264.28 197.10,266.28 198.58,267.70 C200.06,269.12 201.53,270.70 203.01,272.20 C204.48,273.70 207.03,275.37 207.44,276.70 C207.85,278.03 206.45,279.87 205.47,280.20 C204.48,280.53 203.01,279.70 201.53,278.70 C200.06,277.70 198.25,275.70 196.61,274.20 C194.97,272.70 192.89,271.37 191.69,269.70 C190.49,268.03 189.02,265.20 189.43,264.20 Z" fill="url(#mixdots)" stroke="url(#mixdots)" stroke-width="1.6" />
<path d="M206.45,277.20 C207.57,276.25 209.98,277.15 211.86,277.00 C213.75,276.85 215.80,276.38 217.77,276.30 C219.74,276.22 222.24,275.68 223.67,276.50 C225.10,277.32 226.10,279.50 226.33,281.20 C226.56,282.90 226.18,285.40 225.05,286.70 C223.92,288.00 221.31,288.43 219.54,289.00 C217.77,289.57 216.16,290.12 214.42,290.10 C212.68,290.08 210.65,290.13 209.11,288.90 C207.57,287.67 205.61,284.65 205.17,282.70 C204.73,280.75 205.34,278.15 206.45,277.20 Z" fill="url(#mixdots)" stroke="url(#mixdots)" stroke-width="1.6" />
<path d="M231.15,290.90 C231.02,289.33 231.67,287.90 232.23,286.70 C232.79,285.50 233.43,284.83 234.50,283.70 C235.56,282.57 237.30,280.37 238.63,279.90 C239.96,279.43 241.89,279.72 242.47,280.90 C243.04,282.08 242.58,285.20 242.07,287.00 C241.56,288.80 240.35,290.38 239.42,291.70 C238.48,293.02 237.53,294.17 236.46,294.90 C235.40,295.63 233.90,296.77 233.02,296.10 C232.13,295.43 231.28,292.47 231.15,290.90 Z" fill="url(#mixdots)" stroke="url(#mixdots)" stroke-width="1.6" />
<path d="M211.08,295.20 C211.58,294.02 212.75,292.75 214.03,292.00 C215.31,291.25 217.11,291.07 218.75,290.70 C220.39,290.33 221.87,289.72 223.87,289.80 C225.87,289.88 229.21,290.42 230.76,291.20 C232.30,291.98 233.25,293.42 233.12,294.50 C232.99,295.58 231.30,296.70 229.97,297.70 C228.64,298.70 226.54,299.73 225.15,300.50 C223.75,301.27 223.20,301.68 221.60,302.30 C220.01,302.92 217.18,304.20 215.60,304.20 C214.03,304.20 212.93,303.15 212.16,302.30 C211.39,301.45 211.16,300.28 210.98,299.10 C210.80,297.92 210.57,296.38 211.08,295.20 Z" fill="url(#mixdots)" stroke="url(#mixdots)" stroke-width="1.6" />
<path d="M216.78,266.70 C217.28,265.58 219.16,265.77 220.72,265.50 C222.28,265.23 224.33,265.03 226.13,265.10 C227.94,265.17 229.99,265.38 231.54,265.90 C233.10,266.42 235.05,267.15 235.48,268.20 C235.91,269.25 235.25,271.28 234.10,272.20 C232.95,273.12 230.49,273.40 228.59,273.70 C226.69,274.00 224.49,274.25 222.69,274.00 C220.88,273.75 218.75,273.42 217.77,272.20 C216.78,270.98 216.29,267.82 216.78,266.70 Z" fill="url(#mixsparse)" stroke="#b0a6a3" stroke-width="0.5" />
<path d="M244.73,276.20 C245.22,274.92 247.21,272.88 248.47,271.60 C249.73,270.32 251.26,269.15 252.31,268.50 C253.36,267.85 254.45,266.75 254.77,267.70 C255.08,268.65 254.96,272.40 254.18,274.20 C253.39,276.00 251.49,277.65 250.04,278.50 C248.60,279.35 246.40,279.68 245.52,279.30 C244.63,278.92 244.24,277.48 244.73,276.20 Z" fill="url(#mixdots)" stroke="url(#mixdots)" stroke-width="1.6" />
<path d="M279.46,217.10 C279.46,217.10 281.68,218.83 282.22,220.60 C282.76,222.37 282.63,225.48 282.71,227.70 C282.79,229.92 282.83,231.90 282.71,233.90 C282.60,235.90 282.28,237.77 282.02,239.70 C281.76,241.63 281.43,243.97 281.14,245.50 C280.84,247.03 281.76,248.33 280.25,248.90 C278.74,249.47 273.86,249.47 272.08,248.90 C270.31,248.33 270.17,247.45 269.62,245.50 C269.08,243.55 268.69,239.97 268.84,237.20 C268.98,234.43 269.56,231.25 270.51,228.90 C271.46,226.55 273.05,225.07 274.54,223.10 C276.04,221.13 279.46,217.10 279.46,217.10 Z" fill="url(#mixdots)" stroke="url(#mixdots)" stroke-width="1.6" />
<path d="M262.34,256.30 C263.42,254.78 265.16,252.03 266.38,253.00 C267.59,253.97 268.80,259.05 269.62,262.10 C270.44,265.15 271.56,269.50 271.30,271.30 C271.03,273.10 269.41,273.32 268.05,272.90 C266.69,272.48 264.49,270.60 263.13,268.80 C261.77,267.00 260.01,264.18 259.88,262.10 C259.75,260.02 261.26,257.82 262.34,256.30 Z" fill="url(#mixdots)" stroke="url(#mixdots)" stroke-width="1.6" />
<path d="M266.38,250.50 C267.33,248.42 269.62,247.88 272.08,247.20 C274.54,246.52 279.46,245.57 281.14,246.40 C282.81,247.23 282.53,249.85 282.12,252.20 C281.71,254.55 280.35,258.85 278.68,260.50 C277.00,262.15 274.13,262.23 272.08,262.10 C270.03,261.97 267.33,261.63 266.38,259.70 C265.43,257.77 265.43,252.58 266.38,250.50 Z" fill="url(#mixdots)" stroke="url(#mixdots)" stroke-width="1.6" />
<path d="M282.22,252.20 C283.02,250.97 285.25,249.18 286.84,248.90 C288.43,248.62 290.40,249.40 291.76,250.50 C293.13,251.60 295.01,253.97 295.01,255.50 C295.01,257.03 293.54,259.00 291.76,259.70 C289.99,260.40 286.01,260.27 284.38,259.70 C282.76,259.13 282.38,257.55 282.02,256.30 C281.66,255.05 281.42,253.43 282.22,252.20 Z" fill="url(#mixdots)" stroke="url(#mixdots)" stroke-width="1.6" />
<path d="M269.62,262.10 C270.72,259.98 275.81,260.60 278.68,260.20 C281.55,259.80 284.94,258.82 286.84,259.70 C288.75,260.58 289.27,263.70 290.09,265.50 C290.91,267.30 292.31,268.85 291.76,270.50 C291.22,272.15 289.03,274.43 286.84,275.40 C284.66,276.37 281.14,276.72 278.68,276.30 C276.22,275.88 273.59,275.27 272.08,272.90 C270.58,270.53 268.53,264.22 269.62,262.10 Z" fill="url(#mixdots)" stroke="url(#mixdots)" stroke-width="1.6" />
<path d="M199.56,233.70 C200.47,233.20 201.12,235.70 200.55,237.70 C199.97,239.70 197.43,242.87 196.12,245.70 C194.81,248.53 193.33,251.87 192.68,254.70 C192.02,257.53 191.94,260.70 192.18,262.70 C192.43,264.70 194.64,266.20 194.15,266.70 C193.66,267.20 190.25,267.03 189.23,265.70 C188.21,264.37 187.80,261.37 188.05,258.70 C188.30,256.03 189.53,252.70 190.71,249.70 C191.89,246.70 193.66,243.37 195.14,240.70 C196.61,238.03 198.66,234.20 199.56,233.70 Z" fill="url(#mixdots)" stroke="url(#mixdots)" stroke-width="1.6" />
<text x="46.60" y="53.70" font-size="8.2" text-anchor="start" fill="#2e2e2e" textLength="10.4" lengthAdjust="spacingAndGlyphs" stroke="#2e2e2e" stroke-width="0.1">DC</text>
<text x="61.00" y="56.60" font-size="8.2" text-anchor="start" fill="#2e2e2e" textLength="18.0" lengthAdjust="spacingAndGlyphs" stroke="#2e2e2e" stroke-width="0.1">LMPP</text>
<text x="130.90" y="47.40" font-size="8.2" text-anchor="start" fill="#2e2e2e" textLength="17.8" lengthAdjust="spacingAndGlyphs" stroke="#2e2e2e" stroke-width="0.1">B cell</text>
<text x="132.00" y="56.30" font-size="8.2" text-anchor="start" fill="#2e2e2e" textLength="15.6" lengthAdjust="spacingAndGlyphs" stroke="#2e2e2e" stroke-width="0.1">Prog</text>
<text x="87.00" y="79.60" font-size="8.2" text-anchor="start" fill="#2e2e2e" textLength="50.8" lengthAdjust="spacingAndGlyphs" stroke="#2e2e2e" stroke-width="0.1">Early Lymphoid</text>
<text x="104.30" y="88.80" font-size="8.2" text-anchor="start" fill="#2e2e2e" textLength="15.7" lengthAdjust="spacingAndGlyphs" stroke="#2e2e2e" stroke-width="0.1">Prog</text>
<text x="41.00" y="89.40" font-size="8.2" text-anchor="start" fill="#2e2e2e" textLength="15.5" lengthAdjust="spacingAndGlyphs" stroke="#2e2e2e" stroke-width="0.1">GMP</text>
<text x="75.00" y="96.30" font-size="8.2" text-anchor="start" fill="#2e2e2e" textLength="9.7" lengthAdjust="spacingAndGlyphs" stroke="#2e2e2e" stroke-width="0.1">NK</text>
<text x="72.60" y="126.70" font-size="8.2" text-anchor="start" fill="#2e2e2e" textLength="14.4" lengthAdjust="spacingAndGlyphs" stroke="#2e2e2e" stroke-width="0.1">HSC</text>
<text x="72.60" y="226.00" font-size="8.2" text-anchor="start" fill="#2e2e2e" textLength="13.8" lengthAdjust="spacingAndGlyphs" stroke="#2e2e2e" stroke-width="0.1">cDC</text>
<text x="59.30" y="250.20" font-size="8.2" text-anchor="start" fill="#2e2e2e" textLength="13.3" lengthAdjust="spacingAndGlyphs" stroke="#2e2e2e" stroke-width="0.1">pDC</text>
<text x="85.90" y="253.70" font-size="8.2" text-anchor="start" fill="#2e2e2e" textLength="27.9" lengthAdjust="spacingAndGlyphs" stroke="#2e2e2e" stroke-width="0.1">DC Prog</text>
<text x="41.00" y="260.80" font-size="8.2" text-anchor="start" fill="#2e2e2e" textLength="18.0" lengthAdjust="spacingAndGlyphs" stroke="#2e2e2e" stroke-width="0.1">Mono</text>
<text x="43.00" y="270.20" font-size="8.2" text-anchor="start" fill="#2e2e2e" textLength="15.8" lengthAdjust="spacingAndGlyphs" stroke="#2e2e2e" stroke-width="0.1">Prog</text>
<text x="62.80" y="268.30" font-size="8.2" text-anchor="start" fill="#2e2e2e" textLength="51.6" lengthAdjust="spacingAndGlyphs" stroke="#2e2e2e" stroke-width="0.1">Early Lymphoid</text>
<text x="81.20" y="276.80" font-size="8.2" text-anchor="start" fill="#2e2e2e" textLength="14.5" lengthAdjust="spacingAndGlyphs" stroke="#2e2e2e" stroke-width="0.1">Prog</text>
<text x="45.50" y="292.50" font-size="8.2" text-anchor="start" fill="#2e2e2e" textLength="16.1" lengthAdjust="spacingAndGlyphs" stroke="#2e2e2e" stroke-width="0.1">GMP</text>
<text x="110.30" y="283.50" font-size="8.2" text-anchor="start" fill="#2e2e2e" textLength="13.3" lengthAdjust="spacingAndGlyphs" stroke="#2e2e2e" stroke-width="0.1">HSC</text>
<text x="95.00" y="305.50" font-size="8.2" text-anchor="start" fill="#2e2e2e" textLength="19.0" lengthAdjust="spacingAndGlyphs" stroke="#2e2e2e" stroke-width="0.1">LMPP</text>
<text x="129.00" y="208.10" font-size="8.2" text-anchor="start" fill="#2e2e2e" textLength="24.0" lengthAdjust="spacingAndGlyphs" stroke="#2e2e2e" stroke-width="0.1">Ery/Mk</text>
<text x="132.60" y="217.30" font-size="8.2" text-anchor="start" fill="#2e2e2e" textLength="16.4" lengthAdjust="spacingAndGlyphs" stroke="#2e2e2e" stroke-width="0.1">Prog</text>
<circle cx="239.3" cy="106.0" r="2.35" fill="#d9605e"/>
<text x="246.60" y="108.60" font-size="7.4" text-anchor="start" fill="#262626" font-style="italic" textLength="22.3" lengthAdjust="spacingAndGlyphs" stroke="#262626" stroke-width="0.05">U2AF1</text>
<text x="269.20" y="106.40" font-size="5.0" text-anchor="start" fill="#3a3a3a" font-style="italic" textLength="22.5" lengthAdjust="spacingAndGlyphs">wild-type</text>
<circle cx="239.3" cy="116.2" r="2.35" fill="#2a9e96"/>
<text x="246.60" y="118.90" font-size="7.4" text-anchor="start" fill="#262626" font-style="italic" textLength="22.3" lengthAdjust="spacingAndGlyphs" stroke="#262626" stroke-width="0.05">U2AF1</text>
<text x="269.20" y="116.70" font-size="5.0" text-anchor="start" fill="#3a3a3a" font-style="italic" textLength="8.5" lengthAdjust="spacingAndGlyphs">S34</text>
<circle cx="239.3" cy="125.9" r="2.35" fill="#dedede"/>
<text x="247.40" y="128.50" font-size="7.4" text-anchor="start" fill="#262626" textLength="10.4" lengthAdjust="spacingAndGlyphs" stroke="#262626" stroke-width="0.05">NA</text>
<circle cx="242.7" cy="204.8" r="2.35" fill="#d9705e"/>
<text x="247.70" y="207.60" font-size="7.4" text-anchor="start" fill="#262626" font-style="italic" textLength="22.3" lengthAdjust="spacingAndGlyphs" stroke="#262626" stroke-width="0.05">U2AF1</text>
<text x="270.30" y="205.40" font-size="5.0" text-anchor="start" fill="#3a3a3a" font-style="italic" textLength="22.5" lengthAdjust="spacingAndGlyphs">wild-type</text>
<circle cx="242.7" cy="214.3" r="2.35" fill="#2aa39b"/>
<text x="247.70" y="216.90" font-size="7.4" text-anchor="start" fill="#262626" font-style="italic" textLength="22.3" lengthAdjust="spacingAndGlyphs" stroke="#262626" stroke-width="0.05">U2AF1</text>
<text x="270.30" y="214.70" font-size="5.0" text-anchor="start" fill="#3a3a3a" font-style="italic" textLength="8.5" lengthAdjust="spacingAndGlyphs">S34</text>
<rect x="0.5" y="0.5" width="519" height="600" fill="none" stroke="#555" stroke-width="1.2"/>
</svg>
</body></html>
